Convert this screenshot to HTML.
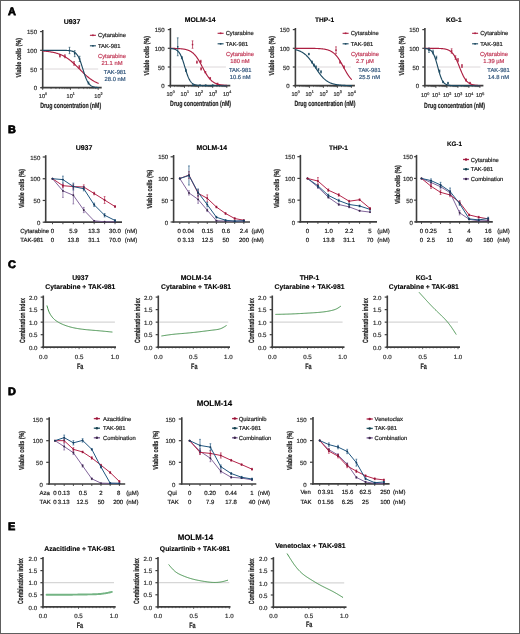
<!DOCTYPE html>
<html><head><meta charset="utf-8"><style>
html,body{margin:0;padding:0;background:#fff;}
#wrap{position:relative;width:520px;height:634px;overflow:hidden;background:#fff;}
svg{display:block;will-change:transform;text-rendering:geometricPrecision;font-family:"Liberation Sans",sans-serif;}
#bd{position:absolute;left:0;top:0;width:520px;height:634px;box-sizing:border-box;border:1px solid #5e5e5e;}
</style></head><body><div id="wrap">
<svg width="520" height="634" viewBox="0 0 520 634">
<g>
<rect x="0" y="0" width="520" height="634" fill="#fff"/>
<text x="8.00" y="14.60" font-size="10.9" text-anchor="start" font-weight="bold" fill="#000" stroke="#000" stroke-width="0.75">A</text>
<text x="8.00" y="133.40" font-size="10.9" text-anchor="start" font-weight="bold" fill="#000" stroke="#000" stroke-width="0.75">B</text>
<text x="7.90" y="268.00" font-size="10.9" text-anchor="start" font-weight="bold" fill="#000" stroke="#000" stroke-width="0.75">C</text>
<text x="8.00" y="394.50" font-size="10.9" text-anchor="start" font-weight="bold" fill="#000" stroke="#000" stroke-width="0.75">D</text>
<text x="8.00" y="530.20" font-size="10.9" text-anchor="start" font-weight="bold" fill="#000" stroke="#000" stroke-width="0.75">E</text>
<line x1="44.70" y1="69.00" x2="98.20" y2="69.00" stroke="#d2cbce" stroke-width="0.75"/>
<line x1="42.70" y1="30.00" x2="42.70" y2="88.30" stroke="#3e3e3e" stroke-width="1.6"/>
<line x1="40.10" y1="31.60" x2="42.70" y2="31.60" stroke="#3e3e3e" stroke-width="1.2"/>
<text x="37.00" y="34.20" font-size="6.0" text-anchor="end" fill="#333" stroke="#333" stroke-width="0.2">150</text>
<line x1="40.10" y1="50.30" x2="42.70" y2="50.30" stroke="#3e3e3e" stroke-width="1.2"/>
<text x="37.00" y="52.90" font-size="6.0" text-anchor="end" fill="#333" stroke="#333" stroke-width="0.2">100</text>
<line x1="40.10" y1="69.00" x2="42.70" y2="69.00" stroke="#3e3e3e" stroke-width="1.2"/>
<text x="37.00" y="71.60" font-size="6.0" text-anchor="end" fill="#333" stroke="#333" stroke-width="0.2">50</text>
<line x1="40.10" y1="87.70" x2="42.70" y2="87.70" stroke="#3e3e3e" stroke-width="1.2"/>
<text x="37.00" y="90.30" font-size="6.0" text-anchor="end" fill="#333" stroke="#333" stroke-width="0.2">0</text>
<line x1="41.50" y1="87.70" x2="101.70" y2="87.70" stroke="#3e3e3e" stroke-width="1.8"/>
<line x1="42.70" y1="87.70" x2="42.70" y2="89.90" stroke="#3e3e3e" stroke-width="0.9"/>
<line x1="51.05" y1="87.70" x2="51.05" y2="89.10" stroke="#3e3e3e" stroke-width="0.6"/>
<line x1="55.94" y1="87.70" x2="55.94" y2="89.10" stroke="#3e3e3e" stroke-width="0.6"/>
<line x1="59.41" y1="87.70" x2="59.41" y2="89.10" stroke="#3e3e3e" stroke-width="0.6"/>
<line x1="62.10" y1="87.70" x2="62.10" y2="89.10" stroke="#3e3e3e" stroke-width="0.6"/>
<line x1="64.29" y1="87.70" x2="64.29" y2="89.10" stroke="#3e3e3e" stroke-width="0.6"/>
<line x1="66.15" y1="87.70" x2="66.15" y2="89.10" stroke="#3e3e3e" stroke-width="0.6"/>
<line x1="67.76" y1="87.70" x2="67.76" y2="89.10" stroke="#3e3e3e" stroke-width="0.6"/>
<line x1="69.18" y1="87.70" x2="69.18" y2="89.10" stroke="#3e3e3e" stroke-width="0.6"/>
<text x="41.90" y="97.80" font-size="5.6" text-anchor="middle" fill="#333" stroke="#333" stroke-width="0.2">10</text>
<text x="45.10" y="95.10" font-size="3.7" text-anchor="start" fill="#333" stroke="#333" stroke-width="0.2">0</text>
<line x1="70.45" y1="87.70" x2="70.45" y2="89.90" stroke="#3e3e3e" stroke-width="0.9"/>
<line x1="78.80" y1="87.70" x2="78.80" y2="89.10" stroke="#3e3e3e" stroke-width="0.6"/>
<line x1="83.69" y1="87.70" x2="83.69" y2="89.10" stroke="#3e3e3e" stroke-width="0.6"/>
<line x1="87.16" y1="87.70" x2="87.16" y2="89.10" stroke="#3e3e3e" stroke-width="0.6"/>
<line x1="89.85" y1="87.70" x2="89.85" y2="89.10" stroke="#3e3e3e" stroke-width="0.6"/>
<line x1="92.04" y1="87.70" x2="92.04" y2="89.10" stroke="#3e3e3e" stroke-width="0.6"/>
<line x1="93.90" y1="87.70" x2="93.90" y2="89.10" stroke="#3e3e3e" stroke-width="0.6"/>
<line x1="95.51" y1="87.70" x2="95.51" y2="89.10" stroke="#3e3e3e" stroke-width="0.6"/>
<line x1="96.93" y1="87.70" x2="96.93" y2="89.10" stroke="#3e3e3e" stroke-width="0.6"/>
<text x="69.65" y="97.80" font-size="5.6" text-anchor="middle" fill="#333" stroke="#333" stroke-width="0.2">10</text>
<text x="72.85" y="95.10" font-size="3.7" text-anchor="start" fill="#333" stroke="#333" stroke-width="0.2">1</text>
<line x1="98.20" y1="87.70" x2="98.20" y2="89.90" stroke="#3e3e3e" stroke-width="0.9"/>
<text x="97.40" y="97.80" font-size="5.6" text-anchor="middle" fill="#333" stroke="#333" stroke-width="0.2">10</text>
<text x="100.60" y="95.10" font-size="3.7" text-anchor="start" fill="#333" stroke="#333" stroke-width="0.2">2</text>
<text x="70.65" y="108.10" font-size="7.6" text-anchor="middle" font-weight="bold" fill="#222222" stroke="#222222" stroke-width="0.2" textLength="61.00" lengthAdjust="spacingAndGlyphs">Drug concentration (nM)</text>
<text x="21.50" y="57.80" font-size="7.2" text-anchor="middle" font-weight="bold" fill="#222222" stroke="#222222" stroke-width="0.2" transform="rotate(-90 21.50 57.80)" textLength="39.50" lengthAdjust="spacingAndGlyphs">Viable cells (%)</text>
<text x="72.00" y="23.60" font-size="7.0" text-anchor="middle" font-weight="bold" fill="#000" stroke="#000" stroke-width="0.12">U937</text>
<path d="M42.70,51.00 L43.26,51.04 L43.81,51.08 L44.37,51.13 L44.92,51.18 L45.48,51.23 L46.03,51.29 L46.59,51.35 L47.14,51.41 L47.70,51.48 L48.25,51.55 L48.81,51.62 L49.36,51.70 L49.92,51.78 L50.47,51.87 L51.03,51.97 L51.58,52.06 L52.14,52.17 L52.69,52.28 L53.25,52.39 L53.80,52.51 L54.36,52.64 L54.91,52.77 L55.47,52.92 L56.02,53.07 L56.58,53.22 L57.13,53.39 L57.69,53.56 L58.24,53.75 L58.80,53.94 L59.35,54.14 L59.91,54.35 L60.46,54.57 L61.02,54.80 L61.57,55.05 L62.12,55.30 L62.68,55.57 L63.23,55.84 L63.79,56.13 L64.34,56.43 L64.90,56.74 L65.45,57.07 L66.01,57.41 L66.56,57.76 L67.12,58.12 L67.68,58.50 L68.23,58.89 L68.78,59.29 L69.34,59.71 L69.90,60.14 L70.45,60.58 L71.00,61.03 L71.56,61.49 L72.12,61.97 L72.67,62.45 L73.23,62.95 L73.78,63.45 L74.34,63.97 L74.89,64.49 L75.44,65.02 L76.00,65.56 L76.56,66.10 L77.11,66.65 L77.67,67.21 L78.22,67.76 L78.78,68.32 L79.33,68.88 L79.89,69.44 L80.44,70.00 L81.00,70.56 L81.55,71.11 L82.11,71.66 L82.66,72.21 L83.22,72.75 L83.77,73.28 L84.33,73.81 L84.88,74.33 L85.44,74.84 L85.99,75.34 L86.55,75.83 L87.10,76.31 L87.66,76.78 L88.21,77.23 L88.77,77.68 L89.32,78.11 L89.88,78.53 L90.43,78.94 L90.98,79.33 L91.54,79.72 L92.09,80.09 L92.65,80.44 L93.21,80.79 L93.76,81.12 L94.31,81.44 L94.87,81.74 L95.42,82.04 L95.98,82.32 L96.53,82.59 L97.09,82.85 L97.65,83.09 L98.20,83.33" fill="none" stroke="#ad1f42" stroke-width="1.15" stroke-linejoin="round" stroke-linecap="round"/>
<path d="M42.70,50.30 L43.26,50.30 L43.81,50.30 L44.37,50.30 L44.92,50.30 L45.48,50.30 L46.03,50.30 L46.59,50.30 L47.14,50.30 L47.70,50.30 L48.25,50.30 L48.81,50.30 L49.36,50.30 L49.92,50.30 L50.47,50.30 L51.03,50.30 L51.58,50.30 L52.14,50.30 L52.69,50.30 L53.25,50.30 L53.80,50.30 L54.36,50.30 L54.91,50.30 L55.47,50.30 L56.02,50.30 L56.58,50.30 L57.13,50.30 L57.69,50.31 L58.24,50.31 L58.80,50.31 L59.35,50.31 L59.91,50.31 L60.46,50.32 L61.02,50.32 L61.57,50.32 L62.12,50.33 L62.68,50.33 L63.23,50.34 L63.79,50.35 L64.34,50.36 L64.90,50.37 L65.45,50.39 L66.01,50.41 L66.56,50.43 L67.12,50.45 L67.68,50.49 L68.23,50.53 L68.78,50.58 L69.34,50.63 L69.90,50.70 L70.45,50.79 L71.00,50.89 L71.56,51.02 L72.12,51.16 L72.67,51.34 L73.23,51.56 L73.78,51.82 L74.34,52.12 L74.89,52.49 L75.44,52.93 L76.00,53.44 L76.56,54.04 L77.11,54.74 L77.67,55.56 L78.22,56.50 L78.78,57.56 L79.33,58.76 L79.89,60.09 L80.44,61.55 L81.00,63.13 L81.55,64.81 L82.11,66.56 L82.66,68.35 L83.22,70.16 L83.77,71.94 L84.33,73.68 L84.88,75.33 L85.44,76.87 L85.99,78.30 L86.55,79.59 L87.10,80.75 L87.66,81.78 L88.21,82.68 L88.77,83.47 L89.32,84.14 L89.88,84.72 L90.43,85.21 L90.98,85.62 L91.54,85.97 L92.09,86.26 L92.65,86.51 L93.21,86.71 L93.76,86.88 L94.31,87.02 L94.87,87.14 L95.42,87.24 L95.98,87.32 L96.53,87.38 L97.09,87.44 L97.65,87.49 L98.20,87.52" fill="none" stroke="#1d4a62" stroke-width="1.15" stroke-linejoin="round" stroke-linecap="round"/>
<line x1="59.91" y1="54.79" x2="59.91" y2="57.03" stroke="#ad1f42" stroke-width="0.7"/>
<line x1="59.01" y1="54.79" x2="60.80" y2="54.79" stroke="#ad1f42" stroke-width="0.6"/>
<line x1="59.01" y1="57.03" x2="60.80" y2="57.03" stroke="#ad1f42" stroke-width="0.6"/>
<rect x="59.16" y="55.16" width="1.5" height="1.5" fill="#ad1f42"/>
<line x1="64.90" y1="54.79" x2="64.90" y2="57.78" stroke="#ad1f42" stroke-width="0.7"/>
<line x1="64.00" y1="54.79" x2="65.80" y2="54.79" stroke="#ad1f42" stroke-width="0.6"/>
<line x1="64.00" y1="57.78" x2="65.80" y2="57.78" stroke="#ad1f42" stroke-width="0.6"/>
<rect x="64.15" y="55.53" width="1.5" height="1.5" fill="#ad1f42"/>
<line x1="74.06" y1="61.52" x2="74.06" y2="65.26" stroke="#ad1f42" stroke-width="0.7"/>
<line x1="73.16" y1="61.52" x2="74.96" y2="61.52" stroke="#ad1f42" stroke-width="0.6"/>
<line x1="73.16" y1="65.26" x2="74.96" y2="65.26" stroke="#ad1f42" stroke-width="0.6"/>
<rect x="73.31" y="62.64" width="1.5" height="1.5" fill="#ad1f42"/>
<line x1="79.33" y1="65.41" x2="79.33" y2="68.40" stroke="#ad1f42" stroke-width="0.7"/>
<line x1="78.43" y1="65.41" x2="80.23" y2="65.41" stroke="#ad1f42" stroke-width="0.6"/>
<line x1="78.43" y1="68.40" x2="80.23" y2="68.40" stroke="#ad1f42" stroke-width="0.6"/>
<rect x="78.58" y="66.16" width="1.5" height="1.5" fill="#ad1f42"/>
<line x1="69.51" y1="47.31" x2="69.51" y2="53.67" stroke="#1d4a62" stroke-width="0.7"/>
<line x1="68.61" y1="47.31" x2="70.41" y2="47.31" stroke="#1d4a62" stroke-width="0.6"/>
<line x1="68.61" y1="53.67" x2="70.41" y2="53.67" stroke="#1d4a62" stroke-width="0.6"/>
<rect x="68.76" y="49.74" width="1.5" height="1.5" fill="#1d4a62"/>
<line x1="74.70" y1="50.67" x2="74.70" y2="56.66" stroke="#1d4a62" stroke-width="0.7"/>
<line x1="73.80" y1="50.67" x2="75.60" y2="50.67" stroke="#1d4a62" stroke-width="0.6"/>
<line x1="73.80" y1="56.66" x2="75.60" y2="56.66" stroke="#1d4a62" stroke-width="0.6"/>
<rect x="73.95" y="52.92" width="1.5" height="1.5" fill="#1d4a62"/>
<line x1="79.61" y1="56.28" x2="79.61" y2="61.52" stroke="#1d4a62" stroke-width="0.7"/>
<line x1="78.71" y1="56.28" x2="80.51" y2="56.28" stroke="#1d4a62" stroke-width="0.6"/>
<line x1="78.71" y1="61.52" x2="80.51" y2="61.52" stroke="#1d4a62" stroke-width="0.6"/>
<rect x="78.86" y="58.15" width="1.5" height="1.5" fill="#1d4a62"/>
<line x1="88.49" y1="81.90" x2="88.49" y2="84.15" stroke="#1d4a62" stroke-width="0.7"/>
<line x1="87.59" y1="81.90" x2="89.39" y2="81.90" stroke="#1d4a62" stroke-width="0.6"/>
<line x1="87.59" y1="84.15" x2="89.39" y2="84.15" stroke="#1d4a62" stroke-width="0.6"/>
<rect x="87.74" y="82.28" width="1.5" height="1.5" fill="#1d4a62"/>
<line x1="89.90" y1="35.30" x2="95.90" y2="35.30" stroke="#ad1f42" stroke-width="1.1"/>
<rect x="92.10" y="34.50" width="1.6" height="1.6" fill="#ad1f42"/>
<text x="98.00" y="37.30" font-size="5.8" text-anchor="start" fill="#222222" stroke="#222222" stroke-width="0.2">Cytarabine</text>
<line x1="89.90" y1="45.80" x2="95.90" y2="45.80" stroke="#1d4a62" stroke-width="1.1"/>
<rect x="92.10" y="45.00" width="1.6" height="1.6" fill="#1d4a62"/>
<text x="98.00" y="47.80" font-size="5.8" text-anchor="start" fill="#222222" stroke="#222222" stroke-width="0.2">TAK-981</text>
<text x="112.00" y="57.70" font-size="5.8" text-anchor="middle" fill="#c23a58" stroke="#c23a58" stroke-width="0.2">Cytarabine</text>
<text x="112.00" y="64.70" font-size="5.8" text-anchor="middle" fill="#c23a58" stroke="#c23a58" stroke-width="0.2">21.1 nM</text>
<text x="115.10" y="74.40" font-size="5.8" text-anchor="middle" fill="#32567c" stroke="#32567c" stroke-width="0.2">TAK-981</text>
<text x="115.10" y="81.40" font-size="5.8" text-anchor="middle" fill="#32567c" stroke="#32567c" stroke-width="0.2">28.0 nM</text>
<line x1="172.40" y1="67.00" x2="225.90" y2="67.00" stroke="#d2cbce" stroke-width="0.75"/>
<line x1="170.40" y1="28.00" x2="170.40" y2="86.30" stroke="#3e3e3e" stroke-width="1.6"/>
<line x1="167.80" y1="29.60" x2="170.40" y2="29.60" stroke="#3e3e3e" stroke-width="1.2"/>
<text x="164.70" y="32.20" font-size="6.0" text-anchor="end" fill="#333" stroke="#333" stroke-width="0.2">150</text>
<line x1="167.80" y1="48.30" x2="170.40" y2="48.30" stroke="#3e3e3e" stroke-width="1.2"/>
<text x="164.70" y="50.90" font-size="6.0" text-anchor="end" fill="#333" stroke="#333" stroke-width="0.2">100</text>
<line x1="167.80" y1="67.00" x2="170.40" y2="67.00" stroke="#3e3e3e" stroke-width="1.2"/>
<text x="164.70" y="69.60" font-size="6.0" text-anchor="end" fill="#333" stroke="#333" stroke-width="0.2">50</text>
<line x1="167.80" y1="85.70" x2="170.40" y2="85.70" stroke="#3e3e3e" stroke-width="1.2"/>
<text x="164.70" y="88.30" font-size="6.0" text-anchor="end" fill="#333" stroke="#333" stroke-width="0.2">0</text>
<line x1="169.20" y1="85.70" x2="230.30" y2="85.70" stroke="#3e3e3e" stroke-width="1.8"/>
<line x1="170.40" y1="85.70" x2="170.40" y2="87.90" stroke="#3e3e3e" stroke-width="0.9"/>
<line x1="174.64" y1="85.70" x2="174.64" y2="87.10" stroke="#3e3e3e" stroke-width="0.6"/>
<line x1="177.13" y1="85.70" x2="177.13" y2="87.10" stroke="#3e3e3e" stroke-width="0.6"/>
<line x1="178.89" y1="85.70" x2="178.89" y2="87.10" stroke="#3e3e3e" stroke-width="0.6"/>
<line x1="180.26" y1="85.70" x2="180.26" y2="87.10" stroke="#3e3e3e" stroke-width="0.6"/>
<line x1="181.37" y1="85.70" x2="181.37" y2="87.10" stroke="#3e3e3e" stroke-width="0.6"/>
<line x1="182.32" y1="85.70" x2="182.32" y2="87.10" stroke="#3e3e3e" stroke-width="0.6"/>
<line x1="183.13" y1="85.70" x2="183.13" y2="87.10" stroke="#3e3e3e" stroke-width="0.6"/>
<line x1="183.85" y1="85.70" x2="183.85" y2="87.10" stroke="#3e3e3e" stroke-width="0.6"/>
<text x="169.60" y="95.80" font-size="5.6" text-anchor="middle" fill="#333" stroke="#333" stroke-width="0.2">10</text>
<text x="172.80" y="93.10" font-size="3.7" text-anchor="start" fill="#333" stroke="#333" stroke-width="0.2">0</text>
<line x1="184.50" y1="85.70" x2="184.50" y2="87.90" stroke="#3e3e3e" stroke-width="0.9"/>
<line x1="188.74" y1="85.70" x2="188.74" y2="87.10" stroke="#3e3e3e" stroke-width="0.6"/>
<line x1="191.23" y1="85.70" x2="191.23" y2="87.10" stroke="#3e3e3e" stroke-width="0.6"/>
<line x1="192.99" y1="85.70" x2="192.99" y2="87.10" stroke="#3e3e3e" stroke-width="0.6"/>
<line x1="194.36" y1="85.70" x2="194.36" y2="87.10" stroke="#3e3e3e" stroke-width="0.6"/>
<line x1="195.47" y1="85.70" x2="195.47" y2="87.10" stroke="#3e3e3e" stroke-width="0.6"/>
<line x1="196.42" y1="85.70" x2="196.42" y2="87.10" stroke="#3e3e3e" stroke-width="0.6"/>
<line x1="197.23" y1="85.70" x2="197.23" y2="87.10" stroke="#3e3e3e" stroke-width="0.6"/>
<line x1="197.95" y1="85.70" x2="197.95" y2="87.10" stroke="#3e3e3e" stroke-width="0.6"/>
<text x="183.70" y="95.80" font-size="5.6" text-anchor="middle" fill="#333" stroke="#333" stroke-width="0.2">10</text>
<text x="186.90" y="93.10" font-size="3.7" text-anchor="start" fill="#333" stroke="#333" stroke-width="0.2">1</text>
<line x1="198.60" y1="85.70" x2="198.60" y2="87.90" stroke="#3e3e3e" stroke-width="0.9"/>
<line x1="202.84" y1="85.70" x2="202.84" y2="87.10" stroke="#3e3e3e" stroke-width="0.6"/>
<line x1="205.33" y1="85.70" x2="205.33" y2="87.10" stroke="#3e3e3e" stroke-width="0.6"/>
<line x1="207.09" y1="85.70" x2="207.09" y2="87.10" stroke="#3e3e3e" stroke-width="0.6"/>
<line x1="208.46" y1="85.70" x2="208.46" y2="87.10" stroke="#3e3e3e" stroke-width="0.6"/>
<line x1="209.57" y1="85.70" x2="209.57" y2="87.10" stroke="#3e3e3e" stroke-width="0.6"/>
<line x1="210.52" y1="85.70" x2="210.52" y2="87.10" stroke="#3e3e3e" stroke-width="0.6"/>
<line x1="211.33" y1="85.70" x2="211.33" y2="87.10" stroke="#3e3e3e" stroke-width="0.6"/>
<line x1="212.05" y1="85.70" x2="212.05" y2="87.10" stroke="#3e3e3e" stroke-width="0.6"/>
<text x="197.80" y="95.80" font-size="5.6" text-anchor="middle" fill="#333" stroke="#333" stroke-width="0.2">10</text>
<text x="201.00" y="93.10" font-size="3.7" text-anchor="start" fill="#333" stroke="#333" stroke-width="0.2">2</text>
<line x1="212.70" y1="85.70" x2="212.70" y2="87.90" stroke="#3e3e3e" stroke-width="0.9"/>
<line x1="216.94" y1="85.70" x2="216.94" y2="87.10" stroke="#3e3e3e" stroke-width="0.6"/>
<line x1="219.43" y1="85.70" x2="219.43" y2="87.10" stroke="#3e3e3e" stroke-width="0.6"/>
<line x1="221.19" y1="85.70" x2="221.19" y2="87.10" stroke="#3e3e3e" stroke-width="0.6"/>
<line x1="222.56" y1="85.70" x2="222.56" y2="87.10" stroke="#3e3e3e" stroke-width="0.6"/>
<line x1="223.67" y1="85.70" x2="223.67" y2="87.10" stroke="#3e3e3e" stroke-width="0.6"/>
<line x1="224.62" y1="85.70" x2="224.62" y2="87.10" stroke="#3e3e3e" stroke-width="0.6"/>
<line x1="225.43" y1="85.70" x2="225.43" y2="87.10" stroke="#3e3e3e" stroke-width="0.6"/>
<line x1="226.15" y1="85.70" x2="226.15" y2="87.10" stroke="#3e3e3e" stroke-width="0.6"/>
<text x="211.90" y="95.80" font-size="5.6" text-anchor="middle" fill="#333" stroke="#333" stroke-width="0.2">10</text>
<text x="215.10" y="93.10" font-size="3.7" text-anchor="start" fill="#333" stroke="#333" stroke-width="0.2">3</text>
<line x1="226.80" y1="85.70" x2="226.80" y2="87.90" stroke="#3e3e3e" stroke-width="0.9"/>
<text x="226.00" y="95.80" font-size="5.6" text-anchor="middle" fill="#333" stroke="#333" stroke-width="0.2">10</text>
<text x="229.20" y="93.10" font-size="3.7" text-anchor="start" fill="#333" stroke="#333" stroke-width="0.2">4</text>
<text x="200.60" y="106.10" font-size="7.6" text-anchor="middle" font-weight="bold" fill="#222222" stroke="#222222" stroke-width="0.2" textLength="61.00" lengthAdjust="spacingAndGlyphs">Drug concentration (nM)</text>
<text x="149.20" y="55.80" font-size="7.2" text-anchor="middle" font-weight="bold" fill="#222222" stroke="#222222" stroke-width="0.2" transform="rotate(-90 149.20 55.80)" textLength="39.50" lengthAdjust="spacingAndGlyphs">Viable cells (%)</text>
<text x="200.20" y="21.60" font-size="6.85" text-anchor="middle" font-weight="bold" fill="#000" stroke="#000" stroke-width="0.12">MOLM-14</text>
<path d="M170.40,48.35 L170.68,48.36 L170.96,48.36 L171.25,48.36 L171.53,48.37 L171.81,48.37 L172.09,48.38 L172.37,48.38 L172.66,48.39 L172.94,48.39 L173.22,48.40 L173.50,48.40 L173.78,48.41 L174.07,48.41 L174.35,48.42 L174.63,48.43 L174.91,48.44 L175.19,48.44 L175.48,48.45 L175.76,48.46 L176.04,48.47 L176.32,48.48 L176.60,48.49 L176.89,48.50 L177.17,48.52 L177.45,48.53 L177.73,48.54 L178.01,48.56 L178.30,48.57 L178.58,48.59 L178.86,48.60 L179.14,48.62 L179.42,48.64 L179.71,48.66 L179.99,48.68 L180.27,48.70 L180.55,48.73 L180.83,48.75 L181.12,48.78 L181.40,48.81 L181.68,48.84 L181.96,48.87 L182.24,48.90 L182.53,48.94 L182.81,48.97 L183.09,49.01 L183.37,49.05 L183.65,49.10 L183.94,49.14 L184.22,49.19 L184.50,49.24 L184.78,49.30 L185.06,49.36 L185.35,49.42 L185.63,49.48 L185.91,49.55 L186.19,49.62 L186.47,49.69 L186.76,49.77 L187.04,49.86 L187.32,49.95 L187.60,50.04 L187.88,50.14 L188.17,50.24 L188.45,50.35 L188.73,50.46 L189.01,50.58 L189.29,50.71 L189.58,50.84 L189.86,50.98 L190.14,51.13 L190.42,51.28 L190.70,51.45 L190.99,51.62 L191.27,51.79 L191.55,51.98 L191.83,52.18 L192.11,52.38 L192.40,52.60 L192.68,52.82 L192.96,53.05 L193.24,53.30 L193.52,53.55 L193.81,53.82 L194.09,54.09 L194.37,54.38 L194.65,54.68 L194.93,54.99 L195.22,55.31 L195.50,55.65 L195.78,55.99 L196.06,56.35 L196.34,56.72 L196.63,57.10 L196.91,57.49 L197.19,57.90 L197.47,58.31 L197.75,58.74 L198.04,59.18 L198.32,59.63 L198.60,60.09 L198.88,60.56 L199.16,61.04 L199.45,61.53 L199.73,62.02 L200.01,62.53 L200.29,63.04 L200.57,63.55 L200.86,64.08 L201.14,64.60 L201.42,65.14 L201.70,65.67 L201.98,66.21 L202.27,66.74 L202.55,67.28 L202.83,67.82 L203.11,68.36 L203.39,68.89 L203.68,69.42 L203.96,69.95 L204.24,70.47 L204.52,70.99 L204.80,71.50 L205.09,72.00 L205.37,72.50 L205.65,72.98 L205.93,73.46 L206.21,73.93 L206.50,74.39 L206.78,74.84 L207.06,75.28 L207.34,75.71 L207.62,76.12 L207.91,76.53 L208.19,76.92 L208.47,77.30 L208.75,77.67 L209.03,78.03 L209.32,78.37 L209.60,78.70 L209.88,79.03 L210.16,79.34 L210.44,79.63 L210.73,79.92 L211.01,80.20 L211.29,80.46 L211.57,80.72 L211.85,80.96 L212.14,81.19 L212.42,81.42 L212.70,81.63 L212.98,81.83 L213.26,82.03 L213.55,82.21 L213.83,82.39 L214.11,82.56 L214.39,82.72 L214.67,82.88 L214.96,83.02 L215.24,83.16 L215.52,83.30 L215.80,83.42 L216.08,83.54 L216.37,83.66 L216.65,83.76 L216.93,83.87 L217.21,83.97 L217.49,84.06 L217.78,84.15 L218.06,84.23 L218.34,84.31 L218.62,84.38 L218.90,84.46 L219.19,84.52 L219.47,84.59 L219.75,84.65 L220.03,84.70 L220.31,84.76 L220.60,84.81 L220.88,84.86 L221.16,84.90 L221.44,84.95 L221.72,84.99 L222.01,85.03 L222.29,85.07 L222.57,85.10 L222.85,85.13 L223.13,85.16 L223.42,85.19 L223.70,85.22 L223.98,85.25 L224.26,85.27 L224.54,85.30 L224.83,85.32 L225.11,85.34 L225.39,85.36 L225.67,85.38 L225.95,85.40 L226.24,85.41 L226.52,85.43 L226.80,85.44" fill="none" stroke="#ad1f42" stroke-width="1.15" stroke-linejoin="round" stroke-linecap="round"/>
<path d="M170.40,48.51 L170.68,48.53 L170.96,48.55 L171.25,48.58 L171.53,48.61 L171.81,48.64 L172.09,48.68 L172.37,48.72 L172.66,48.76 L172.94,48.81 L173.22,48.86 L173.50,48.92 L173.78,48.99 L174.07,49.06 L174.35,49.14 L174.63,49.23 L174.91,49.32 L175.19,49.43 L175.48,49.54 L175.76,49.67 L176.04,49.81 L176.32,49.97 L176.60,50.13 L176.89,50.32 L177.17,50.52 L177.45,50.74 L177.73,50.98 L178.01,51.25 L178.30,51.54 L178.58,51.85 L178.86,52.19 L179.14,52.55 L179.42,52.95 L179.71,53.38 L179.99,53.84 L180.27,54.34 L180.55,54.87 L180.83,55.43 L181.12,56.04 L181.40,56.68 L181.68,57.35 L181.96,58.07 L182.24,58.82 L182.53,59.60 L182.81,60.41 L183.09,61.26 L183.37,62.13 L183.65,63.02 L183.94,63.93 L184.22,64.86 L184.50,65.80 L184.78,66.75 L185.06,67.70 L185.35,68.64 L185.63,69.57 L185.91,70.50 L186.19,71.40 L186.47,72.28 L186.76,73.14 L187.04,73.97 L187.32,74.77 L187.60,75.54 L187.88,76.27 L188.17,76.97 L188.45,77.63 L188.73,78.25 L189.01,78.84 L189.29,79.39 L189.58,79.90 L189.86,80.38 L190.14,80.83 L190.42,81.24 L190.70,81.62 L190.99,81.98 L191.27,82.30 L191.55,82.60 L191.83,82.88 L192.11,83.13 L192.40,83.36 L192.68,83.58 L192.96,83.77 L193.24,83.95 L193.52,84.11 L193.81,84.26 L194.09,84.39 L194.37,84.51 L194.65,84.62 L194.93,84.72 L195.22,84.82 L195.50,84.90 L195.78,84.98 L196.06,85.04 L196.34,85.11 L196.63,85.16 L196.91,85.21 L197.19,85.26 L197.47,85.30 L197.75,85.34 L198.04,85.37 L198.32,85.41 L198.60,85.43 L198.88,85.46 L199.16,85.48 L199.45,85.50 L199.73,85.52 L200.01,85.54 L200.29,85.55 L200.57,85.57 L200.86,85.58 L201.14,85.59 L201.42,85.60 L201.70,85.61 L201.98,85.62 L202.27,85.63 L202.55,85.64 L202.83,85.64 L203.11,85.65 L203.39,85.65 L203.68,85.66 L203.96,85.66 L204.24,85.66 L204.52,85.67 L204.80,85.67 L205.09,85.67 L205.37,85.68 L205.65,85.68 L205.93,85.68 L206.21,85.68 L206.50,85.68 L206.78,85.69 L207.06,85.69 L207.34,85.69 L207.62,85.69 L207.91,85.69 L208.19,85.69 L208.47,85.69 L208.75,85.69 L209.03,85.69 L209.32,85.69 L209.60,85.69 L209.88,85.70 L210.16,85.70 L210.44,85.70 L210.73,85.70 L211.01,85.70 L211.29,85.70 L211.57,85.70 L211.85,85.70 L212.14,85.70 L212.42,85.70 L212.70,85.70 L212.98,85.70 L213.26,85.70 L213.55,85.70 L213.83,85.70 L214.11,85.70 L214.39,85.70 L214.67,85.70 L214.96,85.70 L215.24,85.70 L215.52,85.70 L215.80,85.70 L216.08,85.70 L216.37,85.70 L216.65,85.70 L216.93,85.70 L217.21,85.70 L217.49,85.70 L217.78,85.70 L218.06,85.70 L218.34,85.70 L218.62,85.70 L218.90,85.70 L219.19,85.70 L219.47,85.70 L219.75,85.70 L220.03,85.70 L220.31,85.70 L220.60,85.70 L220.88,85.70 L221.16,85.70 L221.44,85.70 L221.72,85.70 L222.01,85.70 L222.29,85.70 L222.57,85.70 L222.85,85.70 L223.13,85.70 L223.42,85.70 L223.70,85.70 L223.98,85.70 L224.26,85.70 L224.54,85.70 L224.83,85.70 L225.11,85.70 L225.39,85.70 L225.67,85.70 L225.95,85.70 L226.24,85.70 L226.52,85.70 L226.80,85.70" fill="none" stroke="#1d4a62" stroke-width="1.15" stroke-linejoin="round" stroke-linecap="round"/>
<line x1="192.54" y1="40.82" x2="192.54" y2="48.30" stroke="#ad1f42" stroke-width="0.7"/>
<line x1="191.64" y1="40.82" x2="193.44" y2="40.82" stroke="#ad1f42" stroke-width="0.6"/>
<line x1="191.64" y1="48.30" x2="193.44" y2="48.30" stroke="#ad1f42" stroke-width="0.6"/>
<rect x="191.79" y="43.81" width="1.5" height="1.5" fill="#ad1f42"/>
<line x1="196.91" y1="61.02" x2="196.91" y2="63.26" stroke="#ad1f42" stroke-width="0.7"/>
<line x1="196.01" y1="61.02" x2="197.81" y2="61.02" stroke="#ad1f42" stroke-width="0.6"/>
<line x1="196.01" y1="63.26" x2="197.81" y2="63.26" stroke="#ad1f42" stroke-width="0.6"/>
<rect x="196.16" y="61.39" width="1.5" height="1.5" fill="#ad1f42"/>
<line x1="200.72" y1="60.27" x2="200.72" y2="62.51" stroke="#ad1f42" stroke-width="0.7"/>
<line x1="199.81" y1="60.27" x2="201.62" y2="60.27" stroke="#ad1f42" stroke-width="0.6"/>
<line x1="199.81" y1="62.51" x2="201.62" y2="62.51" stroke="#ad1f42" stroke-width="0.6"/>
<rect x="199.97" y="60.64" width="1.5" height="1.5" fill="#ad1f42"/>
<line x1="201.14" y1="67.75" x2="201.14" y2="69.99" stroke="#ad1f42" stroke-width="0.7"/>
<line x1="200.24" y1="67.75" x2="202.04" y2="67.75" stroke="#ad1f42" stroke-width="0.6"/>
<line x1="200.24" y1="69.99" x2="202.04" y2="69.99" stroke="#ad1f42" stroke-width="0.6"/>
<rect x="200.39" y="68.12" width="1.5" height="1.5" fill="#ad1f42"/>
<line x1="205.37" y1="71.49" x2="205.37" y2="72.98" stroke="#ad1f42" stroke-width="0.7"/>
<line x1="204.47" y1="71.49" x2="206.27" y2="71.49" stroke="#ad1f42" stroke-width="0.6"/>
<line x1="204.47" y1="72.98" x2="206.27" y2="72.98" stroke="#ad1f42" stroke-width="0.6"/>
<rect x="204.62" y="71.49" width="1.5" height="1.5" fill="#ad1f42"/>
<line x1="210.16" y1="77.47" x2="210.16" y2="78.97" stroke="#ad1f42" stroke-width="0.7"/>
<line x1="209.26" y1="77.47" x2="211.06" y2="77.47" stroke="#ad1f42" stroke-width="0.6"/>
<line x1="209.26" y1="78.97" x2="211.06" y2="78.97" stroke="#ad1f42" stroke-width="0.6"/>
<rect x="209.41" y="77.47" width="1.5" height="1.5" fill="#ad1f42"/>
<line x1="217.49" y1="83.08" x2="217.49" y2="84.58" stroke="#ad1f42" stroke-width="0.7"/>
<line x1="216.59" y1="83.08" x2="218.39" y2="83.08" stroke="#ad1f42" stroke-width="0.6"/>
<line x1="216.59" y1="84.58" x2="218.39" y2="84.58" stroke="#ad1f42" stroke-width="0.6"/>
<rect x="216.74" y="83.08" width="1.5" height="1.5" fill="#ad1f42"/>
<line x1="177.73" y1="37.83" x2="177.73" y2="55.78" stroke="#1d4a62" stroke-width="0.7"/>
<line x1="176.83" y1="37.83" x2="178.63" y2="37.83" stroke="#1d4a62" stroke-width="0.6"/>
<line x1="176.83" y1="55.78" x2="178.63" y2="55.78" stroke="#1d4a62" stroke-width="0.6"/>
<rect x="176.98" y="46.05" width="1.5" height="1.5" fill="#1d4a62"/>
<line x1="181.82" y1="56.53" x2="181.82" y2="58.77" stroke="#1d4a62" stroke-width="0.7"/>
<line x1="180.92" y1="56.53" x2="182.72" y2="56.53" stroke="#1d4a62" stroke-width="0.6"/>
<line x1="180.92" y1="58.77" x2="182.72" y2="58.77" stroke="#1d4a62" stroke-width="0.6"/>
<rect x="181.07" y="56.90" width="1.5" height="1.5" fill="#1d4a62"/>
<line x1="185.91" y1="69.24" x2="185.91" y2="71.49" stroke="#1d4a62" stroke-width="0.7"/>
<line x1="185.01" y1="69.24" x2="186.81" y2="69.24" stroke="#1d4a62" stroke-width="0.6"/>
<line x1="185.01" y1="71.49" x2="186.81" y2="71.49" stroke="#1d4a62" stroke-width="0.6"/>
<rect x="185.16" y="69.62" width="1.5" height="1.5" fill="#1d4a62"/>
<line x1="192.96" y1="84.95" x2="192.96" y2="85.70" stroke="#1d4a62" stroke-width="0.7"/>
<line x1="192.06" y1="84.95" x2="193.86" y2="84.95" stroke="#1d4a62" stroke-width="0.6"/>
<line x1="192.06" y1="85.70" x2="193.86" y2="85.70" stroke="#1d4a62" stroke-width="0.6"/>
<rect x="192.21" y="84.58" width="1.5" height="1.5" fill="#1d4a62"/>
<line x1="200.01" y1="84.95" x2="200.01" y2="85.70" stroke="#1d4a62" stroke-width="0.7"/>
<line x1="199.11" y1="84.95" x2="200.91" y2="84.95" stroke="#1d4a62" stroke-width="0.6"/>
<line x1="199.11" y1="85.70" x2="200.91" y2="85.70" stroke="#1d4a62" stroke-width="0.6"/>
<rect x="199.26" y="84.58" width="1.5" height="1.5" fill="#1d4a62"/>
<line x1="205.65" y1="84.95" x2="205.65" y2="85.70" stroke="#1d4a62" stroke-width="0.7"/>
<line x1="204.75" y1="84.95" x2="206.55" y2="84.95" stroke="#1d4a62" stroke-width="0.6"/>
<line x1="204.75" y1="85.70" x2="206.55" y2="85.70" stroke="#1d4a62" stroke-width="0.6"/>
<rect x="204.90" y="84.58" width="1.5" height="1.5" fill="#1d4a62"/>
<line x1="212.70" y1="84.95" x2="212.70" y2="85.70" stroke="#1d4a62" stroke-width="0.7"/>
<line x1="211.80" y1="84.95" x2="213.60" y2="84.95" stroke="#1d4a62" stroke-width="0.6"/>
<line x1="211.80" y1="85.70" x2="213.60" y2="85.70" stroke="#1d4a62" stroke-width="0.6"/>
<rect x="211.95" y="84.58" width="1.5" height="1.5" fill="#1d4a62"/>
<line x1="217.60" y1="33.30" x2="223.60" y2="33.30" stroke="#ad1f42" stroke-width="1.1"/>
<rect x="219.80" y="32.50" width="1.6" height="1.6" fill="#ad1f42"/>
<text x="225.70" y="35.30" font-size="5.8" text-anchor="start" fill="#222222" stroke="#222222" stroke-width="0.2">Cytarabine</text>
<line x1="217.60" y1="43.80" x2="223.60" y2="43.80" stroke="#1d4a62" stroke-width="1.1"/>
<rect x="219.80" y="43.00" width="1.6" height="1.6" fill="#1d4a62"/>
<text x="225.70" y="45.80" font-size="5.8" text-anchor="start" fill="#222222" stroke="#222222" stroke-width="0.2">TAK-981</text>
<text x="240.00" y="55.70" font-size="5.8" text-anchor="middle" fill="#c23a58" stroke="#c23a58" stroke-width="0.2">Cytarabine</text>
<text x="240.00" y="62.70" font-size="5.8" text-anchor="middle" fill="#c23a58" stroke="#c23a58" stroke-width="0.2">180 nM</text>
<text x="240.20" y="72.40" font-size="5.8" text-anchor="middle" fill="#32567c" stroke="#32567c" stroke-width="0.2">TAK-981</text>
<text x="240.20" y="79.40" font-size="5.8" text-anchor="middle" fill="#32567c" stroke="#32567c" stroke-width="0.2">10.6 nM</text>
<line x1="297.40" y1="67.00" x2="350.90" y2="67.00" stroke="#d2cbce" stroke-width="0.75"/>
<line x1="295.40" y1="28.00" x2="295.40" y2="86.30" stroke="#3e3e3e" stroke-width="1.6"/>
<line x1="292.80" y1="29.60" x2="295.40" y2="29.60" stroke="#3e3e3e" stroke-width="1.2"/>
<text x="289.70" y="32.20" font-size="6.0" text-anchor="end" fill="#333" stroke="#333" stroke-width="0.2">150</text>
<line x1="292.80" y1="48.30" x2="295.40" y2="48.30" stroke="#3e3e3e" stroke-width="1.2"/>
<text x="289.70" y="50.90" font-size="6.0" text-anchor="end" fill="#333" stroke="#333" stroke-width="0.2">100</text>
<line x1="292.80" y1="67.00" x2="295.40" y2="67.00" stroke="#3e3e3e" stroke-width="1.2"/>
<text x="289.70" y="69.60" font-size="6.0" text-anchor="end" fill="#333" stroke="#333" stroke-width="0.2">50</text>
<line x1="292.80" y1="85.70" x2="295.40" y2="85.70" stroke="#3e3e3e" stroke-width="1.2"/>
<text x="289.70" y="88.30" font-size="6.0" text-anchor="end" fill="#333" stroke="#333" stroke-width="0.2">0</text>
<line x1="294.20" y1="85.70" x2="354.90" y2="85.70" stroke="#3e3e3e" stroke-width="1.8"/>
<line x1="295.40" y1="85.70" x2="295.40" y2="87.90" stroke="#3e3e3e" stroke-width="0.9"/>
<line x1="299.61" y1="85.70" x2="299.61" y2="87.10" stroke="#3e3e3e" stroke-width="0.6"/>
<line x1="302.08" y1="85.70" x2="302.08" y2="87.10" stroke="#3e3e3e" stroke-width="0.6"/>
<line x1="303.83" y1="85.70" x2="303.83" y2="87.10" stroke="#3e3e3e" stroke-width="0.6"/>
<line x1="305.19" y1="85.70" x2="305.19" y2="87.10" stroke="#3e3e3e" stroke-width="0.6"/>
<line x1="306.29" y1="85.70" x2="306.29" y2="87.10" stroke="#3e3e3e" stroke-width="0.6"/>
<line x1="307.23" y1="85.70" x2="307.23" y2="87.10" stroke="#3e3e3e" stroke-width="0.6"/>
<line x1="308.04" y1="85.70" x2="308.04" y2="87.10" stroke="#3e3e3e" stroke-width="0.6"/>
<line x1="308.76" y1="85.70" x2="308.76" y2="87.10" stroke="#3e3e3e" stroke-width="0.6"/>
<text x="294.60" y="95.80" font-size="5.6" text-anchor="middle" fill="#333" stroke="#333" stroke-width="0.2">10</text>
<text x="297.80" y="93.10" font-size="3.7" text-anchor="start" fill="#333" stroke="#333" stroke-width="0.2">0</text>
<line x1="309.40" y1="85.70" x2="309.40" y2="87.90" stroke="#3e3e3e" stroke-width="0.9"/>
<line x1="313.61" y1="85.70" x2="313.61" y2="87.10" stroke="#3e3e3e" stroke-width="0.6"/>
<line x1="316.08" y1="85.70" x2="316.08" y2="87.10" stroke="#3e3e3e" stroke-width="0.6"/>
<line x1="317.83" y1="85.70" x2="317.83" y2="87.10" stroke="#3e3e3e" stroke-width="0.6"/>
<line x1="319.19" y1="85.70" x2="319.19" y2="87.10" stroke="#3e3e3e" stroke-width="0.6"/>
<line x1="320.29" y1="85.70" x2="320.29" y2="87.10" stroke="#3e3e3e" stroke-width="0.6"/>
<line x1="321.23" y1="85.70" x2="321.23" y2="87.10" stroke="#3e3e3e" stroke-width="0.6"/>
<line x1="322.04" y1="85.70" x2="322.04" y2="87.10" stroke="#3e3e3e" stroke-width="0.6"/>
<line x1="322.76" y1="85.70" x2="322.76" y2="87.10" stroke="#3e3e3e" stroke-width="0.6"/>
<text x="308.60" y="95.80" font-size="5.6" text-anchor="middle" fill="#333" stroke="#333" stroke-width="0.2">10</text>
<text x="311.80" y="93.10" font-size="3.7" text-anchor="start" fill="#333" stroke="#333" stroke-width="0.2">1</text>
<line x1="323.40" y1="85.70" x2="323.40" y2="87.90" stroke="#3e3e3e" stroke-width="0.9"/>
<line x1="327.61" y1="85.70" x2="327.61" y2="87.10" stroke="#3e3e3e" stroke-width="0.6"/>
<line x1="330.08" y1="85.70" x2="330.08" y2="87.10" stroke="#3e3e3e" stroke-width="0.6"/>
<line x1="331.83" y1="85.70" x2="331.83" y2="87.10" stroke="#3e3e3e" stroke-width="0.6"/>
<line x1="333.19" y1="85.70" x2="333.19" y2="87.10" stroke="#3e3e3e" stroke-width="0.6"/>
<line x1="334.29" y1="85.70" x2="334.29" y2="87.10" stroke="#3e3e3e" stroke-width="0.6"/>
<line x1="335.23" y1="85.70" x2="335.23" y2="87.10" stroke="#3e3e3e" stroke-width="0.6"/>
<line x1="336.04" y1="85.70" x2="336.04" y2="87.10" stroke="#3e3e3e" stroke-width="0.6"/>
<line x1="336.76" y1="85.70" x2="336.76" y2="87.10" stroke="#3e3e3e" stroke-width="0.6"/>
<text x="322.60" y="95.80" font-size="5.6" text-anchor="middle" fill="#333" stroke="#333" stroke-width="0.2">10</text>
<text x="325.80" y="93.10" font-size="3.7" text-anchor="start" fill="#333" stroke="#333" stroke-width="0.2">2</text>
<line x1="337.40" y1="85.70" x2="337.40" y2="87.90" stroke="#3e3e3e" stroke-width="0.9"/>
<line x1="341.61" y1="85.70" x2="341.61" y2="87.10" stroke="#3e3e3e" stroke-width="0.6"/>
<line x1="344.08" y1="85.70" x2="344.08" y2="87.10" stroke="#3e3e3e" stroke-width="0.6"/>
<line x1="345.83" y1="85.70" x2="345.83" y2="87.10" stroke="#3e3e3e" stroke-width="0.6"/>
<line x1="347.19" y1="85.70" x2="347.19" y2="87.10" stroke="#3e3e3e" stroke-width="0.6"/>
<line x1="348.29" y1="85.70" x2="348.29" y2="87.10" stroke="#3e3e3e" stroke-width="0.6"/>
<line x1="349.23" y1="85.70" x2="349.23" y2="87.10" stroke="#3e3e3e" stroke-width="0.6"/>
<line x1="350.04" y1="85.70" x2="350.04" y2="87.10" stroke="#3e3e3e" stroke-width="0.6"/>
<line x1="350.76" y1="85.70" x2="350.76" y2="87.10" stroke="#3e3e3e" stroke-width="0.6"/>
<text x="336.60" y="95.80" font-size="5.6" text-anchor="middle" fill="#333" stroke="#333" stroke-width="0.2">10</text>
<text x="339.80" y="93.10" font-size="3.7" text-anchor="start" fill="#333" stroke="#333" stroke-width="0.2">3</text>
<line x1="351.40" y1="85.70" x2="351.40" y2="87.90" stroke="#3e3e3e" stroke-width="0.9"/>
<text x="350.60" y="95.80" font-size="5.6" text-anchor="middle" fill="#333" stroke="#333" stroke-width="0.2">10</text>
<text x="353.80" y="93.10" font-size="3.7" text-anchor="start" fill="#333" stroke="#333" stroke-width="0.2">4</text>
<text x="325.00" y="106.10" font-size="7.6" text-anchor="middle" font-weight="bold" fill="#222222" stroke="#222222" stroke-width="0.2" textLength="61.00" lengthAdjust="spacingAndGlyphs">Drug concentration (nM)</text>
<text x="274.20" y="55.80" font-size="7.2" text-anchor="middle" font-weight="bold" fill="#222222" stroke="#222222" stroke-width="0.2" transform="rotate(-90 274.20 55.80)" textLength="39.50" lengthAdjust="spacingAndGlyphs">Viable cells (%)</text>
<text x="324.60" y="21.60" font-size="6.6" text-anchor="middle" font-weight="bold" fill="#000" stroke="#000" stroke-width="0.12">THP-1</text>
<path d="M295.40,48.30 L295.68,48.30 L295.96,48.30 L296.24,48.30 L296.52,48.30 L296.80,48.30 L297.08,48.30 L297.36,48.30 L297.64,48.30 L297.92,48.30 L298.20,48.30 L298.48,48.31 L298.76,48.31 L299.04,48.31 L299.32,48.31 L299.60,48.31 L299.88,48.31 L300.16,48.31 L300.44,48.31 L300.72,48.31 L301.00,48.31 L301.28,48.31 L301.56,48.31 L301.84,48.31 L302.12,48.31 L302.40,48.31 L302.68,48.31 L302.96,48.31 L303.24,48.31 L303.52,48.31 L303.80,48.31 L304.08,48.32 L304.36,48.32 L304.64,48.32 L304.92,48.32 L305.20,48.32 L305.48,48.32 L305.76,48.32 L306.04,48.32 L306.32,48.32 L306.60,48.33 L306.88,48.33 L307.16,48.33 L307.44,48.33 L307.72,48.33 L308.00,48.33 L308.28,48.34 L308.56,48.34 L308.84,48.34 L309.12,48.34 L309.40,48.35 L309.68,48.35 L309.96,48.35 L310.24,48.35 L310.52,48.36 L310.80,48.36 L311.08,48.36 L311.36,48.37 L311.64,48.37 L311.92,48.37 L312.20,48.38 L312.48,48.38 L312.76,48.39 L313.04,48.39 L313.32,48.40 L313.60,48.40 L313.88,48.41 L314.16,48.42 L314.44,48.42 L314.72,48.43 L315.00,48.44 L315.28,48.44 L315.56,48.45 L315.84,48.46 L316.12,48.47 L316.40,48.48 L316.68,48.49 L316.96,48.50 L317.24,48.51 L317.52,48.52 L317.80,48.54 L318.08,48.55 L318.36,48.56 L318.64,48.58 L318.92,48.59 L319.20,48.61 L319.48,48.63 L319.76,48.65 L320.04,48.67 L320.32,48.69 L320.60,48.71 L320.88,48.73 L321.16,48.75 L321.44,48.78 L321.72,48.81 L322.00,48.84 L322.28,48.87 L322.56,48.90 L322.84,48.93 L323.12,48.97 L323.40,49.00 L323.68,49.04 L323.96,49.08 L324.24,49.13 L324.52,49.17 L324.80,49.22 L325.08,49.27 L325.36,49.33 L325.64,49.38 L325.92,49.44 L326.20,49.51 L326.48,49.57 L326.76,49.64 L327.04,49.71 L327.32,49.79 L327.60,49.87 L327.88,49.96 L328.16,50.05 L328.44,50.14 L328.72,50.24 L329.00,50.35 L329.28,50.46 L329.56,50.57 L329.84,50.69 L330.12,50.82 L330.40,50.95 L330.68,51.09 L330.96,51.24 L331.24,51.39 L331.52,51.55 L331.80,51.72 L332.08,51.89 L332.36,52.08 L332.64,52.27 L332.92,52.47 L333.20,52.68 L333.48,52.90 L333.76,53.12 L334.04,53.36 L334.32,53.61 L334.60,53.86 L334.88,54.13 L335.16,54.41 L335.44,54.69 L335.72,54.99 L336.00,55.30 L336.28,55.62 L336.56,55.95 L336.84,56.29 L337.12,56.65 L337.40,57.01 L337.68,57.39 L337.96,57.77 L338.24,58.17 L338.52,58.57 L338.80,58.99 L339.08,59.42 L339.36,59.85 L339.64,60.30 L339.92,60.76 L340.20,61.22 L340.48,61.69 L340.76,62.17 L341.04,62.65 L341.32,63.15 L341.60,63.64 L341.88,64.15 L342.16,64.65 L342.44,65.16 L342.72,65.68 L343.00,66.19 L343.28,66.71 L343.56,67.22 L343.84,67.74 L344.12,68.25 L344.40,68.77 L344.68,69.28 L344.96,69.79 L345.24,70.29 L345.52,70.79 L345.80,71.28 L346.08,71.77 L346.36,72.25 L346.64,72.72 L346.92,73.18 L347.20,73.64 L347.48,74.09 L347.76,74.52 L348.04,74.95 L348.32,75.37 L348.60,75.78 L348.88,76.18 L349.16,76.56 L349.44,76.94 L349.72,77.30 L350.00,77.66 L350.28,78.00 L350.56,78.33 L350.84,78.66 L351.12,78.97 L351.40,79.27" fill="none" stroke="#ad1f42" stroke-width="1.15" stroke-linejoin="round" stroke-linecap="round"/>
<path d="M295.40,49.71 L295.68,49.78 L295.96,49.84 L296.24,49.91 L296.52,49.98 L296.80,50.06 L297.08,50.14 L297.36,50.22 L297.64,50.31 L297.92,50.40 L298.20,50.49 L298.48,50.59 L298.76,50.69 L299.04,50.79 L299.32,50.90 L299.60,51.01 L299.88,51.13 L300.16,51.26 L300.44,51.38 L300.72,51.52 L301.00,51.65 L301.28,51.80 L301.56,51.95 L301.84,52.10 L302.12,52.26 L302.40,52.43 L302.68,52.60 L302.96,52.78 L303.24,52.96 L303.52,53.15 L303.80,53.35 L304.08,53.56 L304.36,53.77 L304.64,53.98 L304.92,54.21 L305.20,54.44 L305.48,54.68 L305.76,54.93 L306.04,55.19 L306.32,55.45 L306.60,55.72 L306.88,56.00 L307.16,56.28 L307.44,56.57 L307.72,56.87 L308.00,57.18 L308.28,57.50 L308.56,57.82 L308.84,58.15 L309.12,58.49 L309.40,58.84 L309.68,59.19 L309.96,59.55 L310.24,59.91 L310.52,60.28 L310.80,60.66 L311.08,61.05 L311.36,61.44 L311.64,61.83 L311.92,62.23 L312.20,62.64 L312.48,63.04 L312.76,63.46 L313.04,63.87 L313.32,64.29 L313.60,64.72 L313.88,65.14 L314.16,65.57 L314.44,66.00 L314.72,66.43 L315.00,66.86 L315.28,67.29 L315.56,67.72 L315.84,68.15 L316.12,68.58 L316.40,69.00 L316.68,69.43 L316.96,69.85 L317.24,70.27 L317.52,70.69 L317.80,71.10 L318.08,71.51 L318.36,71.91 L318.64,72.31 L318.92,72.70 L319.20,73.09 L319.48,73.47 L319.76,73.85 L320.04,74.22 L320.32,74.58 L320.60,74.94 L320.88,75.28 L321.16,75.63 L321.44,75.96 L321.72,76.29 L322.00,76.61 L322.28,76.92 L322.56,77.23 L322.84,77.53 L323.12,77.82 L323.40,78.10 L323.68,78.38 L323.96,78.64 L324.24,78.90 L324.52,79.16 L324.80,79.40 L325.08,79.64 L325.36,79.87 L325.64,80.09 L325.92,80.31 L326.20,80.52 L326.48,80.72 L326.76,80.91 L327.04,81.10 L327.32,81.29 L327.60,81.46 L327.88,81.63 L328.16,81.80 L328.44,81.95 L328.72,82.11 L329.00,82.25 L329.28,82.39 L329.56,82.53 L329.84,82.66 L330.12,82.79 L330.40,82.91 L330.68,83.03 L330.96,83.14 L331.24,83.25 L331.52,83.35 L331.80,83.45 L332.08,83.54 L332.36,83.64 L332.64,83.72 L332.92,83.81 L333.20,83.89 L333.48,83.97 L333.76,84.04 L334.04,84.11 L334.32,84.18 L334.60,84.25 L334.88,84.31 L335.16,84.37 L335.44,84.43 L335.72,84.48 L336.00,84.54 L336.28,84.59 L336.56,84.64 L336.84,84.68 L337.12,84.73 L337.40,84.77 L337.68,84.81 L337.96,84.85 L338.24,84.89 L338.52,84.92 L338.80,84.96 L339.08,84.99 L339.36,85.02 L339.64,85.05 L339.92,85.08 L340.20,85.11 L340.48,85.13 L340.76,85.16 L341.04,85.18 L341.32,85.21 L341.60,85.23 L341.88,85.25 L342.16,85.27 L342.44,85.29 L342.72,85.31 L343.00,85.32 L343.28,85.34 L343.56,85.36 L343.84,85.37 L344.12,85.39 L344.40,85.40 L344.68,85.41 L344.96,85.43 L345.24,85.44 L345.52,85.45 L345.80,85.46 L346.08,85.47 L346.36,85.48 L346.64,85.49 L346.92,85.50 L347.20,85.51 L347.48,85.52 L347.76,85.53 L348.04,85.53 L348.32,85.54 L348.60,85.55 L348.88,85.56 L349.16,85.56 L349.44,85.57 L349.72,85.57 L350.00,85.58 L350.28,85.59 L350.56,85.59 L350.84,85.60 L351.12,85.60 L351.40,85.60" fill="none" stroke="#1d4a62" stroke-width="1.15" stroke-linejoin="round" stroke-linecap="round"/>
<line x1="336.00" y1="46.80" x2="336.00" y2="53.54" stroke="#ad1f42" stroke-width="0.7"/>
<line x1="335.10" y1="46.80" x2="336.90" y2="46.80" stroke="#ad1f42" stroke-width="0.6"/>
<line x1="335.10" y1="53.54" x2="336.90" y2="53.54" stroke="#ad1f42" stroke-width="0.6"/>
<rect x="335.25" y="49.42" width="1.5" height="1.5" fill="#ad1f42"/>
<line x1="340.06" y1="61.02" x2="340.06" y2="63.26" stroke="#ad1f42" stroke-width="0.7"/>
<line x1="339.16" y1="61.02" x2="340.96" y2="61.02" stroke="#ad1f42" stroke-width="0.6"/>
<line x1="339.16" y1="63.26" x2="340.96" y2="63.26" stroke="#ad1f42" stroke-width="0.6"/>
<rect x="339.31" y="61.39" width="1.5" height="1.5" fill="#ad1f42"/>
<line x1="343.98" y1="65.88" x2="343.98" y2="68.12" stroke="#ad1f42" stroke-width="0.7"/>
<line x1="343.08" y1="65.88" x2="344.88" y2="65.88" stroke="#ad1f42" stroke-width="0.6"/>
<line x1="343.08" y1="68.12" x2="344.88" y2="68.12" stroke="#ad1f42" stroke-width="0.6"/>
<rect x="343.23" y="66.25" width="1.5" height="1.5" fill="#ad1f42"/>
<line x1="308.84" y1="53.35" x2="308.84" y2="54.84" stroke="#1d4a62" stroke-width="0.7"/>
<line x1="307.94" y1="53.35" x2="309.74" y2="53.35" stroke="#1d4a62" stroke-width="0.6"/>
<line x1="307.94" y1="54.84" x2="309.74" y2="54.84" stroke="#1d4a62" stroke-width="0.6"/>
<rect x="308.09" y="53.35" width="1.5" height="1.5" fill="#1d4a62"/>
<line x1="312.06" y1="61.02" x2="312.06" y2="63.26" stroke="#1d4a62" stroke-width="0.7"/>
<line x1="311.16" y1="61.02" x2="312.96" y2="61.02" stroke="#1d4a62" stroke-width="0.6"/>
<line x1="311.16" y1="63.26" x2="312.96" y2="63.26" stroke="#1d4a62" stroke-width="0.6"/>
<rect x="311.31" y="61.39" width="1.5" height="1.5" fill="#1d4a62"/>
<line x1="314.02" y1="64.01" x2="314.02" y2="66.25" stroke="#1d4a62" stroke-width="0.7"/>
<line x1="313.12" y1="64.01" x2="314.92" y2="64.01" stroke="#1d4a62" stroke-width="0.6"/>
<line x1="313.12" y1="66.25" x2="314.92" y2="66.25" stroke="#1d4a62" stroke-width="0.6"/>
<rect x="313.27" y="64.38" width="1.5" height="1.5" fill="#1d4a62"/>
<line x1="315.98" y1="65.88" x2="315.98" y2="68.12" stroke="#1d4a62" stroke-width="0.7"/>
<line x1="315.08" y1="65.88" x2="316.88" y2="65.88" stroke="#1d4a62" stroke-width="0.6"/>
<line x1="315.08" y1="68.12" x2="316.88" y2="68.12" stroke="#1d4a62" stroke-width="0.6"/>
<rect x="315.23" y="66.25" width="1.5" height="1.5" fill="#1d4a62"/>
<line x1="318.50" y1="68.50" x2="318.50" y2="70.74" stroke="#1d4a62" stroke-width="0.7"/>
<line x1="317.60" y1="68.50" x2="319.40" y2="68.50" stroke="#1d4a62" stroke-width="0.6"/>
<line x1="317.60" y1="70.74" x2="319.40" y2="70.74" stroke="#1d4a62" stroke-width="0.6"/>
<rect x="317.75" y="68.87" width="1.5" height="1.5" fill="#1d4a62"/>
<line x1="321.02" y1="70.74" x2="321.02" y2="72.98" stroke="#1d4a62" stroke-width="0.7"/>
<line x1="320.12" y1="70.74" x2="321.92" y2="70.74" stroke="#1d4a62" stroke-width="0.6"/>
<line x1="320.12" y1="72.98" x2="321.92" y2="72.98" stroke="#1d4a62" stroke-width="0.6"/>
<rect x="320.27" y="71.11" width="1.5" height="1.5" fill="#1d4a62"/>
<line x1="342.60" y1="33.30" x2="348.60" y2="33.30" stroke="#ad1f42" stroke-width="1.1"/>
<rect x="344.80" y="32.50" width="1.6" height="1.6" fill="#ad1f42"/>
<text x="350.70" y="35.30" font-size="5.8" text-anchor="start" fill="#222222" stroke="#222222" stroke-width="0.2">Cytarabine</text>
<line x1="342.60" y1="43.80" x2="348.60" y2="43.80" stroke="#1d4a62" stroke-width="1.1"/>
<rect x="344.80" y="43.00" width="1.6" height="1.6" fill="#1d4a62"/>
<text x="350.70" y="45.80" font-size="5.8" text-anchor="start" fill="#222222" stroke="#222222" stroke-width="0.2">TAK-981</text>
<text x="364.90" y="55.70" font-size="5.8" text-anchor="middle" fill="#c23a58" stroke="#c23a58" stroke-width="0.2">Cytarabine</text>
<text x="364.90" y="62.70" font-size="5.8" text-anchor="middle" fill="#c23a58" stroke="#c23a58" stroke-width="0.2">2.7 µM</text>
<text x="369.50" y="72.40" font-size="5.8" text-anchor="middle" fill="#32567c" stroke="#32567c" stroke-width="0.2">TAK-981</text>
<text x="369.50" y="79.40" font-size="5.8" text-anchor="middle" fill="#32567c" stroke="#32567c" stroke-width="0.2">25.5 nM</text>
<line x1="426.90" y1="67.00" x2="480.40" y2="67.00" stroke="#d2cbce" stroke-width="0.75"/>
<line x1="424.90" y1="28.00" x2="424.90" y2="86.30" stroke="#3e3e3e" stroke-width="1.6"/>
<line x1="422.30" y1="29.60" x2="424.90" y2="29.60" stroke="#3e3e3e" stroke-width="1.2"/>
<text x="419.20" y="32.20" font-size="6.0" text-anchor="end" fill="#333" stroke="#333" stroke-width="0.2">150</text>
<line x1="422.30" y1="48.30" x2="424.90" y2="48.30" stroke="#3e3e3e" stroke-width="1.2"/>
<text x="419.20" y="50.90" font-size="6.0" text-anchor="end" fill="#333" stroke="#333" stroke-width="0.2">100</text>
<line x1="422.30" y1="67.00" x2="424.90" y2="67.00" stroke="#3e3e3e" stroke-width="1.2"/>
<text x="419.20" y="69.60" font-size="6.0" text-anchor="end" fill="#333" stroke="#333" stroke-width="0.2">50</text>
<line x1="422.30" y1="85.70" x2="424.90" y2="85.70" stroke="#3e3e3e" stroke-width="1.2"/>
<text x="419.20" y="88.30" font-size="6.0" text-anchor="end" fill="#333" stroke="#333" stroke-width="0.2">0</text>
<line x1="423.70" y1="85.70" x2="483.40" y2="85.70" stroke="#3e3e3e" stroke-width="1.8"/>
<line x1="424.90" y1="85.70" x2="424.90" y2="87.90" stroke="#3e3e3e" stroke-width="0.9"/>
<line x1="428.21" y1="85.70" x2="428.21" y2="87.10" stroke="#3e3e3e" stroke-width="0.6"/>
<line x1="430.15" y1="85.70" x2="430.15" y2="87.10" stroke="#3e3e3e" stroke-width="0.6"/>
<line x1="431.52" y1="85.70" x2="431.52" y2="87.10" stroke="#3e3e3e" stroke-width="0.6"/>
<line x1="432.59" y1="85.70" x2="432.59" y2="87.10" stroke="#3e3e3e" stroke-width="0.6"/>
<line x1="433.46" y1="85.70" x2="433.46" y2="87.10" stroke="#3e3e3e" stroke-width="0.6"/>
<line x1="434.20" y1="85.70" x2="434.20" y2="87.10" stroke="#3e3e3e" stroke-width="0.6"/>
<line x1="434.83" y1="85.70" x2="434.83" y2="87.10" stroke="#3e3e3e" stroke-width="0.6"/>
<line x1="435.40" y1="85.70" x2="435.40" y2="87.10" stroke="#3e3e3e" stroke-width="0.6"/>
<text x="424.10" y="97.24" font-size="5.6" text-anchor="middle" fill="#333" stroke="#333" stroke-width="0.2">10</text>
<text x="427.30" y="94.54" font-size="3.7" text-anchor="start" fill="#333" stroke="#333" stroke-width="0.2">0</text>
<line x1="435.90" y1="85.70" x2="435.90" y2="87.90" stroke="#3e3e3e" stroke-width="0.9"/>
<line x1="439.21" y1="85.70" x2="439.21" y2="87.10" stroke="#3e3e3e" stroke-width="0.6"/>
<line x1="441.15" y1="85.70" x2="441.15" y2="87.10" stroke="#3e3e3e" stroke-width="0.6"/>
<line x1="442.52" y1="85.70" x2="442.52" y2="87.10" stroke="#3e3e3e" stroke-width="0.6"/>
<line x1="443.59" y1="85.70" x2="443.59" y2="87.10" stroke="#3e3e3e" stroke-width="0.6"/>
<line x1="444.46" y1="85.70" x2="444.46" y2="87.10" stroke="#3e3e3e" stroke-width="0.6"/>
<line x1="445.20" y1="85.70" x2="445.20" y2="87.10" stroke="#3e3e3e" stroke-width="0.6"/>
<line x1="445.83" y1="85.70" x2="445.83" y2="87.10" stroke="#3e3e3e" stroke-width="0.6"/>
<line x1="446.40" y1="85.70" x2="446.40" y2="87.10" stroke="#3e3e3e" stroke-width="0.6"/>
<text x="435.10" y="97.24" font-size="5.6" text-anchor="middle" fill="#333" stroke="#333" stroke-width="0.2">10</text>
<text x="438.30" y="94.54" font-size="3.7" text-anchor="start" fill="#333" stroke="#333" stroke-width="0.2">1</text>
<line x1="446.90" y1="85.70" x2="446.90" y2="87.90" stroke="#3e3e3e" stroke-width="0.9"/>
<line x1="450.21" y1="85.70" x2="450.21" y2="87.10" stroke="#3e3e3e" stroke-width="0.6"/>
<line x1="452.15" y1="85.70" x2="452.15" y2="87.10" stroke="#3e3e3e" stroke-width="0.6"/>
<line x1="453.52" y1="85.70" x2="453.52" y2="87.10" stroke="#3e3e3e" stroke-width="0.6"/>
<line x1="454.59" y1="85.70" x2="454.59" y2="87.10" stroke="#3e3e3e" stroke-width="0.6"/>
<line x1="455.46" y1="85.70" x2="455.46" y2="87.10" stroke="#3e3e3e" stroke-width="0.6"/>
<line x1="456.20" y1="85.70" x2="456.20" y2="87.10" stroke="#3e3e3e" stroke-width="0.6"/>
<line x1="456.83" y1="85.70" x2="456.83" y2="87.10" stroke="#3e3e3e" stroke-width="0.6"/>
<line x1="457.40" y1="85.70" x2="457.40" y2="87.10" stroke="#3e3e3e" stroke-width="0.6"/>
<text x="446.10" y="97.24" font-size="5.6" text-anchor="middle" fill="#333" stroke="#333" stroke-width="0.2">10</text>
<text x="449.30" y="94.54" font-size="3.7" text-anchor="start" fill="#333" stroke="#333" stroke-width="0.2">2</text>
<line x1="457.90" y1="85.70" x2="457.90" y2="87.90" stroke="#3e3e3e" stroke-width="0.9"/>
<line x1="461.21" y1="85.70" x2="461.21" y2="87.10" stroke="#3e3e3e" stroke-width="0.6"/>
<line x1="463.15" y1="85.70" x2="463.15" y2="87.10" stroke="#3e3e3e" stroke-width="0.6"/>
<line x1="464.52" y1="85.70" x2="464.52" y2="87.10" stroke="#3e3e3e" stroke-width="0.6"/>
<line x1="465.59" y1="85.70" x2="465.59" y2="87.10" stroke="#3e3e3e" stroke-width="0.6"/>
<line x1="466.46" y1="85.70" x2="466.46" y2="87.10" stroke="#3e3e3e" stroke-width="0.6"/>
<line x1="467.20" y1="85.70" x2="467.20" y2="87.10" stroke="#3e3e3e" stroke-width="0.6"/>
<line x1="467.83" y1="85.70" x2="467.83" y2="87.10" stroke="#3e3e3e" stroke-width="0.6"/>
<line x1="468.40" y1="85.70" x2="468.40" y2="87.10" stroke="#3e3e3e" stroke-width="0.6"/>
<text x="457.10" y="97.24" font-size="5.6" text-anchor="middle" fill="#333" stroke="#333" stroke-width="0.2">10</text>
<text x="460.30" y="94.54" font-size="3.7" text-anchor="start" fill="#333" stroke="#333" stroke-width="0.2">3</text>
<line x1="468.90" y1="85.70" x2="468.90" y2="87.90" stroke="#3e3e3e" stroke-width="0.9"/>
<line x1="472.21" y1="85.70" x2="472.21" y2="87.10" stroke="#3e3e3e" stroke-width="0.6"/>
<line x1="474.15" y1="85.70" x2="474.15" y2="87.10" stroke="#3e3e3e" stroke-width="0.6"/>
<line x1="475.52" y1="85.70" x2="475.52" y2="87.10" stroke="#3e3e3e" stroke-width="0.6"/>
<line x1="476.59" y1="85.70" x2="476.59" y2="87.10" stroke="#3e3e3e" stroke-width="0.6"/>
<line x1="477.46" y1="85.70" x2="477.46" y2="87.10" stroke="#3e3e3e" stroke-width="0.6"/>
<line x1="478.20" y1="85.70" x2="478.20" y2="87.10" stroke="#3e3e3e" stroke-width="0.6"/>
<line x1="478.83" y1="85.70" x2="478.83" y2="87.10" stroke="#3e3e3e" stroke-width="0.6"/>
<line x1="479.40" y1="85.70" x2="479.40" y2="87.10" stroke="#3e3e3e" stroke-width="0.6"/>
<text x="468.10" y="97.24" font-size="5.6" text-anchor="middle" fill="#333" stroke="#333" stroke-width="0.2">10</text>
<text x="471.30" y="94.54" font-size="3.7" text-anchor="start" fill="#333" stroke="#333" stroke-width="0.2">4</text>
<line x1="479.90" y1="85.70" x2="479.90" y2="87.90" stroke="#3e3e3e" stroke-width="0.9"/>
<text x="479.10" y="97.24" font-size="5.6" text-anchor="middle" fill="#333" stroke="#333" stroke-width="0.2">10</text>
<text x="482.30" y="94.54" font-size="3.7" text-anchor="start" fill="#333" stroke="#333" stroke-width="0.2">5</text>
<text x="454.60" y="107.90" font-size="7.6" text-anchor="middle" font-weight="bold" fill="#222222" stroke="#222222" stroke-width="0.2" textLength="61.00" lengthAdjust="spacingAndGlyphs">Drug concentration (nM)</text>
<text x="403.70" y="55.80" font-size="7.2" text-anchor="middle" font-weight="bold" fill="#222222" stroke="#222222" stroke-width="0.2" transform="rotate(-90 403.70 55.80)" textLength="39.50" lengthAdjust="spacingAndGlyphs">Viable cells (%)</text>
<text x="453.80" y="21.60" font-size="6.6" text-anchor="middle" font-weight="bold" fill="#000" stroke="#000" stroke-width="0.12">KG-1</text>
<path d="M424.90,48.30 L425.12,48.30 L425.34,48.30 L425.56,48.30 L425.78,48.30 L426.00,48.30 L426.22,48.30 L426.44,48.30 L426.66,48.30 L426.88,48.31 L427.10,48.31 L427.32,48.31 L427.54,48.31 L427.76,48.31 L427.98,48.31 L428.20,48.31 L428.42,48.31 L428.64,48.31 L428.86,48.31 L429.08,48.31 L429.30,48.31 L429.52,48.31 L429.74,48.31 L429.96,48.31 L430.18,48.31 L430.40,48.31 L430.62,48.31 L430.84,48.32 L431.06,48.32 L431.28,48.32 L431.50,48.32 L431.72,48.32 L431.94,48.32 L432.16,48.32 L432.38,48.32 L432.60,48.32 L432.82,48.33 L433.04,48.33 L433.26,48.33 L433.48,48.33 L433.70,48.33 L433.92,48.34 L434.14,48.34 L434.36,48.34 L434.58,48.34 L434.80,48.35 L435.02,48.35 L435.24,48.35 L435.46,48.35 L435.68,48.36 L435.90,48.36 L436.12,48.36 L436.34,48.37 L436.56,48.37 L436.78,48.38 L437.00,48.38 L437.22,48.39 L437.44,48.39 L437.66,48.40 L437.88,48.40 L438.10,48.41 L438.32,48.42 L438.54,48.43 L438.76,48.43 L438.98,48.44 L439.20,48.45 L439.42,48.46 L439.64,48.47 L439.86,48.48 L440.08,48.49 L440.30,48.50 L440.52,48.51 L440.74,48.53 L440.96,48.54 L441.18,48.56 L441.40,48.57 L441.62,48.59 L441.84,48.61 L442.06,48.62 L442.28,48.64 L442.50,48.67 L442.72,48.69 L442.94,48.71 L443.16,48.74 L443.38,48.76 L443.60,48.79 L443.82,48.82 L444.04,48.85 L444.26,48.89 L444.48,48.92 L444.70,48.96 L444.92,49.00 L445.14,49.04 L445.36,49.09 L445.58,49.13 L445.80,49.18 L446.02,49.24 L446.24,49.29 L446.46,49.35 L446.68,49.42 L446.90,49.48 L447.12,49.55 L447.34,49.63 L447.56,49.71 L447.78,49.79 L448.00,49.88 L448.22,49.97 L448.44,50.07 L448.66,50.17 L448.88,50.28 L449.10,50.40 L449.32,50.52 L449.54,50.65 L449.76,50.78 L449.98,50.93 L450.20,51.08 L450.42,51.23 L450.64,51.40 L450.86,51.57 L451.08,51.76 L451.30,51.95 L451.52,52.15 L451.74,52.36 L451.96,52.59 L452.18,52.82 L452.40,53.06 L452.62,53.32 L452.84,53.58 L453.06,53.86 L453.28,54.15 L453.50,54.45 L453.72,54.76 L453.94,55.09 L454.16,55.43 L454.38,55.78 L454.60,56.15 L454.82,56.52 L455.04,56.91 L455.26,57.32 L455.48,57.73 L455.70,58.16 L455.92,58.60 L456.14,59.06 L456.36,59.52 L456.58,60.00 L456.80,60.48 L457.02,60.98 L457.24,61.49 L457.46,62.00 L457.68,62.53 L457.90,63.06 L458.12,63.60 L458.34,64.14 L458.56,64.69 L458.78,65.24 L459.00,65.80 L459.22,66.36 L459.44,66.92 L459.66,67.48 L459.88,68.03 L460.10,68.59 L460.32,69.15 L460.54,69.70 L460.76,70.24 L460.98,70.78 L461.20,71.31 L461.42,71.84 L461.64,72.36 L461.86,72.87 L462.08,73.37 L462.30,73.86 L462.52,74.34 L462.74,74.80 L462.96,75.26 L463.18,75.71 L463.40,76.14 L463.62,76.56 L463.84,76.96 L464.06,77.36 L464.28,77.74 L464.50,78.11 L464.72,78.47 L464.94,78.81 L465.16,79.14 L465.38,79.46 L465.60,79.76 L465.82,80.05 L466.04,80.34 L466.26,80.60 L466.48,80.86 L466.70,81.11 L466.92,81.34 L467.14,81.57 L467.36,81.78 L467.58,81.99 L467.80,82.18 L468.02,82.37 L468.24,82.55 L468.46,82.72 L468.68,82.88 L468.90,83.03 L469.12,83.17 L469.34,83.31 L469.56,83.44 L469.78,83.57 L470.00,83.68 L470.22,83.79 L470.44,83.90 L470.66,84.00 L470.88,84.09 L471.10,84.18 L471.32,84.27 L471.54,84.35 L471.76,84.42 L471.98,84.50 L472.20,84.56 L472.42,84.63 L472.64,84.69 L472.86,84.75 L473.08,84.80 L473.30,84.85 L473.52,84.90 L473.74,84.95 L473.96,84.99 L474.18,85.03 L474.40,85.07 L474.62,85.10 L474.84,85.14 L475.06,85.17 L475.28,85.20 L475.50,85.23 L475.72,85.26 L475.94,85.28 L476.16,85.31 L476.38,85.33 L476.60,85.35 L476.82,85.37 L477.04,85.39 L477.26,85.41 L477.48,85.42 L477.70,85.44 L477.92,85.45 L478.14,85.47 L478.36,85.48 L478.58,85.49 L478.80,85.51 L479.02,85.52 L479.24,85.53 L479.46,85.54 L479.68,85.55 L479.90,85.56" fill="none" stroke="#ad1f42" stroke-width="1.15" stroke-linejoin="round" stroke-linecap="round"/>
<path d="M424.90,48.52 L425.12,48.54 L425.34,48.56 L425.56,48.59 L425.78,48.61 L426.00,48.64 L426.22,48.67 L426.44,48.71 L426.66,48.74 L426.88,48.78 L427.10,48.83 L427.32,48.88 L427.54,48.93 L427.76,48.98 L427.98,49.05 L428.20,49.11 L428.42,49.19 L428.64,49.26 L428.86,49.35 L429.08,49.44 L429.30,49.54 L429.52,49.65 L429.74,49.77 L429.96,49.90 L430.18,50.04 L430.40,50.19 L430.62,50.36 L430.84,50.53 L431.06,50.72 L431.28,50.93 L431.50,51.15 L431.72,51.39 L431.94,51.65 L432.16,51.92 L432.38,52.22 L432.60,52.54 L432.82,52.88 L433.04,53.24 L433.26,53.63 L433.48,54.04 L433.70,54.48 L433.92,54.94 L434.14,55.44 L434.36,55.95 L434.58,56.50 L434.80,57.08 L435.02,57.68 L435.24,58.30 L435.46,58.96 L435.68,59.64 L435.90,60.34 L436.12,61.07 L436.34,61.81 L436.56,62.58 L436.78,63.36 L437.00,64.15 L437.22,64.95 L437.44,65.76 L437.66,66.58 L437.88,67.40 L438.10,68.21 L438.32,69.03 L438.54,69.83 L438.76,70.62 L438.98,71.40 L439.20,72.17 L439.42,72.92 L439.64,73.64 L439.86,74.34 L440.08,75.02 L440.30,75.68 L440.52,76.31 L440.74,76.91 L440.96,77.48 L441.18,78.03 L441.40,78.55 L441.62,79.04 L441.84,79.51 L442.06,79.95 L442.28,80.36 L442.50,80.75 L442.72,81.11 L442.94,81.45 L443.16,81.77 L443.38,82.07 L443.60,82.35 L443.82,82.60 L444.04,82.84 L444.26,83.07 L444.48,83.27 L444.70,83.46 L444.92,83.64 L445.14,83.80 L445.36,83.96 L445.58,84.10 L445.80,84.22 L446.02,84.34 L446.24,84.45 L446.46,84.55 L446.68,84.65 L446.90,84.73 L447.12,84.81 L447.34,84.89 L447.56,84.95 L447.78,85.01 L448.00,85.07 L448.22,85.12 L448.44,85.17 L448.66,85.21 L448.88,85.25 L449.10,85.29 L449.32,85.33 L449.54,85.36 L449.76,85.38 L449.98,85.41 L450.20,85.43 L450.42,85.46 L450.64,85.48 L450.86,85.50 L451.08,85.51 L451.30,85.53 L451.52,85.54 L451.74,85.56 L451.96,85.57 L452.18,85.58 L452.40,85.59 L452.62,85.60 L452.84,85.61 L453.06,85.61 L453.28,85.62 L453.50,85.63 L453.72,85.63 L453.94,85.64 L454.16,85.64 L454.38,85.65 L454.60,85.65 L454.82,85.66 L455.04,85.66 L455.26,85.66 L455.48,85.67 L455.70,85.67 L455.92,85.67 L456.14,85.67 L456.36,85.68 L456.58,85.68 L456.80,85.68 L457.02,85.68 L457.24,85.68 L457.46,85.69 L457.68,85.69 L457.90,85.69 L458.12,85.69 L458.34,85.69 L458.56,85.69 L458.78,85.69 L459.00,85.69 L459.22,85.69 L459.44,85.69 L459.66,85.69 L459.88,85.69 L460.10,85.69 L460.32,85.70 L460.54,85.70 L460.76,85.70 L460.98,85.70 L461.20,85.70 L461.42,85.70 L461.64,85.70 L461.86,85.70 L462.08,85.70 L462.30,85.70 L462.52,85.70 L462.74,85.70 L462.96,85.70 L463.18,85.70 L463.40,85.70 L463.62,85.70 L463.84,85.70 L464.06,85.70 L464.28,85.70 L464.50,85.70 L464.72,85.70 L464.94,85.70 L465.16,85.70 L465.38,85.70 L465.60,85.70 L465.82,85.70 L466.04,85.70 L466.26,85.70 L466.48,85.70 L466.70,85.70 L466.92,85.70 L467.14,85.70 L467.36,85.70 L467.58,85.70 L467.80,85.70 L468.02,85.70 L468.24,85.70 L468.46,85.70 L468.68,85.70 L468.90,85.70 L469.12,85.70 L469.34,85.70 L469.56,85.70 L469.78,85.70 L470.00,85.70 L470.22,85.70 L470.44,85.70 L470.66,85.70 L470.88,85.70 L471.10,85.70 L471.32,85.70 L471.54,85.70 L471.76,85.70 L471.98,85.70 L472.20,85.70 L472.42,85.70 L472.64,85.70 L472.86,85.70 L473.08,85.70 L473.30,85.70 L473.52,85.70 L473.74,85.70 L473.96,85.70 L474.18,85.70 L474.40,85.70 L474.62,85.70 L474.84,85.70 L475.06,85.70 L475.28,85.70 L475.50,85.70 L475.72,85.70 L475.94,85.70 L476.16,85.70 L476.38,85.70 L476.60,85.70 L476.82,85.70 L477.04,85.70 L477.26,85.70 L477.48,85.70 L477.70,85.70 L477.92,85.70 L478.14,85.70 L478.36,85.70 L478.58,85.70 L478.80,85.70 L479.02,85.70 L479.24,85.70 L479.46,85.70 L479.68,85.70 L479.90,85.70" fill="none" stroke="#1d4a62" stroke-width="1.15" stroke-linejoin="round" stroke-linecap="round"/>
<line x1="451.63" y1="48.75" x2="451.63" y2="53.24" stroke="#ad1f42" stroke-width="0.7"/>
<line x1="450.73" y1="48.75" x2="452.53" y2="48.75" stroke="#ad1f42" stroke-width="0.6"/>
<line x1="450.73" y1="53.24" x2="452.53" y2="53.24" stroke="#ad1f42" stroke-width="0.6"/>
<rect x="450.88" y="50.24" width="1.5" height="1.5" fill="#ad1f42"/>
<line x1="455.48" y1="55.78" x2="455.48" y2="59.52" stroke="#ad1f42" stroke-width="0.7"/>
<line x1="454.58" y1="55.78" x2="456.38" y2="55.78" stroke="#ad1f42" stroke-width="0.6"/>
<line x1="454.58" y1="59.52" x2="456.38" y2="59.52" stroke="#ad1f42" stroke-width="0.6"/>
<rect x="454.73" y="56.90" width="1.5" height="1.5" fill="#ad1f42"/>
<line x1="458.01" y1="58.51" x2="458.01" y2="61.50" stroke="#ad1f42" stroke-width="0.7"/>
<line x1="457.11" y1="58.51" x2="458.91" y2="58.51" stroke="#ad1f42" stroke-width="0.6"/>
<line x1="457.11" y1="61.50" x2="458.91" y2="61.50" stroke="#ad1f42" stroke-width="0.6"/>
<rect x="457.26" y="59.26" width="1.5" height="1.5" fill="#ad1f42"/>
<line x1="461.97" y1="64.49" x2="461.97" y2="67.49" stroke="#ad1f42" stroke-width="0.7"/>
<line x1="461.07" y1="64.49" x2="462.87" y2="64.49" stroke="#ad1f42" stroke-width="0.6"/>
<line x1="461.07" y1="67.49" x2="462.87" y2="67.49" stroke="#ad1f42" stroke-width="0.6"/>
<rect x="461.22" y="65.24" width="1.5" height="1.5" fill="#ad1f42"/>
<line x1="466.04" y1="78.97" x2="466.04" y2="81.21" stroke="#ad1f42" stroke-width="0.7"/>
<line x1="465.14" y1="78.97" x2="466.94" y2="78.97" stroke="#ad1f42" stroke-width="0.6"/>
<line x1="465.14" y1="81.21" x2="466.94" y2="81.21" stroke="#ad1f42" stroke-width="0.6"/>
<rect x="465.29" y="79.34" width="1.5" height="1.5" fill="#ad1f42"/>
<line x1="470.00" y1="82.33" x2="470.00" y2="83.83" stroke="#ad1f42" stroke-width="0.7"/>
<line x1="469.10" y1="82.33" x2="470.90" y2="82.33" stroke="#ad1f42" stroke-width="0.6"/>
<line x1="469.10" y1="83.83" x2="470.90" y2="83.83" stroke="#ad1f42" stroke-width="0.6"/>
<rect x="469.25" y="82.33" width="1.5" height="1.5" fill="#ad1f42"/>
<line x1="428.97" y1="47.93" x2="428.97" y2="52.41" stroke="#1d4a62" stroke-width="0.7"/>
<line x1="428.07" y1="47.93" x2="429.87" y2="47.93" stroke="#1d4a62" stroke-width="0.6"/>
<line x1="428.07" y1="52.41" x2="429.87" y2="52.41" stroke="#1d4a62" stroke-width="0.6"/>
<rect x="428.22" y="49.42" width="1.5" height="1.5" fill="#1d4a62"/>
<line x1="433.04" y1="50.17" x2="433.04" y2="53.91" stroke="#1d4a62" stroke-width="0.7"/>
<line x1="432.14" y1="50.17" x2="433.94" y2="50.17" stroke="#1d4a62" stroke-width="0.6"/>
<line x1="432.14" y1="53.91" x2="433.94" y2="53.91" stroke="#1d4a62" stroke-width="0.6"/>
<rect x="432.29" y="51.29" width="1.5" height="1.5" fill="#1d4a62"/>
<line x1="436.45" y1="56.15" x2="436.45" y2="59.15" stroke="#1d4a62" stroke-width="0.7"/>
<line x1="435.55" y1="56.15" x2="437.35" y2="56.15" stroke="#1d4a62" stroke-width="0.6"/>
<line x1="435.55" y1="59.15" x2="437.35" y2="59.15" stroke="#1d4a62" stroke-width="0.6"/>
<rect x="435.70" y="56.90" width="1.5" height="1.5" fill="#1d4a62"/>
<line x1="439.53" y1="69.99" x2="439.53" y2="72.24" stroke="#1d4a62" stroke-width="0.7"/>
<line x1="438.63" y1="69.99" x2="440.43" y2="69.99" stroke="#1d4a62" stroke-width="0.6"/>
<line x1="438.63" y1="72.24" x2="440.43" y2="72.24" stroke="#1d4a62" stroke-width="0.6"/>
<rect x="438.78" y="70.36" width="1.5" height="1.5" fill="#1d4a62"/>
<line x1="443.05" y1="81.21" x2="443.05" y2="82.71" stroke="#1d4a62" stroke-width="0.7"/>
<line x1="442.15" y1="81.21" x2="443.95" y2="81.21" stroke="#1d4a62" stroke-width="0.6"/>
<line x1="442.15" y1="82.71" x2="443.95" y2="82.71" stroke="#1d4a62" stroke-width="0.6"/>
<rect x="442.30" y="81.21" width="1.5" height="1.5" fill="#1d4a62"/>
<line x1="448.00" y1="82.33" x2="448.00" y2="83.83" stroke="#1d4a62" stroke-width="0.7"/>
<line x1="447.10" y1="82.33" x2="448.90" y2="82.33" stroke="#1d4a62" stroke-width="0.6"/>
<line x1="447.10" y1="83.83" x2="448.90" y2="83.83" stroke="#1d4a62" stroke-width="0.6"/>
<rect x="447.25" y="82.33" width="1.5" height="1.5" fill="#1d4a62"/>
<line x1="472.10" y1="33.30" x2="478.10" y2="33.30" stroke="#ad1f42" stroke-width="1.1"/>
<rect x="474.30" y="32.50" width="1.6" height="1.6" fill="#ad1f42"/>
<text x="480.20" y="35.30" font-size="5.8" text-anchor="start" fill="#222222" stroke="#222222" stroke-width="0.2">Cytarabine</text>
<line x1="472.10" y1="43.80" x2="478.10" y2="43.80" stroke="#1d4a62" stroke-width="1.1"/>
<rect x="474.30" y="43.00" width="1.6" height="1.6" fill="#1d4a62"/>
<text x="480.20" y="45.80" font-size="5.8" text-anchor="start" fill="#222222" stroke="#222222" stroke-width="0.2">TAK-981</text>
<text x="493.90" y="55.70" font-size="5.8" text-anchor="middle" fill="#c23a58" stroke="#c23a58" stroke-width="0.2">Cytarabine</text>
<text x="493.90" y="62.70" font-size="5.8" text-anchor="middle" fill="#c23a58" stroke="#c23a58" stroke-width="0.2">1.39 µM</text>
<text x="498.60" y="72.40" font-size="5.8" text-anchor="middle" fill="#32567c" stroke="#32567c" stroke-width="0.2">TAK-981</text>
<text x="498.60" y="79.40" font-size="5.8" text-anchor="middle" fill="#32567c" stroke="#32567c" stroke-width="0.2">14.8 nM</text>
<text x="84.00" y="149.80" font-size="7.0" text-anchor="middle" font-weight="bold" fill="#000" stroke="#000" stroke-width="0.12">U937</text>
<line x1="45.70" y1="155.19" x2="45.70" y2="222.80" stroke="#3e3e3e" stroke-width="1.6"/>
<line x1="42.70" y1="157.00" x2="45.70" y2="157.00" stroke="#3e3e3e" stroke-width="1.2"/>
<text x="40.30" y="159.59" font-size="6.0" text-anchor="end" fill="#333" stroke="#333" stroke-width="0.2">150</text>
<line x1="42.70" y1="178.73" x2="45.70" y2="178.73" stroke="#3e3e3e" stroke-width="1.2"/>
<text x="40.30" y="181.33" font-size="6.0" text-anchor="end" fill="#333" stroke="#333" stroke-width="0.2">100</text>
<line x1="42.70" y1="200.46" x2="45.70" y2="200.46" stroke="#3e3e3e" stroke-width="1.2"/>
<text x="40.30" y="203.06" font-size="6.0" text-anchor="end" fill="#333" stroke="#333" stroke-width="0.2">50</text>
<line x1="42.70" y1="222.20" x2="45.70" y2="222.20" stroke="#3e3e3e" stroke-width="1.2"/>
<text x="40.30" y="224.80" font-size="6.0" text-anchor="end" fill="#333" stroke="#333" stroke-width="0.2">0</text>
<line x1="44.50" y1="222.20" x2="122.00" y2="222.20" stroke="#3e3e3e" stroke-width="1.7"/>
<line x1="52.50" y1="222.20" x2="52.50" y2="224.20" stroke="#3e3e3e" stroke-width="0.9"/>
<line x1="62.92" y1="222.20" x2="62.92" y2="224.20" stroke="#3e3e3e" stroke-width="0.9"/>
<line x1="73.34" y1="222.20" x2="73.34" y2="224.20" stroke="#3e3e3e" stroke-width="0.9"/>
<line x1="83.76" y1="222.20" x2="83.76" y2="224.20" stroke="#3e3e3e" stroke-width="0.9"/>
<line x1="94.18" y1="222.20" x2="94.18" y2="224.20" stroke="#3e3e3e" stroke-width="0.9"/>
<line x1="104.60" y1="222.20" x2="104.60" y2="224.20" stroke="#3e3e3e" stroke-width="0.9"/>
<line x1="115.02" y1="222.20" x2="115.02" y2="224.20" stroke="#3e3e3e" stroke-width="0.9"/>
<text x="23.80" y="188.40" font-size="7.2" text-anchor="middle" font-weight="bold" fill="#222222" stroke="#222222" stroke-width="0.2" transform="rotate(-90 23.80 188.40)" textLength="39.00" lengthAdjust="spacingAndGlyphs">Viable cells (%)</text>
<path d="M52.50,178.73 L62.92,190.90 L73.34,195.25 L83.76,210.03 L94.18,220.90 L104.60,221.77 L115.02,221.77" fill="none" stroke="#745490" stroke-width="0.9" stroke-linejoin="round" stroke-linecap="round"/>
<circle cx="52.50" cy="178.73" r="0.95" fill="#3a2848"/>
<line x1="62.92" y1="184.38" x2="62.92" y2="197.42" stroke="#745490" stroke-width="0.7"/>
<line x1="62.02" y1="184.38" x2="63.82" y2="184.38" stroke="#745490" stroke-width="0.6"/>
<line x1="62.02" y1="197.42" x2="63.82" y2="197.42" stroke="#745490" stroke-width="0.6"/>
<circle cx="62.92" cy="190.90" r="0.95" fill="#3a2848"/>
<line x1="73.34" y1="186.55" x2="73.34" y2="203.94" stroke="#745490" stroke-width="0.7"/>
<line x1="72.44" y1="186.55" x2="74.24" y2="186.55" stroke="#745490" stroke-width="0.6"/>
<line x1="72.44" y1="203.94" x2="74.24" y2="203.94" stroke="#745490" stroke-width="0.6"/>
<circle cx="73.34" cy="195.25" r="0.95" fill="#3a2848"/>
<line x1="83.76" y1="207.42" x2="83.76" y2="212.64" stroke="#745490" stroke-width="0.7"/>
<line x1="82.86" y1="207.42" x2="84.66" y2="207.42" stroke="#745490" stroke-width="0.6"/>
<line x1="82.86" y1="212.64" x2="84.66" y2="212.64" stroke="#745490" stroke-width="0.6"/>
<circle cx="83.76" cy="210.03" r="0.95" fill="#3a2848"/>
<line x1="94.18" y1="220.46" x2="94.18" y2="221.33" stroke="#745490" stroke-width="0.7"/>
<line x1="93.28" y1="220.46" x2="95.08" y2="220.46" stroke="#745490" stroke-width="0.6"/>
<line x1="93.28" y1="221.33" x2="95.08" y2="221.33" stroke="#745490" stroke-width="0.6"/>
<circle cx="94.18" cy="220.90" r="0.95" fill="#3a2848"/>
<circle cx="104.60" cy="221.77" r="0.95" fill="#3a2848"/>
<circle cx="115.02" cy="221.77" r="0.95" fill="#3a2848"/>
<path d="M52.50,178.73 L62.92,185.69 L73.34,186.55 L83.76,186.99 L94.18,193.51 L104.60,200.03 L115.02,206.55" fill="none" stroke="#b5244a" stroke-width="1.0" stroke-linejoin="round" stroke-linecap="round"/>
<circle cx="52.50" cy="178.73" r="0.95" fill="#921436"/>
<line x1="62.92" y1="183.95" x2="62.92" y2="187.42" stroke="#b5244a" stroke-width="0.7"/>
<line x1="62.02" y1="183.95" x2="63.82" y2="183.95" stroke="#b5244a" stroke-width="0.6"/>
<line x1="62.02" y1="187.42" x2="63.82" y2="187.42" stroke="#b5244a" stroke-width="0.6"/>
<circle cx="62.92" cy="185.69" r="0.95" fill="#921436"/>
<line x1="73.34" y1="184.38" x2="73.34" y2="188.73" stroke="#b5244a" stroke-width="0.7"/>
<line x1="72.44" y1="184.38" x2="74.24" y2="184.38" stroke="#b5244a" stroke-width="0.6"/>
<line x1="72.44" y1="188.73" x2="74.24" y2="188.73" stroke="#b5244a" stroke-width="0.6"/>
<circle cx="73.34" cy="186.55" r="0.95" fill="#921436"/>
<line x1="83.76" y1="184.82" x2="83.76" y2="189.16" stroke="#b5244a" stroke-width="0.7"/>
<line x1="82.86" y1="184.82" x2="84.66" y2="184.82" stroke="#b5244a" stroke-width="0.6"/>
<line x1="82.86" y1="189.16" x2="84.66" y2="189.16" stroke="#b5244a" stroke-width="0.6"/>
<circle cx="83.76" cy="186.99" r="0.95" fill="#921436"/>
<line x1="94.18" y1="192.21" x2="94.18" y2="194.81" stroke="#b5244a" stroke-width="0.7"/>
<line x1="93.28" y1="192.21" x2="95.08" y2="192.21" stroke="#b5244a" stroke-width="0.6"/>
<line x1="93.28" y1="194.81" x2="95.08" y2="194.81" stroke="#b5244a" stroke-width="0.6"/>
<circle cx="94.18" cy="193.51" r="0.95" fill="#921436"/>
<line x1="104.60" y1="196.55" x2="104.60" y2="203.51" stroke="#b5244a" stroke-width="0.7"/>
<line x1="103.70" y1="196.55" x2="105.50" y2="196.55" stroke="#b5244a" stroke-width="0.6"/>
<line x1="103.70" y1="203.51" x2="105.50" y2="203.51" stroke="#b5244a" stroke-width="0.6"/>
<circle cx="104.60" cy="200.03" r="0.95" fill="#921436"/>
<line x1="115.02" y1="205.68" x2="115.02" y2="207.42" stroke="#b5244a" stroke-width="0.7"/>
<line x1="114.12" y1="205.68" x2="115.92" y2="205.68" stroke="#b5244a" stroke-width="0.6"/>
<line x1="114.12" y1="207.42" x2="115.92" y2="207.42" stroke="#b5244a" stroke-width="0.6"/>
<circle cx="115.02" cy="206.55" r="0.95" fill="#921436"/>
<path d="M52.50,178.73 L62.92,179.60 L73.34,186.55 L83.76,188.73 L94.18,204.81 L104.60,215.24 L115.02,220.46" fill="none" stroke="#205680" stroke-width="1.0" stroke-linejoin="round" stroke-linecap="round"/>
<circle cx="52.50" cy="178.73" r="0.95" fill="#163c5e"/>
<line x1="62.92" y1="176.12" x2="62.92" y2="183.08" stroke="#205680" stroke-width="0.7"/>
<line x1="62.02" y1="176.12" x2="63.82" y2="176.12" stroke="#205680" stroke-width="0.6"/>
<line x1="62.02" y1="183.08" x2="63.82" y2="183.08" stroke="#205680" stroke-width="0.6"/>
<circle cx="62.92" cy="179.60" r="0.95" fill="#163c5e"/>
<line x1="73.34" y1="183.08" x2="73.34" y2="190.03" stroke="#205680" stroke-width="0.7"/>
<line x1="72.44" y1="183.08" x2="74.24" y2="183.08" stroke="#205680" stroke-width="0.6"/>
<line x1="72.44" y1="190.03" x2="74.24" y2="190.03" stroke="#205680" stroke-width="0.6"/>
<circle cx="73.34" cy="186.55" r="0.95" fill="#163c5e"/>
<line x1="83.76" y1="186.55" x2="83.76" y2="190.90" stroke="#205680" stroke-width="0.7"/>
<line x1="82.86" y1="186.55" x2="84.66" y2="186.55" stroke="#205680" stroke-width="0.6"/>
<line x1="82.86" y1="190.90" x2="84.66" y2="190.90" stroke="#205680" stroke-width="0.6"/>
<circle cx="83.76" cy="188.73" r="0.95" fill="#163c5e"/>
<line x1="94.18" y1="203.07" x2="94.18" y2="206.55" stroke="#205680" stroke-width="0.7"/>
<line x1="93.28" y1="203.07" x2="95.08" y2="203.07" stroke="#205680" stroke-width="0.6"/>
<line x1="93.28" y1="206.55" x2="95.08" y2="206.55" stroke="#205680" stroke-width="0.6"/>
<circle cx="94.18" cy="204.81" r="0.95" fill="#163c5e"/>
<line x1="104.60" y1="213.51" x2="104.60" y2="216.98" stroke="#205680" stroke-width="0.7"/>
<line x1="103.70" y1="213.51" x2="105.50" y2="213.51" stroke="#205680" stroke-width="0.6"/>
<line x1="103.70" y1="216.98" x2="105.50" y2="216.98" stroke="#205680" stroke-width="0.6"/>
<circle cx="104.60" cy="215.24" r="0.95" fill="#163c5e"/>
<line x1="115.02" y1="219.59" x2="115.02" y2="221.33" stroke="#205680" stroke-width="0.7"/>
<line x1="114.12" y1="219.59" x2="115.92" y2="219.59" stroke="#205680" stroke-width="0.6"/>
<line x1="114.12" y1="221.33" x2="115.92" y2="221.33" stroke="#205680" stroke-width="0.6"/>
<circle cx="115.02" cy="220.46" r="0.95" fill="#163c5e"/>
<text x="20.20" y="233.00" font-size="6.0" text-anchor="start" fill="#222222" stroke="#222222" stroke-width="0.2">Cytarabine</text>
<text x="20.20" y="242.20" font-size="6.0" text-anchor="start" fill="#222222" stroke="#222222" stroke-width="0.2">TAK-981</text>
<text x="52.50" y="233.00" font-size="6.0" text-anchor="middle" fill="#222222" stroke="#222222" stroke-width="0.2">0</text>
<text x="73.30" y="233.00" font-size="6.0" text-anchor="middle" fill="#222222" stroke="#222222" stroke-width="0.2">5.9</text>
<text x="94.10" y="233.00" font-size="6.0" text-anchor="middle" fill="#222222" stroke="#222222" stroke-width="0.2">13.3</text>
<text x="114.90" y="233.00" font-size="6.0" text-anchor="middle" fill="#222222" stroke="#222222" stroke-width="0.2">30.0</text>
<text x="52.50" y="242.20" font-size="6.0" text-anchor="middle" fill="#222222" stroke="#222222" stroke-width="0.2">0</text>
<text x="73.30" y="242.20" font-size="6.0" text-anchor="middle" fill="#222222" stroke="#222222" stroke-width="0.2">13.8</text>
<text x="94.10" y="242.20" font-size="6.0" text-anchor="middle" fill="#222222" stroke="#222222" stroke-width="0.2">31.1</text>
<text x="114.90" y="242.20" font-size="6.0" text-anchor="middle" fill="#222222" stroke="#222222" stroke-width="0.2">70.0</text>
<text x="124.80" y="233.00" font-size="6.0" text-anchor="start" fill="#222222" stroke="#222222" stroke-width="0.2">(nM)</text>
<text x="124.80" y="242.20" font-size="6.0" text-anchor="start" fill="#222222" stroke="#222222" stroke-width="0.2">(nM)</text>
<text x="211.80" y="149.80" font-size="6.8" text-anchor="middle" font-weight="bold" fill="#000" stroke="#000" stroke-width="0.12">MOLM-14</text>
<line x1="173.60" y1="155.00" x2="173.60" y2="222.60" stroke="#3e3e3e" stroke-width="1.6"/>
<line x1="170.60" y1="156.80" x2="173.60" y2="156.80" stroke="#3e3e3e" stroke-width="1.2"/>
<text x="168.20" y="159.40" font-size="6.0" text-anchor="end" fill="#333" stroke="#333" stroke-width="0.2">150</text>
<line x1="170.60" y1="178.53" x2="173.60" y2="178.53" stroke="#3e3e3e" stroke-width="1.2"/>
<text x="168.20" y="181.13" font-size="6.0" text-anchor="end" fill="#333" stroke="#333" stroke-width="0.2">100</text>
<line x1="170.60" y1="200.26" x2="173.60" y2="200.26" stroke="#3e3e3e" stroke-width="1.2"/>
<text x="168.20" y="202.86" font-size="6.0" text-anchor="end" fill="#333" stroke="#333" stroke-width="0.2">50</text>
<line x1="170.60" y1="222.00" x2="173.60" y2="222.00" stroke="#3e3e3e" stroke-width="1.2"/>
<text x="168.20" y="224.60" font-size="6.0" text-anchor="end" fill="#333" stroke="#333" stroke-width="0.2">0</text>
<line x1="172.40" y1="222.00" x2="250.00" y2="222.00" stroke="#3e3e3e" stroke-width="1.7"/>
<line x1="179.80" y1="222.00" x2="179.80" y2="224.00" stroke="#3e3e3e" stroke-width="0.9"/>
<line x1="188.95" y1="222.00" x2="188.95" y2="224.00" stroke="#3e3e3e" stroke-width="0.9"/>
<line x1="198.10" y1="222.00" x2="198.10" y2="224.00" stroke="#3e3e3e" stroke-width="0.9"/>
<line x1="207.25" y1="222.00" x2="207.25" y2="224.00" stroke="#3e3e3e" stroke-width="0.9"/>
<line x1="216.40" y1="222.00" x2="216.40" y2="224.00" stroke="#3e3e3e" stroke-width="0.9"/>
<line x1="225.55" y1="222.00" x2="225.55" y2="224.00" stroke="#3e3e3e" stroke-width="0.9"/>
<line x1="234.70" y1="222.00" x2="234.70" y2="224.00" stroke="#3e3e3e" stroke-width="0.9"/>
<line x1="243.85" y1="222.00" x2="243.85" y2="224.00" stroke="#3e3e3e" stroke-width="0.9"/>
<text x="152.50" y="189.10" font-size="7.2" text-anchor="middle" font-weight="bold" fill="#222222" stroke="#222222" stroke-width="0.2" transform="rotate(-90 152.50 189.10)" textLength="39.00" lengthAdjust="spacingAndGlyphs">Viable cells (%)</text>
<path d="M179.80,178.53 L188.95,192.88 L198.10,199.40 L207.25,210.26 L216.40,220.70 L225.55,221.13 L234.70,221.13 L243.85,221.13" fill="none" stroke="#745490" stroke-width="0.9" stroke-linejoin="round" stroke-linecap="round"/>
<circle cx="179.80" cy="178.53" r="0.95" fill="#3a2848"/>
<line x1="188.95" y1="190.70" x2="188.95" y2="195.05" stroke="#745490" stroke-width="0.7"/>
<line x1="188.05" y1="190.70" x2="189.85" y2="190.70" stroke="#745490" stroke-width="0.6"/>
<line x1="188.05" y1="195.05" x2="189.85" y2="195.05" stroke="#745490" stroke-width="0.6"/>
<circle cx="188.95" cy="192.88" r="0.95" fill="#3a2848"/>
<line x1="198.10" y1="195.48" x2="198.10" y2="203.31" stroke="#745490" stroke-width="0.7"/>
<line x1="197.20" y1="195.48" x2="199.00" y2="195.48" stroke="#745490" stroke-width="0.6"/>
<line x1="197.20" y1="203.31" x2="199.00" y2="203.31" stroke="#745490" stroke-width="0.6"/>
<circle cx="198.10" cy="199.40" r="0.95" fill="#3a2848"/>
<line x1="207.25" y1="208.96" x2="207.25" y2="211.57" stroke="#745490" stroke-width="0.7"/>
<line x1="206.35" y1="208.96" x2="208.15" y2="208.96" stroke="#745490" stroke-width="0.6"/>
<line x1="206.35" y1="211.57" x2="208.15" y2="211.57" stroke="#745490" stroke-width="0.6"/>
<circle cx="207.25" cy="210.26" r="0.95" fill="#3a2848"/>
<line x1="216.40" y1="220.26" x2="216.40" y2="221.13" stroke="#745490" stroke-width="0.7"/>
<line x1="215.50" y1="220.26" x2="217.30" y2="220.26" stroke="#745490" stroke-width="0.6"/>
<line x1="215.50" y1="221.13" x2="217.30" y2="221.13" stroke="#745490" stroke-width="0.6"/>
<circle cx="216.40" cy="220.70" r="0.95" fill="#3a2848"/>
<circle cx="225.55" cy="221.13" r="0.95" fill="#3a2848"/>
<circle cx="234.70" cy="221.13" r="0.95" fill="#3a2848"/>
<circle cx="243.85" cy="221.13" r="0.95" fill="#3a2848"/>
<path d="M179.80,178.53 L188.95,175.05 L198.10,193.31 L207.25,198.31 L216.40,207.00 L225.55,213.48 L234.70,218.52 L243.85,220.26" fill="none" stroke="#b5244a" stroke-width="1.0" stroke-linejoin="round" stroke-linecap="round"/>
<circle cx="179.80" cy="178.53" r="0.95" fill="#921436"/>
<line x1="188.95" y1="171.57" x2="188.95" y2="178.53" stroke="#b5244a" stroke-width="0.7"/>
<line x1="188.05" y1="171.57" x2="189.85" y2="171.57" stroke="#b5244a" stroke-width="0.6"/>
<line x1="188.05" y1="178.53" x2="189.85" y2="178.53" stroke="#b5244a" stroke-width="0.6"/>
<circle cx="188.95" cy="175.05" r="0.95" fill="#921436"/>
<line x1="198.10" y1="189.83" x2="198.10" y2="196.79" stroke="#b5244a" stroke-width="0.7"/>
<line x1="197.20" y1="189.83" x2="199.00" y2="189.83" stroke="#b5244a" stroke-width="0.6"/>
<line x1="197.20" y1="196.79" x2="199.00" y2="196.79" stroke="#b5244a" stroke-width="0.6"/>
<circle cx="198.10" cy="193.31" r="0.95" fill="#921436"/>
<line x1="207.25" y1="194.83" x2="207.25" y2="201.79" stroke="#b5244a" stroke-width="0.7"/>
<line x1="206.35" y1="194.83" x2="208.15" y2="194.83" stroke="#b5244a" stroke-width="0.6"/>
<line x1="206.35" y1="201.79" x2="208.15" y2="201.79" stroke="#b5244a" stroke-width="0.6"/>
<circle cx="207.25" cy="198.31" r="0.95" fill="#921436"/>
<line x1="216.40" y1="206.13" x2="216.40" y2="207.87" stroke="#b5244a" stroke-width="0.7"/>
<line x1="215.50" y1="206.13" x2="217.30" y2="206.13" stroke="#b5244a" stroke-width="0.6"/>
<line x1="215.50" y1="207.87" x2="217.30" y2="207.87" stroke="#b5244a" stroke-width="0.6"/>
<circle cx="216.40" cy="207.00" r="0.95" fill="#921436"/>
<line x1="225.55" y1="212.61" x2="225.55" y2="214.35" stroke="#b5244a" stroke-width="0.7"/>
<line x1="224.65" y1="212.61" x2="226.45" y2="212.61" stroke="#b5244a" stroke-width="0.6"/>
<line x1="224.65" y1="214.35" x2="226.45" y2="214.35" stroke="#b5244a" stroke-width="0.6"/>
<circle cx="225.55" cy="213.48" r="0.95" fill="#921436"/>
<line x1="234.70" y1="217.65" x2="234.70" y2="219.39" stroke="#b5244a" stroke-width="0.7"/>
<line x1="233.80" y1="217.65" x2="235.60" y2="217.65" stroke="#b5244a" stroke-width="0.6"/>
<line x1="233.80" y1="219.39" x2="235.60" y2="219.39" stroke="#b5244a" stroke-width="0.6"/>
<circle cx="234.70" cy="218.52" r="0.95" fill="#921436"/>
<line x1="243.85" y1="219.83" x2="243.85" y2="220.70" stroke="#b5244a" stroke-width="0.7"/>
<line x1="242.95" y1="219.83" x2="244.75" y2="219.83" stroke="#b5244a" stroke-width="0.6"/>
<line x1="242.95" y1="220.70" x2="244.75" y2="220.70" stroke="#b5244a" stroke-width="0.6"/>
<circle cx="243.85" cy="220.26" r="0.95" fill="#921436"/>
<path d="M179.80,178.53 L188.95,175.49 L198.10,192.44 L207.25,204.61 L216.40,217.22 L225.55,220.26 L234.70,221.13 L243.85,220.70" fill="none" stroke="#205680" stroke-width="1.0" stroke-linejoin="round" stroke-linecap="round"/>
<circle cx="179.80" cy="178.53" r="0.95" fill="#163c5e"/>
<line x1="188.95" y1="165.92" x2="188.95" y2="185.05" stroke="#205680" stroke-width="0.7"/>
<line x1="188.05" y1="165.92" x2="189.85" y2="165.92" stroke="#205680" stroke-width="0.6"/>
<line x1="188.05" y1="185.05" x2="189.85" y2="185.05" stroke="#205680" stroke-width="0.6"/>
<circle cx="188.95" cy="175.49" r="0.95" fill="#163c5e"/>
<line x1="198.10" y1="188.96" x2="198.10" y2="195.92" stroke="#205680" stroke-width="0.7"/>
<line x1="197.20" y1="188.96" x2="199.00" y2="188.96" stroke="#205680" stroke-width="0.6"/>
<line x1="197.20" y1="195.92" x2="199.00" y2="195.92" stroke="#205680" stroke-width="0.6"/>
<circle cx="198.10" cy="192.44" r="0.95" fill="#163c5e"/>
<line x1="207.25" y1="202.44" x2="207.25" y2="206.79" stroke="#205680" stroke-width="0.7"/>
<line x1="206.35" y1="202.44" x2="208.15" y2="202.44" stroke="#205680" stroke-width="0.6"/>
<line x1="206.35" y1="206.79" x2="208.15" y2="206.79" stroke="#205680" stroke-width="0.6"/>
<circle cx="207.25" cy="204.61" r="0.95" fill="#163c5e"/>
<line x1="216.40" y1="216.35" x2="216.40" y2="218.09" stroke="#205680" stroke-width="0.7"/>
<line x1="215.50" y1="216.35" x2="217.30" y2="216.35" stroke="#205680" stroke-width="0.6"/>
<line x1="215.50" y1="218.09" x2="217.30" y2="218.09" stroke="#205680" stroke-width="0.6"/>
<circle cx="216.40" cy="217.22" r="0.95" fill="#163c5e"/>
<line x1="225.55" y1="219.83" x2="225.55" y2="220.70" stroke="#205680" stroke-width="0.7"/>
<line x1="224.65" y1="219.83" x2="226.45" y2="219.83" stroke="#205680" stroke-width="0.6"/>
<line x1="224.65" y1="220.70" x2="226.45" y2="220.70" stroke="#205680" stroke-width="0.6"/>
<circle cx="225.55" cy="220.26" r="0.95" fill="#163c5e"/>
<line x1="234.70" y1="220.70" x2="234.70" y2="221.57" stroke="#205680" stroke-width="0.7"/>
<line x1="233.80" y1="220.70" x2="235.60" y2="220.70" stroke="#205680" stroke-width="0.6"/>
<line x1="233.80" y1="221.57" x2="235.60" y2="221.57" stroke="#205680" stroke-width="0.6"/>
<circle cx="234.70" cy="221.13" r="0.95" fill="#163c5e"/>
<line x1="243.85" y1="220.26" x2="243.85" y2="221.13" stroke="#205680" stroke-width="0.7"/>
<line x1="242.95" y1="220.26" x2="244.75" y2="220.26" stroke="#205680" stroke-width="0.6"/>
<line x1="242.95" y1="221.13" x2="244.75" y2="221.13" stroke="#205680" stroke-width="0.6"/>
<circle cx="243.85" cy="220.70" r="0.95" fill="#163c5e"/>
<text x="179.20" y="232.50" font-size="6.0" text-anchor="middle" fill="#222222" stroke="#222222" stroke-width="0.2">0</text>
<text x="188.30" y="232.50" font-size="6.0" text-anchor="middle" fill="#222222" stroke="#222222" stroke-width="0.2">0.04</text>
<text x="207.60" y="232.50" font-size="6.0" text-anchor="middle" fill="#222222" stroke="#222222" stroke-width="0.2">0.15</text>
<text x="225.80" y="232.50" font-size="6.0" text-anchor="middle" fill="#222222" stroke="#222222" stroke-width="0.2">0.6</text>
<text x="244.00" y="232.50" font-size="6.0" text-anchor="middle" fill="#222222" stroke="#222222" stroke-width="0.2">2.4</text>
<text x="179.20" y="241.50" font-size="6.0" text-anchor="middle" fill="#222222" stroke="#222222" stroke-width="0.2">0</text>
<text x="188.30" y="241.50" font-size="6.0" text-anchor="middle" fill="#222222" stroke="#222222" stroke-width="0.2">3.13</text>
<text x="207.60" y="241.50" font-size="6.0" text-anchor="middle" fill="#222222" stroke="#222222" stroke-width="0.2">12.5</text>
<text x="225.80" y="241.50" font-size="6.0" text-anchor="middle" fill="#222222" stroke="#222222" stroke-width="0.2">50</text>
<text x="244.00" y="241.50" font-size="6.0" text-anchor="middle" fill="#222222" stroke="#222222" stroke-width="0.2">200</text>
<text x="251.50" y="232.50" font-size="6.0" text-anchor="start" fill="#222222" stroke="#222222" stroke-width="0.2">(µM)</text>
<text x="251.50" y="241.50" font-size="6.0" text-anchor="start" fill="#222222" stroke="#222222" stroke-width="0.2">(nM)</text>
<text x="338.50" y="149.80" font-size="6.5" text-anchor="middle" font-weight="bold" fill="#000" stroke="#000" stroke-width="0.12">THP-1</text>
<line x1="300.40" y1="154.89" x2="300.40" y2="222.50" stroke="#3e3e3e" stroke-width="1.6"/>
<line x1="297.40" y1="156.69" x2="300.40" y2="156.69" stroke="#3e3e3e" stroke-width="1.2"/>
<text x="295.00" y="159.29" font-size="6.0" text-anchor="end" fill="#333" stroke="#333" stroke-width="0.2">150</text>
<line x1="297.40" y1="178.43" x2="300.40" y2="178.43" stroke="#3e3e3e" stroke-width="1.2"/>
<text x="295.00" y="181.03" font-size="6.0" text-anchor="end" fill="#333" stroke="#333" stroke-width="0.2">100</text>
<line x1="297.40" y1="200.17" x2="300.40" y2="200.17" stroke="#3e3e3e" stroke-width="1.2"/>
<text x="295.00" y="202.77" font-size="6.0" text-anchor="end" fill="#333" stroke="#333" stroke-width="0.2">50</text>
<line x1="297.40" y1="221.90" x2="300.40" y2="221.90" stroke="#3e3e3e" stroke-width="1.2"/>
<text x="295.00" y="224.50" font-size="6.0" text-anchor="end" fill="#333" stroke="#333" stroke-width="0.2">0</text>
<line x1="299.20" y1="221.90" x2="377.00" y2="221.90" stroke="#3e3e3e" stroke-width="1.7"/>
<line x1="307.50" y1="221.90" x2="307.50" y2="223.90" stroke="#3e3e3e" stroke-width="0.9"/>
<line x1="317.92" y1="221.90" x2="317.92" y2="223.90" stroke="#3e3e3e" stroke-width="0.9"/>
<line x1="328.34" y1="221.90" x2="328.34" y2="223.90" stroke="#3e3e3e" stroke-width="0.9"/>
<line x1="338.76" y1="221.90" x2="338.76" y2="223.90" stroke="#3e3e3e" stroke-width="0.9"/>
<line x1="349.18" y1="221.90" x2="349.18" y2="223.90" stroke="#3e3e3e" stroke-width="0.9"/>
<line x1="359.60" y1="221.90" x2="359.60" y2="223.90" stroke="#3e3e3e" stroke-width="0.9"/>
<line x1="370.02" y1="221.90" x2="370.02" y2="223.90" stroke="#3e3e3e" stroke-width="0.9"/>
<text x="279.00" y="188.40" font-size="7.2" text-anchor="middle" font-weight="bold" fill="#222222" stroke="#222222" stroke-width="0.2" transform="rotate(-90 279.00 188.40)" textLength="39.00" lengthAdjust="spacingAndGlyphs">Viable cells (%)</text>
<path d="M307.50,178.43 L317.92,187.12 L328.34,197.30 L338.76,204.51 L349.18,206.90 L359.60,210.82 L370.02,212.12" fill="none" stroke="#745490" stroke-width="0.9" stroke-linejoin="round" stroke-linecap="round"/>
<circle cx="307.50" cy="178.43" r="0.95" fill="#3a2848"/>
<line x1="317.92" y1="185.82" x2="317.92" y2="188.43" stroke="#745490" stroke-width="0.7"/>
<line x1="317.02" y1="185.82" x2="318.82" y2="185.82" stroke="#745490" stroke-width="0.6"/>
<line x1="317.02" y1="188.43" x2="318.82" y2="188.43" stroke="#745490" stroke-width="0.6"/>
<circle cx="317.92" cy="187.12" r="0.95" fill="#3a2848"/>
<line x1="328.34" y1="196.43" x2="328.34" y2="198.17" stroke="#745490" stroke-width="0.7"/>
<line x1="327.44" y1="196.43" x2="329.24" y2="196.43" stroke="#745490" stroke-width="0.6"/>
<line x1="327.44" y1="198.17" x2="329.24" y2="198.17" stroke="#745490" stroke-width="0.6"/>
<circle cx="328.34" cy="197.30" r="0.95" fill="#3a2848"/>
<line x1="338.76" y1="203.64" x2="338.76" y2="205.38" stroke="#745490" stroke-width="0.7"/>
<line x1="337.86" y1="203.64" x2="339.66" y2="203.64" stroke="#745490" stroke-width="0.6"/>
<line x1="337.86" y1="205.38" x2="339.66" y2="205.38" stroke="#745490" stroke-width="0.6"/>
<circle cx="338.76" cy="204.51" r="0.95" fill="#3a2848"/>
<line x1="349.18" y1="206.03" x2="349.18" y2="207.77" stroke="#745490" stroke-width="0.7"/>
<line x1="348.28" y1="206.03" x2="350.08" y2="206.03" stroke="#745490" stroke-width="0.6"/>
<line x1="348.28" y1="207.77" x2="350.08" y2="207.77" stroke="#745490" stroke-width="0.6"/>
<circle cx="349.18" cy="206.90" r="0.95" fill="#3a2848"/>
<line x1="359.60" y1="210.38" x2="359.60" y2="211.25" stroke="#745490" stroke-width="0.7"/>
<line x1="358.70" y1="210.38" x2="360.50" y2="210.38" stroke="#745490" stroke-width="0.6"/>
<line x1="358.70" y1="211.25" x2="360.50" y2="211.25" stroke="#745490" stroke-width="0.6"/>
<circle cx="359.60" cy="210.82" r="0.95" fill="#3a2848"/>
<line x1="370.02" y1="211.68" x2="370.02" y2="212.55" stroke="#745490" stroke-width="0.7"/>
<line x1="369.12" y1="211.68" x2="370.92" y2="211.68" stroke="#745490" stroke-width="0.6"/>
<line x1="369.12" y1="212.55" x2="370.92" y2="212.55" stroke="#745490" stroke-width="0.6"/>
<circle cx="370.02" cy="212.12" r="0.95" fill="#3a2848"/>
<path d="M307.50,178.43 L317.92,185.82 L328.34,195.38 L338.76,200.60 L349.18,204.51 L359.60,205.99 L370.02,209.38" fill="none" stroke="#205680" stroke-width="1.0" stroke-linejoin="round" stroke-linecap="round"/>
<circle cx="307.50" cy="178.43" r="0.95" fill="#163c5e"/>
<line x1="317.92" y1="184.08" x2="317.92" y2="187.56" stroke="#205680" stroke-width="0.7"/>
<line x1="317.02" y1="184.08" x2="318.82" y2="184.08" stroke="#205680" stroke-width="0.6"/>
<line x1="317.02" y1="187.56" x2="318.82" y2="187.56" stroke="#205680" stroke-width="0.6"/>
<circle cx="317.92" cy="185.82" r="0.95" fill="#163c5e"/>
<line x1="328.34" y1="194.08" x2="328.34" y2="196.69" stroke="#205680" stroke-width="0.7"/>
<line x1="327.44" y1="194.08" x2="329.24" y2="194.08" stroke="#205680" stroke-width="0.6"/>
<line x1="327.44" y1="196.69" x2="329.24" y2="196.69" stroke="#205680" stroke-width="0.6"/>
<circle cx="328.34" cy="195.38" r="0.95" fill="#163c5e"/>
<line x1="338.76" y1="199.30" x2="338.76" y2="201.90" stroke="#205680" stroke-width="0.7"/>
<line x1="337.86" y1="199.30" x2="339.66" y2="199.30" stroke="#205680" stroke-width="0.6"/>
<line x1="337.86" y1="201.90" x2="339.66" y2="201.90" stroke="#205680" stroke-width="0.6"/>
<circle cx="338.76" cy="200.60" r="0.95" fill="#163c5e"/>
<line x1="349.18" y1="203.21" x2="349.18" y2="205.82" stroke="#205680" stroke-width="0.7"/>
<line x1="348.28" y1="203.21" x2="350.08" y2="203.21" stroke="#205680" stroke-width="0.6"/>
<line x1="348.28" y1="205.82" x2="350.08" y2="205.82" stroke="#205680" stroke-width="0.6"/>
<circle cx="349.18" cy="204.51" r="0.95" fill="#163c5e"/>
<line x1="359.60" y1="205.12" x2="359.60" y2="206.86" stroke="#205680" stroke-width="0.7"/>
<line x1="358.70" y1="205.12" x2="360.50" y2="205.12" stroke="#205680" stroke-width="0.6"/>
<line x1="358.70" y1="206.86" x2="360.50" y2="206.86" stroke="#205680" stroke-width="0.6"/>
<circle cx="359.60" cy="205.99" r="0.95" fill="#163c5e"/>
<line x1="370.02" y1="208.51" x2="370.02" y2="210.25" stroke="#205680" stroke-width="0.7"/>
<line x1="369.12" y1="208.51" x2="370.92" y2="208.51" stroke="#205680" stroke-width="0.6"/>
<line x1="369.12" y1="210.25" x2="370.92" y2="210.25" stroke="#205680" stroke-width="0.6"/>
<circle cx="370.02" cy="209.38" r="0.95" fill="#163c5e"/>
<path d="M307.50,178.43 L317.92,181.04 L328.34,190.17 L338.76,194.95 L349.18,201.21 L359.60,199.73 L370.02,208.42" fill="none" stroke="#b5244a" stroke-width="1.0" stroke-linejoin="round" stroke-linecap="round"/>
<circle cx="307.50" cy="178.43" r="0.95" fill="#921436"/>
<line x1="317.92" y1="177.56" x2="317.92" y2="184.52" stroke="#b5244a" stroke-width="0.7"/>
<line x1="317.02" y1="177.56" x2="318.82" y2="177.56" stroke="#b5244a" stroke-width="0.6"/>
<line x1="317.02" y1="184.52" x2="318.82" y2="184.52" stroke="#b5244a" stroke-width="0.6"/>
<circle cx="317.92" cy="181.04" r="0.95" fill="#921436"/>
<line x1="328.34" y1="188.86" x2="328.34" y2="191.47" stroke="#b5244a" stroke-width="0.7"/>
<line x1="327.44" y1="188.86" x2="329.24" y2="188.86" stroke="#b5244a" stroke-width="0.6"/>
<line x1="327.44" y1="191.47" x2="329.24" y2="191.47" stroke="#b5244a" stroke-width="0.6"/>
<circle cx="328.34" cy="190.17" r="0.95" fill="#921436"/>
<line x1="338.76" y1="193.64" x2="338.76" y2="196.25" stroke="#b5244a" stroke-width="0.7"/>
<line x1="337.86" y1="193.64" x2="339.66" y2="193.64" stroke="#b5244a" stroke-width="0.6"/>
<line x1="337.86" y1="196.25" x2="339.66" y2="196.25" stroke="#b5244a" stroke-width="0.6"/>
<circle cx="338.76" cy="194.95" r="0.95" fill="#921436"/>
<line x1="349.18" y1="200.34" x2="349.18" y2="202.08" stroke="#b5244a" stroke-width="0.7"/>
<line x1="348.28" y1="200.34" x2="350.08" y2="200.34" stroke="#b5244a" stroke-width="0.6"/>
<line x1="348.28" y1="202.08" x2="350.08" y2="202.08" stroke="#b5244a" stroke-width="0.6"/>
<circle cx="349.18" cy="201.21" r="0.95" fill="#921436"/>
<line x1="359.60" y1="198.86" x2="359.60" y2="200.60" stroke="#b5244a" stroke-width="0.7"/>
<line x1="358.70" y1="198.86" x2="360.50" y2="198.86" stroke="#b5244a" stroke-width="0.6"/>
<line x1="358.70" y1="200.60" x2="360.50" y2="200.60" stroke="#b5244a" stroke-width="0.6"/>
<circle cx="359.60" cy="199.73" r="0.95" fill="#921436"/>
<line x1="370.02" y1="207.55" x2="370.02" y2="209.29" stroke="#b5244a" stroke-width="0.7"/>
<line x1="369.12" y1="207.55" x2="370.92" y2="207.55" stroke="#b5244a" stroke-width="0.6"/>
<line x1="369.12" y1="209.29" x2="370.92" y2="209.29" stroke="#b5244a" stroke-width="0.6"/>
<circle cx="370.02" cy="208.42" r="0.95" fill="#921436"/>
<text x="307.50" y="233.00" font-size="6.0" text-anchor="middle" fill="#222222" stroke="#222222" stroke-width="0.2">0</text>
<text x="328.70" y="233.00" font-size="6.0" text-anchor="middle" fill="#222222" stroke="#222222" stroke-width="0.2">1.0</text>
<text x="349.20" y="233.00" font-size="6.0" text-anchor="middle" fill="#222222" stroke="#222222" stroke-width="0.2">2.2</text>
<text x="370.00" y="233.00" font-size="6.0" text-anchor="middle" fill="#222222" stroke="#222222" stroke-width="0.2">5</text>
<text x="307.50" y="241.80" font-size="6.0" text-anchor="middle" fill="#222222" stroke="#222222" stroke-width="0.2">0</text>
<text x="328.70" y="241.80" font-size="6.0" text-anchor="middle" fill="#222222" stroke="#222222" stroke-width="0.2">13.8</text>
<text x="349.20" y="241.80" font-size="6.0" text-anchor="middle" fill="#222222" stroke="#222222" stroke-width="0.2">31.1</text>
<text x="370.00" y="241.80" font-size="6.0" text-anchor="middle" fill="#222222" stroke="#222222" stroke-width="0.2">70</text>
<text x="377.30" y="233.00" font-size="6.0" text-anchor="start" fill="#222222" stroke="#222222" stroke-width="0.2">(µM)</text>
<text x="377.30" y="241.80" font-size="6.0" text-anchor="start" fill="#222222" stroke="#222222" stroke-width="0.2">(nM)</text>
<text x="454.40" y="145.60" font-size="6.3" text-anchor="middle" font-weight="bold" fill="#000" stroke="#000" stroke-width="0.12">KG-1</text>
<line x1="416.50" y1="154.89" x2="416.50" y2="222.50" stroke="#3e3e3e" stroke-width="1.6"/>
<line x1="414.10" y1="156.69" x2="416.50" y2="156.69" stroke="#3e3e3e" stroke-width="1.2"/>
<text x="412.90" y="159.29" font-size="6.0" text-anchor="end" fill="#333" stroke="#333" stroke-width="0.2">150</text>
<line x1="414.10" y1="178.43" x2="416.50" y2="178.43" stroke="#3e3e3e" stroke-width="1.2"/>
<text x="412.90" y="181.03" font-size="6.0" text-anchor="end" fill="#333" stroke="#333" stroke-width="0.2">100</text>
<line x1="414.10" y1="200.17" x2="416.50" y2="200.17" stroke="#3e3e3e" stroke-width="1.2"/>
<text x="412.90" y="202.77" font-size="6.0" text-anchor="end" fill="#333" stroke="#333" stroke-width="0.2">50</text>
<line x1="414.10" y1="221.90" x2="416.50" y2="221.90" stroke="#3e3e3e" stroke-width="1.2"/>
<text x="412.90" y="224.50" font-size="6.0" text-anchor="end" fill="#333" stroke="#333" stroke-width="0.2">0</text>
<line x1="415.30" y1="221.90" x2="492.80" y2="221.90" stroke="#3e3e3e" stroke-width="1.7"/>
<line x1="421.50" y1="221.90" x2="421.50" y2="223.90" stroke="#3e3e3e" stroke-width="0.9"/>
<line x1="431.03" y1="221.90" x2="431.03" y2="223.90" stroke="#3e3e3e" stroke-width="0.9"/>
<line x1="440.56" y1="221.90" x2="440.56" y2="223.90" stroke="#3e3e3e" stroke-width="0.9"/>
<line x1="450.09" y1="221.90" x2="450.09" y2="223.90" stroke="#3e3e3e" stroke-width="0.9"/>
<line x1="459.62" y1="221.90" x2="459.62" y2="223.90" stroke="#3e3e3e" stroke-width="0.9"/>
<line x1="469.15" y1="221.90" x2="469.15" y2="223.90" stroke="#3e3e3e" stroke-width="0.9"/>
<line x1="478.68" y1="221.90" x2="478.68" y2="223.90" stroke="#3e3e3e" stroke-width="0.9"/>
<line x1="488.21" y1="221.90" x2="488.21" y2="223.90" stroke="#3e3e3e" stroke-width="0.9"/>
<text x="400.00" y="184.60" font-size="7.2" text-anchor="middle" font-weight="bold" fill="#222222" stroke="#222222" stroke-width="0.2" transform="rotate(-90 400.00 184.60)" textLength="39.00" lengthAdjust="spacingAndGlyphs">Viable cells (%)</text>
<path d="M421.50,178.43 L431.03,182.52 L440.56,186.69 L450.09,192.78 L459.62,212.77 L469.15,219.29 L478.68,220.90 L488.21,220.60" fill="none" stroke="#745490" stroke-width="0.9" stroke-linejoin="round" stroke-linecap="round"/>
<circle cx="421.50" cy="178.43" r="0.95" fill="#3a2848"/>
<line x1="431.03" y1="180.78" x2="431.03" y2="184.25" stroke="#745490" stroke-width="0.7"/>
<line x1="430.13" y1="180.78" x2="431.93" y2="180.78" stroke="#745490" stroke-width="0.6"/>
<line x1="430.13" y1="184.25" x2="431.93" y2="184.25" stroke="#745490" stroke-width="0.6"/>
<circle cx="431.03" cy="182.52" r="0.95" fill="#3a2848"/>
<line x1="440.56" y1="184.52" x2="440.56" y2="188.86" stroke="#745490" stroke-width="0.7"/>
<line x1="439.66" y1="184.52" x2="441.46" y2="184.52" stroke="#745490" stroke-width="0.6"/>
<line x1="439.66" y1="188.86" x2="441.46" y2="188.86" stroke="#745490" stroke-width="0.6"/>
<circle cx="440.56" cy="186.69" r="0.95" fill="#3a2848"/>
<line x1="450.09" y1="190.60" x2="450.09" y2="194.95" stroke="#745490" stroke-width="0.7"/>
<line x1="449.19" y1="190.60" x2="450.99" y2="190.60" stroke="#745490" stroke-width="0.6"/>
<line x1="449.19" y1="194.95" x2="450.99" y2="194.95" stroke="#745490" stroke-width="0.6"/>
<circle cx="450.09" cy="192.78" r="0.95" fill="#3a2848"/>
<line x1="459.62" y1="210.60" x2="459.62" y2="214.94" stroke="#745490" stroke-width="0.7"/>
<line x1="458.72" y1="210.60" x2="460.52" y2="210.60" stroke="#745490" stroke-width="0.6"/>
<line x1="458.72" y1="214.94" x2="460.52" y2="214.94" stroke="#745490" stroke-width="0.6"/>
<circle cx="459.62" cy="212.77" r="0.95" fill="#3a2848"/>
<line x1="469.15" y1="218.86" x2="469.15" y2="219.73" stroke="#745490" stroke-width="0.7"/>
<line x1="468.25" y1="218.86" x2="470.05" y2="218.86" stroke="#745490" stroke-width="0.6"/>
<line x1="468.25" y1="219.73" x2="470.05" y2="219.73" stroke="#745490" stroke-width="0.6"/>
<circle cx="469.15" cy="219.29" r="0.95" fill="#3a2848"/>
<line x1="478.68" y1="220.47" x2="478.68" y2="221.33" stroke="#745490" stroke-width="0.7"/>
<line x1="477.78" y1="220.47" x2="479.58" y2="220.47" stroke="#745490" stroke-width="0.6"/>
<line x1="477.78" y1="221.33" x2="479.58" y2="221.33" stroke="#745490" stroke-width="0.6"/>
<circle cx="478.68" cy="220.90" r="0.95" fill="#3a2848"/>
<line x1="488.21" y1="220.16" x2="488.21" y2="221.03" stroke="#745490" stroke-width="0.7"/>
<line x1="487.31" y1="220.16" x2="489.11" y2="220.16" stroke="#745490" stroke-width="0.6"/>
<line x1="487.31" y1="221.03" x2="489.11" y2="221.03" stroke="#745490" stroke-width="0.6"/>
<circle cx="488.21" cy="220.60" r="0.95" fill="#3a2848"/>
<path d="M421.50,178.43 L431.03,186.25 L440.56,192.34 L450.09,194.95 L459.62,202.34 L469.15,214.94 L478.68,217.21 L488.21,218.90" fill="none" stroke="#b5244a" stroke-width="1.0" stroke-linejoin="round" stroke-linecap="round"/>
<circle cx="421.50" cy="178.43" r="0.95" fill="#921436"/>
<line x1="431.03" y1="184.08" x2="431.03" y2="188.43" stroke="#b5244a" stroke-width="0.7"/>
<line x1="430.13" y1="184.08" x2="431.93" y2="184.08" stroke="#b5244a" stroke-width="0.6"/>
<line x1="430.13" y1="188.43" x2="431.93" y2="188.43" stroke="#b5244a" stroke-width="0.6"/>
<circle cx="431.03" cy="186.25" r="0.95" fill="#921436"/>
<line x1="440.56" y1="190.17" x2="440.56" y2="194.51" stroke="#b5244a" stroke-width="0.7"/>
<line x1="439.66" y1="190.17" x2="441.46" y2="190.17" stroke="#b5244a" stroke-width="0.6"/>
<line x1="439.66" y1="194.51" x2="441.46" y2="194.51" stroke="#b5244a" stroke-width="0.6"/>
<circle cx="440.56" cy="192.34" r="0.95" fill="#921436"/>
<line x1="450.09" y1="193.21" x2="450.09" y2="196.69" stroke="#b5244a" stroke-width="0.7"/>
<line x1="449.19" y1="193.21" x2="450.99" y2="193.21" stroke="#b5244a" stroke-width="0.6"/>
<line x1="449.19" y1="196.69" x2="450.99" y2="196.69" stroke="#b5244a" stroke-width="0.6"/>
<circle cx="450.09" cy="194.95" r="0.95" fill="#921436"/>
<line x1="459.62" y1="200.60" x2="459.62" y2="204.08" stroke="#b5244a" stroke-width="0.7"/>
<line x1="458.72" y1="200.60" x2="460.52" y2="200.60" stroke="#b5244a" stroke-width="0.6"/>
<line x1="458.72" y1="204.08" x2="460.52" y2="204.08" stroke="#b5244a" stroke-width="0.6"/>
<circle cx="459.62" cy="202.34" r="0.95" fill="#921436"/>
<line x1="469.15" y1="214.08" x2="469.15" y2="215.81" stroke="#b5244a" stroke-width="0.7"/>
<line x1="468.25" y1="214.08" x2="470.05" y2="214.08" stroke="#b5244a" stroke-width="0.6"/>
<line x1="468.25" y1="215.81" x2="470.05" y2="215.81" stroke="#b5244a" stroke-width="0.6"/>
<circle cx="469.15" cy="214.94" r="0.95" fill="#921436"/>
<line x1="478.68" y1="216.34" x2="478.68" y2="218.07" stroke="#b5244a" stroke-width="0.7"/>
<line x1="477.78" y1="216.34" x2="479.58" y2="216.34" stroke="#b5244a" stroke-width="0.6"/>
<line x1="477.78" y1="218.07" x2="479.58" y2="218.07" stroke="#b5244a" stroke-width="0.6"/>
<circle cx="478.68" cy="217.21" r="0.95" fill="#921436"/>
<line x1="488.21" y1="218.03" x2="488.21" y2="219.77" stroke="#b5244a" stroke-width="0.7"/>
<line x1="487.31" y1="218.03" x2="489.11" y2="218.03" stroke="#b5244a" stroke-width="0.6"/>
<line x1="487.31" y1="219.77" x2="489.11" y2="219.77" stroke="#b5244a" stroke-width="0.6"/>
<circle cx="488.21" cy="218.90" r="0.95" fill="#921436"/>
<path d="M421.50,178.43 L431.03,180.60 L440.56,184.95 L450.09,191.47 L459.62,203.64 L469.15,218.86 L478.68,219.90 L488.21,218.51" fill="none" stroke="#205680" stroke-width="1.0" stroke-linejoin="round" stroke-linecap="round"/>
<circle cx="421.50" cy="178.43" r="0.95" fill="#163c5e"/>
<line x1="431.03" y1="178.86" x2="431.03" y2="182.34" stroke="#205680" stroke-width="0.7"/>
<line x1="430.13" y1="178.86" x2="431.93" y2="178.86" stroke="#205680" stroke-width="0.6"/>
<line x1="430.13" y1="182.34" x2="431.93" y2="182.34" stroke="#205680" stroke-width="0.6"/>
<circle cx="431.03" cy="180.60" r="0.95" fill="#163c5e"/>
<line x1="440.56" y1="182.34" x2="440.56" y2="187.56" stroke="#205680" stroke-width="0.7"/>
<line x1="439.66" y1="182.34" x2="441.46" y2="182.34" stroke="#205680" stroke-width="0.6"/>
<line x1="439.66" y1="187.56" x2="441.46" y2="187.56" stroke="#205680" stroke-width="0.6"/>
<circle cx="440.56" cy="184.95" r="0.95" fill="#163c5e"/>
<line x1="450.09" y1="187.99" x2="450.09" y2="194.95" stroke="#205680" stroke-width="0.7"/>
<line x1="449.19" y1="187.99" x2="450.99" y2="187.99" stroke="#205680" stroke-width="0.6"/>
<line x1="449.19" y1="194.95" x2="450.99" y2="194.95" stroke="#205680" stroke-width="0.6"/>
<circle cx="450.09" cy="191.47" r="0.95" fill="#163c5e"/>
<line x1="459.62" y1="201.90" x2="459.62" y2="205.38" stroke="#205680" stroke-width="0.7"/>
<line x1="458.72" y1="201.90" x2="460.52" y2="201.90" stroke="#205680" stroke-width="0.6"/>
<line x1="458.72" y1="205.38" x2="460.52" y2="205.38" stroke="#205680" stroke-width="0.6"/>
<circle cx="459.62" cy="203.64" r="0.95" fill="#163c5e"/>
<line x1="469.15" y1="217.99" x2="469.15" y2="219.73" stroke="#205680" stroke-width="0.7"/>
<line x1="468.25" y1="217.99" x2="470.05" y2="217.99" stroke="#205680" stroke-width="0.6"/>
<line x1="468.25" y1="219.73" x2="470.05" y2="219.73" stroke="#205680" stroke-width="0.6"/>
<circle cx="469.15" cy="218.86" r="0.95" fill="#163c5e"/>
<line x1="478.68" y1="219.03" x2="478.68" y2="220.77" stroke="#205680" stroke-width="0.7"/>
<line x1="477.78" y1="219.03" x2="479.58" y2="219.03" stroke="#205680" stroke-width="0.6"/>
<line x1="477.78" y1="220.77" x2="479.58" y2="220.77" stroke="#205680" stroke-width="0.6"/>
<circle cx="478.68" cy="219.90" r="0.95" fill="#163c5e"/>
<line x1="488.21" y1="217.21" x2="488.21" y2="219.81" stroke="#205680" stroke-width="0.7"/>
<line x1="487.31" y1="217.21" x2="489.11" y2="217.21" stroke="#205680" stroke-width="0.6"/>
<line x1="487.31" y1="219.81" x2="489.11" y2="219.81" stroke="#205680" stroke-width="0.6"/>
<circle cx="488.21" cy="218.51" r="0.95" fill="#163c5e"/>
<text x="421.50" y="233.20" font-size="6.0" text-anchor="middle" fill="#222222" stroke="#222222" stroke-width="0.2">0</text>
<text x="430.90" y="233.20" font-size="6.0" text-anchor="middle" fill="#222222" stroke="#222222" stroke-width="0.2">0.25</text>
<text x="449.80" y="233.20" font-size="6.0" text-anchor="middle" fill="#222222" stroke="#222222" stroke-width="0.2">1</text>
<text x="469.00" y="233.20" font-size="6.0" text-anchor="middle" fill="#222222" stroke="#222222" stroke-width="0.2">4</text>
<text x="488.20" y="233.20" font-size="6.0" text-anchor="middle" fill="#222222" stroke="#222222" stroke-width="0.2">16</text>
<text x="421.50" y="241.90" font-size="6.0" text-anchor="middle" fill="#222222" stroke="#222222" stroke-width="0.2">0</text>
<text x="430.90" y="241.90" font-size="6.0" text-anchor="middle" fill="#222222" stroke="#222222" stroke-width="0.2">2.5</text>
<text x="449.80" y="241.90" font-size="6.0" text-anchor="middle" fill="#222222" stroke="#222222" stroke-width="0.2">10</text>
<text x="469.00" y="241.90" font-size="6.0" text-anchor="middle" fill="#222222" stroke="#222222" stroke-width="0.2">40</text>
<text x="488.20" y="241.90" font-size="6.0" text-anchor="middle" fill="#222222" stroke="#222222" stroke-width="0.2">160</text>
<text x="497.30" y="233.20" font-size="6.0" text-anchor="start" fill="#222222" stroke="#222222" stroke-width="0.2">(µM)</text>
<text x="497.30" y="241.90" font-size="6.0" text-anchor="start" fill="#222222" stroke="#222222" stroke-width="0.2">(nM)</text>
<line x1="463.00" y1="159.50" x2="469.00" y2="159.50" stroke="#b5244a" stroke-width="1.3"/>
<circle cx="466.00" cy="159.50" r="1.25" fill="#921436"/>
<text x="470.80" y="161.50" font-size="5.8" text-anchor="start" fill="#222222" stroke="#222222" stroke-width="0.2">Cytarabine</text>
<line x1="463.00" y1="169.20" x2="469.00" y2="169.20" stroke="#245a6a" stroke-width="1.3"/>
<circle cx="466.00" cy="169.20" r="1.25" fill="#163e4c"/>
<text x="470.80" y="171.20" font-size="5.8" text-anchor="start" fill="#222222" stroke="#222222" stroke-width="0.2">TAK-981</text>
<line x1="463.00" y1="178.90" x2="469.00" y2="178.90" stroke="#745490" stroke-width="1.3"/>
<circle cx="466.00" cy="178.90" r="1.25" fill="#3a2848"/>
<text x="470.80" y="180.90" font-size="5.8" text-anchor="start" fill="#222222" stroke="#222222" stroke-width="0.2">Combination</text>
<text x="80.30" y="279.60" font-size="6.8" text-anchor="middle" font-weight="bold" fill="#000" stroke="#000" stroke-width="0.12">U937</text>
<text x="80.30" y="288.60" font-size="6.8" text-anchor="middle" font-weight="bold" fill="#000" stroke="#000" stroke-width="0.12">Cytarabine + TAK-981</text>
<text x="196.00" y="279.60" font-size="6.8" text-anchor="middle" font-weight="bold" fill="#000" stroke="#000" stroke-width="0.12">MOLM-14</text>
<text x="196.00" y="288.60" font-size="6.8" text-anchor="middle" font-weight="bold" fill="#000" stroke="#000" stroke-width="0.12">Cytarabine + TAK-981</text>
<text x="309.50" y="279.60" font-size="6.8" text-anchor="middle" font-weight="bold" fill="#000" stroke="#000" stroke-width="0.12">THP-1</text>
<text x="309.50" y="288.60" font-size="6.8" text-anchor="middle" font-weight="bold" fill="#000" stroke="#000" stroke-width="0.12">Cytarabine + TAK-981</text>
<text x="423.80" y="279.60" font-size="6.8" text-anchor="middle" font-weight="bold" fill="#000" stroke="#000" stroke-width="0.12">KG-1</text>
<text x="423.80" y="288.60" font-size="6.8" text-anchor="middle" font-weight="bold" fill="#000" stroke="#000" stroke-width="0.12">Cytarabine + TAK-981</text>
<line x1="44.30" y1="322.15" x2="114.90" y2="322.15" stroke="#d6d6d6" stroke-width="1.3"/>
<line x1="43.30" y1="295.50" x2="43.30" y2="347.80" stroke="#3e3e3e" stroke-width="1.6"/>
<line x1="40.70" y1="297.10" x2="43.30" y2="297.10" stroke="#3e3e3e" stroke-width="1.2"/>
<text x="37.40" y="299.70" font-size="6.1" text-anchor="end" fill="#333" stroke="#333" stroke-width="0.2">2.0</text>
<line x1="40.70" y1="309.62" x2="43.30" y2="309.62" stroke="#3e3e3e" stroke-width="1.2"/>
<text x="37.40" y="312.23" font-size="6.1" text-anchor="end" fill="#333" stroke="#333" stroke-width="0.2">1.5</text>
<line x1="40.70" y1="322.15" x2="43.30" y2="322.15" stroke="#3e3e3e" stroke-width="1.2"/>
<text x="37.40" y="324.75" font-size="6.1" text-anchor="end" fill="#333" stroke="#333" stroke-width="0.2">1.0</text>
<line x1="40.70" y1="334.68" x2="43.30" y2="334.68" stroke="#3e3e3e" stroke-width="1.2"/>
<text x="37.40" y="337.28" font-size="6.1" text-anchor="end" fill="#333" stroke="#333" stroke-width="0.2">0.5</text>
<line x1="40.70" y1="347.20" x2="43.30" y2="347.20" stroke="#3e3e3e" stroke-width="1.2"/>
<text x="37.40" y="349.80" font-size="6.1" text-anchor="end" fill="#333" stroke="#333" stroke-width="0.2">0.0</text>
<line x1="42.10" y1="347.20" x2="116.00" y2="347.20" stroke="#3e3e3e" stroke-width="1.7"/>
<line x1="43.30" y1="347.20" x2="43.30" y2="349.20" stroke="#3e3e3e" stroke-width="0.8"/>
<line x1="46.88" y1="347.20" x2="46.88" y2="348.50" stroke="#3e3e3e" stroke-width="0.6"/>
<line x1="50.46" y1="347.20" x2="50.46" y2="348.50" stroke="#3e3e3e" stroke-width="0.6"/>
<line x1="54.04" y1="347.20" x2="54.04" y2="348.50" stroke="#3e3e3e" stroke-width="0.6"/>
<line x1="57.62" y1="347.20" x2="57.62" y2="348.50" stroke="#3e3e3e" stroke-width="0.6"/>
<line x1="61.20" y1="347.20" x2="61.20" y2="348.50" stroke="#3e3e3e" stroke-width="0.6"/>
<line x1="64.78" y1="347.20" x2="64.78" y2="348.50" stroke="#3e3e3e" stroke-width="0.6"/>
<line x1="68.36" y1="347.20" x2="68.36" y2="348.50" stroke="#3e3e3e" stroke-width="0.6"/>
<line x1="71.94" y1="347.20" x2="71.94" y2="348.50" stroke="#3e3e3e" stroke-width="0.6"/>
<line x1="75.52" y1="347.20" x2="75.52" y2="348.50" stroke="#3e3e3e" stroke-width="0.6"/>
<line x1="79.10" y1="347.20" x2="79.10" y2="349.20" stroke="#3e3e3e" stroke-width="0.8"/>
<line x1="82.68" y1="347.20" x2="82.68" y2="348.50" stroke="#3e3e3e" stroke-width="0.6"/>
<line x1="86.26" y1="347.20" x2="86.26" y2="348.50" stroke="#3e3e3e" stroke-width="0.6"/>
<line x1="89.84" y1="347.20" x2="89.84" y2="348.50" stroke="#3e3e3e" stroke-width="0.6"/>
<line x1="93.42" y1="347.20" x2="93.42" y2="348.50" stroke="#3e3e3e" stroke-width="0.6"/>
<line x1="97.00" y1="347.20" x2="97.00" y2="348.50" stroke="#3e3e3e" stroke-width="0.6"/>
<line x1="100.58" y1="347.20" x2="100.58" y2="348.50" stroke="#3e3e3e" stroke-width="0.6"/>
<line x1="104.16" y1="347.20" x2="104.16" y2="348.50" stroke="#3e3e3e" stroke-width="0.6"/>
<line x1="107.74" y1="347.20" x2="107.74" y2="348.50" stroke="#3e3e3e" stroke-width="0.6"/>
<line x1="111.32" y1="347.20" x2="111.32" y2="348.50" stroke="#3e3e3e" stroke-width="0.6"/>
<line x1="114.90" y1="347.20" x2="114.90" y2="349.20" stroke="#3e3e3e" stroke-width="0.8"/>
<text x="43.30" y="358.80" font-size="6.1" text-anchor="middle" fill="#333" stroke="#333" stroke-width="0.2">0.0</text>
<text x="79.10" y="358.80" font-size="6.1" text-anchor="middle" fill="#333" stroke="#333" stroke-width="0.2">0.5</text>
<text x="114.90" y="358.80" font-size="6.1" text-anchor="middle" fill="#333" stroke="#333" stroke-width="0.2">1.0</text>
<text x="80.10" y="368.80" font-size="7.9" text-anchor="middle" font-weight="bold" fill="#222222" stroke="#222222" stroke-width="0.2" textLength="6.40" lengthAdjust="spacingAndGlyphs">Fa</text>
<text x="24.60" y="320.55" font-size="7.6" text-anchor="middle" font-weight="bold" fill="#222222" stroke="#222222" stroke-width="0.2" transform="rotate(-90 24.60 320.55)" textLength="45.00" lengthAdjust="spacingAndGlyphs">Combination index</text>
<path d="M47.02,305.87 L47.85,308.69 L48.67,311.09 L49.49,312.91 L50.31,314.37 L51.14,315.65 L51.96,316.79 L52.78,317.80 L53.61,318.68 L54.43,319.46 L55.25,320.15 L56.08,320.77 L56.90,321.33 L57.72,321.84 L58.54,322.33 L59.37,322.78 L60.19,323.21 L61.01,323.62 L61.84,324.00 L62.66,324.37 L63.48,324.71 L64.31,325.04 L65.13,325.35 L65.95,325.65 L66.77,325.93 L67.60,326.20 L68.42,326.46 L69.24,326.70 L70.07,326.93 L70.89,327.15 L71.71,327.35 L72.53,327.55 L73.36,327.74 L74.18,327.91 L75.00,328.08 L75.83,328.24 L76.65,328.39 L77.47,328.53 L78.30,328.67 L79.12,328.79 L79.94,328.91 L80.76,329.03 L81.59,329.14 L82.41,329.24 L83.23,329.34 L84.06,329.43 L84.88,329.52 L85.70,329.61 L86.52,329.69 L87.35,329.77 L88.17,329.85 L88.99,329.93 L89.82,330.00 L90.64,330.07 L91.46,330.15 L92.29,330.22 L93.11,330.29 L93.93,330.35 L94.75,330.42 L95.58,330.49 L96.40,330.56 L97.22,330.63 L98.05,330.70 L98.87,330.77 L99.69,330.84 L100.51,330.91 L101.34,330.99 L102.16,331.06 L102.98,331.14 L103.81,331.22 L104.63,331.30 L105.45,331.38 L106.28,331.46 L107.10,331.54 L107.92,331.62 L108.74,331.71 L109.57,331.79 L110.39,331.88 L111.21,331.96 L112.04,332.04" fill="none" stroke="#47934f" stroke-width="1.0" stroke-linejoin="round" stroke-linecap="round"/>
<line x1="159.30" y1="322.15" x2="228.30" y2="322.15" stroke="#d6d6d6" stroke-width="1.3"/>
<line x1="158.30" y1="295.50" x2="158.30" y2="347.80" stroke="#3e3e3e" stroke-width="1.6"/>
<line x1="155.70" y1="297.10" x2="158.30" y2="297.10" stroke="#3e3e3e" stroke-width="1.2"/>
<text x="152.40" y="299.70" font-size="6.1" text-anchor="end" fill="#333" stroke="#333" stroke-width="0.2">2.0</text>
<line x1="155.70" y1="309.62" x2="158.30" y2="309.62" stroke="#3e3e3e" stroke-width="1.2"/>
<text x="152.40" y="312.23" font-size="6.1" text-anchor="end" fill="#333" stroke="#333" stroke-width="0.2">1.5</text>
<line x1="155.70" y1="322.15" x2="158.30" y2="322.15" stroke="#3e3e3e" stroke-width="1.2"/>
<text x="152.40" y="324.75" font-size="6.1" text-anchor="end" fill="#333" stroke="#333" stroke-width="0.2">1.0</text>
<line x1="155.70" y1="334.68" x2="158.30" y2="334.68" stroke="#3e3e3e" stroke-width="1.2"/>
<text x="152.40" y="337.28" font-size="6.1" text-anchor="end" fill="#333" stroke="#333" stroke-width="0.2">0.5</text>
<line x1="155.70" y1="347.20" x2="158.30" y2="347.20" stroke="#3e3e3e" stroke-width="1.2"/>
<text x="152.40" y="349.80" font-size="6.1" text-anchor="end" fill="#333" stroke="#333" stroke-width="0.2">0.0</text>
<line x1="157.10" y1="347.20" x2="230.00" y2="347.20" stroke="#3e3e3e" stroke-width="1.7"/>
<line x1="158.30" y1="347.20" x2="158.30" y2="349.20" stroke="#3e3e3e" stroke-width="0.8"/>
<line x1="161.80" y1="347.20" x2="161.80" y2="348.50" stroke="#3e3e3e" stroke-width="0.6"/>
<line x1="165.30" y1="347.20" x2="165.30" y2="348.50" stroke="#3e3e3e" stroke-width="0.6"/>
<line x1="168.80" y1="347.20" x2="168.80" y2="348.50" stroke="#3e3e3e" stroke-width="0.6"/>
<line x1="172.30" y1="347.20" x2="172.30" y2="348.50" stroke="#3e3e3e" stroke-width="0.6"/>
<line x1="175.80" y1="347.20" x2="175.80" y2="348.50" stroke="#3e3e3e" stroke-width="0.6"/>
<line x1="179.30" y1="347.20" x2="179.30" y2="348.50" stroke="#3e3e3e" stroke-width="0.6"/>
<line x1="182.80" y1="347.20" x2="182.80" y2="348.50" stroke="#3e3e3e" stroke-width="0.6"/>
<line x1="186.30" y1="347.20" x2="186.30" y2="348.50" stroke="#3e3e3e" stroke-width="0.6"/>
<line x1="189.80" y1="347.20" x2="189.80" y2="348.50" stroke="#3e3e3e" stroke-width="0.6"/>
<line x1="193.30" y1="347.20" x2="193.30" y2="349.20" stroke="#3e3e3e" stroke-width="0.8"/>
<line x1="196.80" y1="347.20" x2="196.80" y2="348.50" stroke="#3e3e3e" stroke-width="0.6"/>
<line x1="200.30" y1="347.20" x2="200.30" y2="348.50" stroke="#3e3e3e" stroke-width="0.6"/>
<line x1="203.80" y1="347.20" x2="203.80" y2="348.50" stroke="#3e3e3e" stroke-width="0.6"/>
<line x1="207.30" y1="347.20" x2="207.30" y2="348.50" stroke="#3e3e3e" stroke-width="0.6"/>
<line x1="210.80" y1="347.20" x2="210.80" y2="348.50" stroke="#3e3e3e" stroke-width="0.6"/>
<line x1="214.30" y1="347.20" x2="214.30" y2="348.50" stroke="#3e3e3e" stroke-width="0.6"/>
<line x1="217.80" y1="347.20" x2="217.80" y2="348.50" stroke="#3e3e3e" stroke-width="0.6"/>
<line x1="221.30" y1="347.20" x2="221.30" y2="348.50" stroke="#3e3e3e" stroke-width="0.6"/>
<line x1="224.80" y1="347.20" x2="224.80" y2="348.50" stroke="#3e3e3e" stroke-width="0.6"/>
<line x1="228.30" y1="347.20" x2="228.30" y2="349.20" stroke="#3e3e3e" stroke-width="0.8"/>
<text x="158.30" y="358.80" font-size="6.1" text-anchor="middle" fill="#333" stroke="#333" stroke-width="0.2">0.0</text>
<text x="193.30" y="358.80" font-size="6.1" text-anchor="middle" fill="#333" stroke="#333" stroke-width="0.2">0.5</text>
<text x="228.30" y="358.80" font-size="6.1" text-anchor="middle" fill="#333" stroke="#333" stroke-width="0.2">1.0</text>
<text x="194.30" y="368.80" font-size="7.9" text-anchor="middle" font-weight="bold" fill="#222222" stroke="#222222" stroke-width="0.2" textLength="6.40" lengthAdjust="spacingAndGlyphs">Fa</text>
<text x="139.60" y="320.55" font-size="7.6" text-anchor="middle" font-weight="bold" fill="#222222" stroke="#222222" stroke-width="0.2" transform="rotate(-90 139.60 320.55)" textLength="45.00" lengthAdjust="spacingAndGlyphs">Combination index</text>
<path d="M161.80,335.93 L162.62,335.80 L163.43,335.67 L164.25,335.55 L165.06,335.42 L165.88,335.30 L166.69,335.18 L167.51,335.06 L168.32,334.94 L169.14,334.83 L169.95,334.72 L170.77,334.61 L171.58,334.51 L172.40,334.41 L173.21,334.32 L174.03,334.23 L174.84,334.15 L175.66,334.07 L176.47,333.99 L177.29,333.92 L178.10,333.85 L178.92,333.78 L179.73,333.71 L180.55,333.64 L181.36,333.58 L182.18,333.51 L182.99,333.45 L183.81,333.38 L184.63,333.31 L185.44,333.25 L186.26,333.18 L187.07,333.10 L187.89,333.03 L188.70,332.95 L189.52,332.87 L190.33,332.79 L191.15,332.71 L191.96,332.63 L192.78,332.54 L193.59,332.45 L194.41,332.36 L195.22,332.27 L196.04,332.18 L196.85,332.08 L197.67,331.99 L198.48,331.89 L199.30,331.79 L200.11,331.69 L200.93,331.59 L201.74,331.49 L202.56,331.39 L203.37,331.28 L204.19,331.18 L205.01,331.08 L205.82,330.97 L206.64,330.87 L207.45,330.76 L208.27,330.66 L209.08,330.56 L209.90,330.45 L210.71,330.35 L211.53,330.25 L212.34,330.15 L213.16,330.05 L213.97,329.95 L214.79,329.86 L215.60,329.76 L216.42,329.65 L217.23,329.53 L218.05,329.38 L218.86,329.20 L219.68,328.98 L220.49,328.72 L221.31,328.41 L222.12,328.04 L222.94,327.62 L223.75,327.16 L224.57,326.68 L225.38,326.17 L226.20,325.66" fill="none" stroke="#47934f" stroke-width="1.0" stroke-linejoin="round" stroke-linecap="round"/>
<line x1="273.30" y1="322.15" x2="342.60" y2="322.15" stroke="#d6d6d6" stroke-width="1.3"/>
<line x1="272.30" y1="295.50" x2="272.30" y2="347.80" stroke="#3e3e3e" stroke-width="1.6"/>
<line x1="269.70" y1="297.10" x2="272.30" y2="297.10" stroke="#3e3e3e" stroke-width="1.2"/>
<text x="266.40" y="299.70" font-size="6.1" text-anchor="end" fill="#333" stroke="#333" stroke-width="0.2">2.0</text>
<line x1="269.70" y1="309.62" x2="272.30" y2="309.62" stroke="#3e3e3e" stroke-width="1.2"/>
<text x="266.40" y="312.23" font-size="6.1" text-anchor="end" fill="#333" stroke="#333" stroke-width="0.2">1.5</text>
<line x1="269.70" y1="322.15" x2="272.30" y2="322.15" stroke="#3e3e3e" stroke-width="1.2"/>
<text x="266.40" y="324.75" font-size="6.1" text-anchor="end" fill="#333" stroke="#333" stroke-width="0.2">1.0</text>
<line x1="269.70" y1="334.68" x2="272.30" y2="334.68" stroke="#3e3e3e" stroke-width="1.2"/>
<text x="266.40" y="337.28" font-size="6.1" text-anchor="end" fill="#333" stroke="#333" stroke-width="0.2">0.5</text>
<line x1="269.70" y1="347.20" x2="272.30" y2="347.20" stroke="#3e3e3e" stroke-width="1.2"/>
<text x="266.40" y="349.80" font-size="6.1" text-anchor="end" fill="#333" stroke="#333" stroke-width="0.2">0.0</text>
<line x1="271.10" y1="347.20" x2="344.50" y2="347.20" stroke="#3e3e3e" stroke-width="1.7"/>
<line x1="272.30" y1="347.20" x2="272.30" y2="349.20" stroke="#3e3e3e" stroke-width="0.8"/>
<line x1="275.81" y1="347.20" x2="275.81" y2="348.50" stroke="#3e3e3e" stroke-width="0.6"/>
<line x1="279.33" y1="347.20" x2="279.33" y2="348.50" stroke="#3e3e3e" stroke-width="0.6"/>
<line x1="282.85" y1="347.20" x2="282.85" y2="348.50" stroke="#3e3e3e" stroke-width="0.6"/>
<line x1="286.36" y1="347.20" x2="286.36" y2="348.50" stroke="#3e3e3e" stroke-width="0.6"/>
<line x1="289.88" y1="347.20" x2="289.88" y2="348.50" stroke="#3e3e3e" stroke-width="0.6"/>
<line x1="293.39" y1="347.20" x2="293.39" y2="348.50" stroke="#3e3e3e" stroke-width="0.6"/>
<line x1="296.91" y1="347.20" x2="296.91" y2="348.50" stroke="#3e3e3e" stroke-width="0.6"/>
<line x1="300.42" y1="347.20" x2="300.42" y2="348.50" stroke="#3e3e3e" stroke-width="0.6"/>
<line x1="303.94" y1="347.20" x2="303.94" y2="348.50" stroke="#3e3e3e" stroke-width="0.6"/>
<line x1="307.45" y1="347.20" x2="307.45" y2="349.20" stroke="#3e3e3e" stroke-width="0.8"/>
<line x1="310.97" y1="347.20" x2="310.97" y2="348.50" stroke="#3e3e3e" stroke-width="0.6"/>
<line x1="314.48" y1="347.20" x2="314.48" y2="348.50" stroke="#3e3e3e" stroke-width="0.6"/>
<line x1="318.00" y1="347.20" x2="318.00" y2="348.50" stroke="#3e3e3e" stroke-width="0.6"/>
<line x1="321.51" y1="347.20" x2="321.51" y2="348.50" stroke="#3e3e3e" stroke-width="0.6"/>
<line x1="325.02" y1="347.20" x2="325.02" y2="348.50" stroke="#3e3e3e" stroke-width="0.6"/>
<line x1="328.54" y1="347.20" x2="328.54" y2="348.50" stroke="#3e3e3e" stroke-width="0.6"/>
<line x1="332.06" y1="347.20" x2="332.06" y2="348.50" stroke="#3e3e3e" stroke-width="0.6"/>
<line x1="335.57" y1="347.20" x2="335.57" y2="348.50" stroke="#3e3e3e" stroke-width="0.6"/>
<line x1="339.09" y1="347.20" x2="339.09" y2="348.50" stroke="#3e3e3e" stroke-width="0.6"/>
<line x1="342.60" y1="347.20" x2="342.60" y2="349.20" stroke="#3e3e3e" stroke-width="0.8"/>
<text x="272.30" y="358.80" font-size="6.1" text-anchor="middle" fill="#333" stroke="#333" stroke-width="0.2">0.0</text>
<text x="307.45" y="358.80" font-size="6.1" text-anchor="middle" fill="#333" stroke="#333" stroke-width="0.2">0.5</text>
<text x="342.60" y="358.80" font-size="6.1" text-anchor="middle" fill="#333" stroke="#333" stroke-width="0.2">1.0</text>
<text x="308.45" y="368.80" font-size="7.9" text-anchor="middle" font-weight="bold" fill="#222222" stroke="#222222" stroke-width="0.2" textLength="6.40" lengthAdjust="spacingAndGlyphs">Fa</text>
<text x="254.00" y="320.55" font-size="7.6" text-anchor="middle" font-weight="bold" fill="#222222" stroke="#222222" stroke-width="0.2" transform="rotate(-90 254.00 320.55)" textLength="45.00" lengthAdjust="spacingAndGlyphs">Combination index</text>
<path d="M275.81,314.38 L276.63,314.37 L277.45,314.35 L278.27,314.33 L279.09,314.31 L279.91,314.30 L280.73,314.28 L281.55,314.26 L282.36,314.24 L283.18,314.22 L284.00,314.20 L284.82,314.18 L285.64,314.15 L286.46,314.13 L287.28,314.11 L288.10,314.08 L288.91,314.05 L289.73,314.03 L290.55,314.00 L291.37,313.97 L292.19,313.93 L293.01,313.90 L293.83,313.86 L294.64,313.83 L295.46,313.79 L296.28,313.75 L297.10,313.71 L297.92,313.67 L298.74,313.62 L299.56,313.58 L300.38,313.53 L301.19,313.49 L302.01,313.44 L302.83,313.40 L303.65,313.35 L304.47,313.30 L305.29,313.25 L306.11,313.21 L306.92,313.16 L307.74,313.12 L308.56,313.07 L309.38,313.02 L310.20,312.98 L311.02,312.93 L311.84,312.88 L312.66,312.83 L313.47,312.78 L314.29,312.73 L315.11,312.68 L315.93,312.62 L316.75,312.56 L317.57,312.49 L318.39,312.43 L319.21,312.35 L320.02,312.28 L320.84,312.20 L321.66,312.11 L322.48,312.02 L323.30,311.93 L324.12,311.82 L324.94,311.72 L325.75,311.60 L326.57,311.47 L327.39,311.34 L328.21,311.19 L329.03,311.04 L329.85,310.88 L330.67,310.70 L331.49,310.51 L332.30,310.31 L333.12,310.10 L333.94,309.86 L334.76,309.59 L335.58,309.28 L336.40,308.91 L337.22,308.49 L338.03,308.01 L338.85,307.49 L339.67,306.94 L340.49,306.37" fill="none" stroke="#47934f" stroke-width="1.0" stroke-linejoin="round" stroke-linecap="round"/>
<line x1="388.30" y1="322.15" x2="458.00" y2="322.15" stroke="#d6d6d6" stroke-width="1.3"/>
<line x1="387.30" y1="295.50" x2="387.30" y2="347.80" stroke="#3e3e3e" stroke-width="1.6"/>
<line x1="384.70" y1="297.10" x2="387.30" y2="297.10" stroke="#3e3e3e" stroke-width="1.2"/>
<text x="381.40" y="299.70" font-size="6.1" text-anchor="end" fill="#333" stroke="#333" stroke-width="0.2">2.0</text>
<line x1="384.70" y1="309.62" x2="387.30" y2="309.62" stroke="#3e3e3e" stroke-width="1.2"/>
<text x="381.40" y="312.23" font-size="6.1" text-anchor="end" fill="#333" stroke="#333" stroke-width="0.2">1.5</text>
<line x1="384.70" y1="322.15" x2="387.30" y2="322.15" stroke="#3e3e3e" stroke-width="1.2"/>
<text x="381.40" y="324.75" font-size="6.1" text-anchor="end" fill="#333" stroke="#333" stroke-width="0.2">1.0</text>
<line x1="384.70" y1="334.68" x2="387.30" y2="334.68" stroke="#3e3e3e" stroke-width="1.2"/>
<text x="381.40" y="337.28" font-size="6.1" text-anchor="end" fill="#333" stroke="#333" stroke-width="0.2">0.5</text>
<line x1="384.70" y1="347.20" x2="387.30" y2="347.20" stroke="#3e3e3e" stroke-width="1.2"/>
<text x="381.40" y="349.80" font-size="6.1" text-anchor="end" fill="#333" stroke="#333" stroke-width="0.2">0.0</text>
<line x1="386.10" y1="347.20" x2="460.00" y2="347.20" stroke="#3e3e3e" stroke-width="1.7"/>
<line x1="387.30" y1="347.20" x2="387.30" y2="349.20" stroke="#3e3e3e" stroke-width="0.8"/>
<line x1="390.84" y1="347.20" x2="390.84" y2="348.50" stroke="#3e3e3e" stroke-width="0.6"/>
<line x1="394.37" y1="347.20" x2="394.37" y2="348.50" stroke="#3e3e3e" stroke-width="0.6"/>
<line x1="397.91" y1="347.20" x2="397.91" y2="348.50" stroke="#3e3e3e" stroke-width="0.6"/>
<line x1="401.44" y1="347.20" x2="401.44" y2="348.50" stroke="#3e3e3e" stroke-width="0.6"/>
<line x1="404.98" y1="347.20" x2="404.98" y2="348.50" stroke="#3e3e3e" stroke-width="0.6"/>
<line x1="408.51" y1="347.20" x2="408.51" y2="348.50" stroke="#3e3e3e" stroke-width="0.6"/>
<line x1="412.05" y1="347.20" x2="412.05" y2="348.50" stroke="#3e3e3e" stroke-width="0.6"/>
<line x1="415.58" y1="347.20" x2="415.58" y2="348.50" stroke="#3e3e3e" stroke-width="0.6"/>
<line x1="419.12" y1="347.20" x2="419.12" y2="348.50" stroke="#3e3e3e" stroke-width="0.6"/>
<line x1="422.65" y1="347.20" x2="422.65" y2="349.20" stroke="#3e3e3e" stroke-width="0.8"/>
<line x1="426.19" y1="347.20" x2="426.19" y2="348.50" stroke="#3e3e3e" stroke-width="0.6"/>
<line x1="429.72" y1="347.20" x2="429.72" y2="348.50" stroke="#3e3e3e" stroke-width="0.6"/>
<line x1="433.25" y1="347.20" x2="433.25" y2="348.50" stroke="#3e3e3e" stroke-width="0.6"/>
<line x1="436.79" y1="347.20" x2="436.79" y2="348.50" stroke="#3e3e3e" stroke-width="0.6"/>
<line x1="440.33" y1="347.20" x2="440.33" y2="348.50" stroke="#3e3e3e" stroke-width="0.6"/>
<line x1="443.86" y1="347.20" x2="443.86" y2="348.50" stroke="#3e3e3e" stroke-width="0.6"/>
<line x1="447.40" y1="347.20" x2="447.40" y2="348.50" stroke="#3e3e3e" stroke-width="0.6"/>
<line x1="450.93" y1="347.20" x2="450.93" y2="348.50" stroke="#3e3e3e" stroke-width="0.6"/>
<line x1="454.47" y1="347.20" x2="454.47" y2="348.50" stroke="#3e3e3e" stroke-width="0.6"/>
<line x1="458.00" y1="347.20" x2="458.00" y2="349.20" stroke="#3e3e3e" stroke-width="0.8"/>
<text x="387.30" y="358.80" font-size="6.1" text-anchor="middle" fill="#333" stroke="#333" stroke-width="0.2">0.0</text>
<text x="422.65" y="358.80" font-size="6.1" text-anchor="middle" fill="#333" stroke="#333" stroke-width="0.2">0.5</text>
<text x="458.00" y="358.80" font-size="6.1" text-anchor="middle" fill="#333" stroke="#333" stroke-width="0.2">1.0</text>
<text x="423.65" y="368.80" font-size="7.9" text-anchor="middle" font-weight="bold" fill="#222222" stroke="#222222" stroke-width="0.2" textLength="6.40" lengthAdjust="spacingAndGlyphs">Fa</text>
<text x="368.50" y="320.55" font-size="7.6" text-anchor="middle" font-weight="bold" fill="#222222" stroke="#222222" stroke-width="0.2" transform="rotate(-90 368.50 320.55)" textLength="45.00" lengthAdjust="spacingAndGlyphs">Combination index</text>
<path d="M419.33,292.59 L419.79,293.11 L420.26,293.62 L420.72,294.14 L421.18,294.66 L421.65,295.17 L422.11,295.69 L422.58,296.20 L423.04,296.71 L423.51,297.23 L423.97,297.74 L424.44,298.25 L424.90,298.76 L425.37,299.27 L425.83,299.78 L426.29,300.28 L426.76,300.79 L427.22,301.29 L427.69,301.79 L428.15,302.29 L428.62,302.79 L429.08,303.29 L429.55,303.78 L430.01,304.28 L430.47,304.77 L430.94,305.25 L431.40,305.74 L431.87,306.22 L432.33,306.70 L432.80,307.18 L433.26,307.65 L433.73,308.12 L434.19,308.59 L434.65,309.06 L435.12,309.52 L435.58,309.98 L436.05,310.43 L436.51,310.88 L436.98,311.33 L437.44,311.77 L437.91,312.22 L438.37,312.66 L438.83,313.10 L439.30,313.54 L439.76,313.97 L440.23,314.42 L440.69,314.86 L441.16,315.30 L441.62,315.75 L442.09,316.21 L442.55,316.66 L443.02,317.13 L443.48,317.60 L443.94,318.07 L444.41,318.56 L444.87,319.05 L445.34,319.55 L445.80,320.06 L446.27,320.59 L446.73,321.12 L447.20,321.66 L447.66,322.22 L448.12,322.79 L448.59,323.37 L449.05,323.97 L449.52,324.57 L449.98,325.19 L450.45,325.82 L450.91,326.46 L451.38,327.12 L451.84,327.78 L452.30,328.46 L452.77,329.15 L453.23,329.85 L453.70,330.55 L454.16,331.27 L454.63,331.99 L455.09,332.72 L455.56,333.44 L456.02,334.17" fill="none" stroke="#47934f" stroke-width="1.0" stroke-linejoin="round" stroke-linecap="round"/>
<text x="214.40" y="406.20" font-size="7.9" text-anchor="middle" font-weight="bold" fill="#000" stroke="#000" stroke-width="0.12">MOLM-14</text>
<line x1="49.20" y1="417.20" x2="49.20" y2="484.60" stroke="#3e3e3e" stroke-width="1.6"/>
<line x1="46.20" y1="419.00" x2="49.20" y2="419.00" stroke="#3e3e3e" stroke-width="1.2"/>
<text x="42.80" y="421.61" font-size="6.0" text-anchor="end" fill="#333" stroke="#333" stroke-width="0.2">150</text>
<line x1="46.20" y1="440.67" x2="49.20" y2="440.67" stroke="#3e3e3e" stroke-width="1.2"/>
<text x="42.80" y="443.27" font-size="6.0" text-anchor="end" fill="#333" stroke="#333" stroke-width="0.2">100</text>
<line x1="46.20" y1="462.33" x2="49.20" y2="462.33" stroke="#3e3e3e" stroke-width="1.2"/>
<text x="42.80" y="464.94" font-size="6.0" text-anchor="end" fill="#333" stroke="#333" stroke-width="0.2">50</text>
<line x1="46.20" y1="484.00" x2="49.20" y2="484.00" stroke="#3e3e3e" stroke-width="1.2"/>
<text x="42.80" y="486.60" font-size="6.0" text-anchor="end" fill="#333" stroke="#333" stroke-width="0.2">0</text>
<line x1="48.00" y1="484.00" x2="125.20" y2="484.00" stroke="#3e3e3e" stroke-width="1.7"/>
<line x1="55.00" y1="484.00" x2="55.00" y2="486.00" stroke="#3e3e3e" stroke-width="0.9"/>
<line x1="64.20" y1="484.00" x2="64.20" y2="486.00" stroke="#3e3e3e" stroke-width="0.9"/>
<line x1="73.40" y1="484.00" x2="73.40" y2="486.00" stroke="#3e3e3e" stroke-width="0.9"/>
<line x1="82.60" y1="484.00" x2="82.60" y2="486.00" stroke="#3e3e3e" stroke-width="0.9"/>
<line x1="91.80" y1="484.00" x2="91.80" y2="486.00" stroke="#3e3e3e" stroke-width="0.9"/>
<line x1="101.00" y1="484.00" x2="101.00" y2="486.00" stroke="#3e3e3e" stroke-width="0.9"/>
<line x1="110.20" y1="484.00" x2="110.20" y2="486.00" stroke="#3e3e3e" stroke-width="0.9"/>
<line x1="119.40" y1="484.00" x2="119.40" y2="486.00" stroke="#3e3e3e" stroke-width="0.9"/>
<text x="24.50" y="450.40" font-size="7.2" text-anchor="middle" font-weight="bold" fill="#222222" stroke="#222222" stroke-width="0.2" transform="rotate(-90 24.50 450.40)" textLength="39.00" lengthAdjust="spacingAndGlyphs">Viable cells (%)</text>
<path d="M55.00,440.67 L64.20,446.52 L73.40,452.80 L82.60,465.80 L91.80,478.80 L101.00,483.13 L110.20,483.35 L119.40,483.35" fill="none" stroke="#745490" stroke-width="0.9" stroke-linejoin="round" stroke-linecap="round"/>
<circle cx="55.00" cy="440.67" r="0.95" fill="#3a2848"/>
<line x1="64.20" y1="443.05" x2="64.20" y2="449.99" stroke="#745490" stroke-width="0.7"/>
<line x1="63.30" y1="443.05" x2="65.10" y2="443.05" stroke="#745490" stroke-width="0.6"/>
<line x1="63.30" y1="449.99" x2="65.10" y2="449.99" stroke="#745490" stroke-width="0.6"/>
<circle cx="64.20" cy="446.52" r="0.95" fill="#3a2848"/>
<line x1="73.40" y1="451.07" x2="73.40" y2="454.54" stroke="#745490" stroke-width="0.7"/>
<line x1="72.50" y1="451.07" x2="74.30" y2="451.07" stroke="#745490" stroke-width="0.6"/>
<line x1="72.50" y1="454.54" x2="74.30" y2="454.54" stroke="#745490" stroke-width="0.6"/>
<circle cx="73.40" cy="452.80" r="0.95" fill="#3a2848"/>
<line x1="82.60" y1="464.50" x2="82.60" y2="467.10" stroke="#745490" stroke-width="0.7"/>
<line x1="81.70" y1="464.50" x2="83.50" y2="464.50" stroke="#745490" stroke-width="0.6"/>
<line x1="81.70" y1="467.10" x2="83.50" y2="467.10" stroke="#745490" stroke-width="0.6"/>
<circle cx="82.60" cy="465.80" r="0.95" fill="#3a2848"/>
<line x1="91.80" y1="477.93" x2="91.80" y2="479.67" stroke="#745490" stroke-width="0.7"/>
<line x1="90.90" y1="477.93" x2="92.70" y2="477.93" stroke="#745490" stroke-width="0.6"/>
<line x1="90.90" y1="479.67" x2="92.70" y2="479.67" stroke="#745490" stroke-width="0.6"/>
<circle cx="91.80" cy="478.80" r="0.95" fill="#3a2848"/>
<circle cx="101.00" cy="483.13" r="0.95" fill="#3a2848"/>
<circle cx="110.20" cy="483.35" r="0.95" fill="#3a2848"/>
<circle cx="119.40" cy="483.35" r="0.95" fill="#3a2848"/>
<path d="M55.00,440.67 L64.20,440.67 L73.40,449.34 L82.60,451.94 L91.80,458.00 L101.00,465.19 L110.20,472.52 L119.40,481.49" fill="none" stroke="#b5244a" stroke-width="1.0" stroke-linejoin="round" stroke-linecap="round"/>
<circle cx="55.00" cy="440.67" r="0.95" fill="#921436"/>
<line x1="64.20" y1="438.94" x2="64.20" y2="442.40" stroke="#b5244a" stroke-width="0.7"/>
<line x1="63.30" y1="438.94" x2="65.10" y2="438.94" stroke="#b5244a" stroke-width="0.6"/>
<line x1="63.30" y1="442.40" x2="65.10" y2="442.40" stroke="#b5244a" stroke-width="0.6"/>
<circle cx="64.20" cy="440.67" r="0.95" fill="#921436"/>
<line x1="73.40" y1="447.60" x2="73.40" y2="451.07" stroke="#b5244a" stroke-width="0.7"/>
<line x1="72.50" y1="447.60" x2="74.30" y2="447.60" stroke="#b5244a" stroke-width="0.6"/>
<line x1="72.50" y1="451.07" x2="74.30" y2="451.07" stroke="#b5244a" stroke-width="0.6"/>
<circle cx="73.40" cy="449.34" r="0.95" fill="#921436"/>
<line x1="82.60" y1="451.07" x2="82.60" y2="452.80" stroke="#b5244a" stroke-width="0.7"/>
<line x1="81.70" y1="451.07" x2="83.50" y2="451.07" stroke="#b5244a" stroke-width="0.6"/>
<line x1="81.70" y1="452.80" x2="83.50" y2="452.80" stroke="#b5244a" stroke-width="0.6"/>
<circle cx="82.60" cy="451.94" r="0.95" fill="#921436"/>
<line x1="91.80" y1="456.70" x2="91.80" y2="459.30" stroke="#b5244a" stroke-width="0.7"/>
<line x1="90.90" y1="456.70" x2="92.70" y2="456.70" stroke="#b5244a" stroke-width="0.6"/>
<line x1="90.90" y1="459.30" x2="92.70" y2="459.30" stroke="#b5244a" stroke-width="0.6"/>
<circle cx="91.80" cy="458.00" r="0.95" fill="#921436"/>
<line x1="101.00" y1="464.33" x2="101.00" y2="466.06" stroke="#b5244a" stroke-width="0.7"/>
<line x1="100.10" y1="464.33" x2="101.90" y2="464.33" stroke="#b5244a" stroke-width="0.6"/>
<line x1="100.10" y1="466.06" x2="101.90" y2="466.06" stroke="#b5244a" stroke-width="0.6"/>
<circle cx="101.00" cy="465.19" r="0.95" fill="#921436"/>
<line x1="110.20" y1="471.65" x2="110.20" y2="473.38" stroke="#b5244a" stroke-width="0.7"/>
<line x1="109.30" y1="471.65" x2="111.10" y2="471.65" stroke="#b5244a" stroke-width="0.6"/>
<line x1="109.30" y1="473.38" x2="111.10" y2="473.38" stroke="#b5244a" stroke-width="0.6"/>
<circle cx="110.20" cy="472.52" r="0.95" fill="#921436"/>
<line x1="119.40" y1="480.62" x2="119.40" y2="482.35" stroke="#b5244a" stroke-width="0.7"/>
<line x1="118.50" y1="480.62" x2="120.30" y2="480.62" stroke="#b5244a" stroke-width="0.6"/>
<line x1="118.50" y1="482.35" x2="120.30" y2="482.35" stroke="#b5244a" stroke-width="0.6"/>
<circle cx="119.40" cy="481.49" r="0.95" fill="#921436"/>
<path d="M55.00,440.67 L64.20,437.64 L73.40,442.84 L82.60,440.41 L91.80,449.34 L101.00,467.10 L110.20,483.13 L119.40,483.35" fill="none" stroke="#205680" stroke-width="1.0" stroke-linejoin="round" stroke-linecap="round"/>
<circle cx="55.00" cy="440.67" r="0.95" fill="#163c5e"/>
<line x1="64.20" y1="435.04" x2="64.20" y2="440.24" stroke="#205680" stroke-width="0.7"/>
<line x1="63.30" y1="435.04" x2="65.10" y2="435.04" stroke="#205680" stroke-width="0.6"/>
<line x1="63.30" y1="440.24" x2="65.10" y2="440.24" stroke="#205680" stroke-width="0.6"/>
<circle cx="64.20" cy="437.64" r="0.95" fill="#163c5e"/>
<line x1="73.40" y1="440.67" x2="73.40" y2="445.00" stroke="#205680" stroke-width="0.7"/>
<line x1="72.50" y1="440.67" x2="74.30" y2="440.67" stroke="#205680" stroke-width="0.6"/>
<line x1="72.50" y1="445.00" x2="74.30" y2="445.00" stroke="#205680" stroke-width="0.6"/>
<circle cx="73.40" cy="442.84" r="0.95" fill="#163c5e"/>
<line x1="82.60" y1="438.68" x2="82.60" y2="442.14" stroke="#205680" stroke-width="0.7"/>
<line x1="81.70" y1="438.68" x2="83.50" y2="438.68" stroke="#205680" stroke-width="0.6"/>
<line x1="81.70" y1="442.14" x2="83.50" y2="442.14" stroke="#205680" stroke-width="0.6"/>
<circle cx="82.60" cy="440.41" r="0.95" fill="#163c5e"/>
<line x1="91.80" y1="448.47" x2="91.80" y2="450.20" stroke="#205680" stroke-width="0.7"/>
<line x1="90.90" y1="448.47" x2="92.70" y2="448.47" stroke="#205680" stroke-width="0.6"/>
<line x1="90.90" y1="450.20" x2="92.70" y2="450.20" stroke="#205680" stroke-width="0.6"/>
<circle cx="91.80" cy="449.34" r="0.95" fill="#163c5e"/>
<line x1="101.00" y1="466.23" x2="101.00" y2="467.97" stroke="#205680" stroke-width="0.7"/>
<line x1="100.10" y1="466.23" x2="101.90" y2="466.23" stroke="#205680" stroke-width="0.6"/>
<line x1="100.10" y1="467.97" x2="101.90" y2="467.97" stroke="#205680" stroke-width="0.6"/>
<circle cx="101.00" cy="467.10" r="0.95" fill="#163c5e"/>
<line x1="110.20" y1="482.70" x2="110.20" y2="483.57" stroke="#205680" stroke-width="0.7"/>
<line x1="109.30" y1="482.70" x2="111.10" y2="482.70" stroke="#205680" stroke-width="0.6"/>
<line x1="109.30" y1="483.57" x2="111.10" y2="483.57" stroke="#205680" stroke-width="0.6"/>
<circle cx="110.20" cy="483.13" r="0.95" fill="#163c5e"/>
<circle cx="119.40" cy="483.35" r="0.95" fill="#163c5e"/>
<text x="39.60" y="494.60" font-size="6.0" text-anchor="start" fill="#222222" stroke="#222222" stroke-width="0.2">Aza</text>
<text x="39.60" y="504.20" font-size="6.0" text-anchor="start" fill="#222222" stroke="#222222" stroke-width="0.2">TAK</text>
<text x="55.00" y="494.60" font-size="6.0" text-anchor="middle" fill="#222222" stroke="#222222" stroke-width="0.2">0</text>
<text x="63.90" y="494.60" font-size="6.0" text-anchor="middle" fill="#222222" stroke="#222222" stroke-width="0.2">0.13</text>
<text x="83.00" y="494.60" font-size="6.0" text-anchor="middle" fill="#222222" stroke="#222222" stroke-width="0.2">0.5</text>
<text x="101.00" y="494.60" font-size="6.0" text-anchor="middle" fill="#222222" stroke="#222222" stroke-width="0.2">2</text>
<text x="118.60" y="494.60" font-size="6.0" text-anchor="middle" fill="#222222" stroke="#222222" stroke-width="0.2">8</text>
<text x="55.00" y="504.20" font-size="6.0" text-anchor="middle" fill="#222222" stroke="#222222" stroke-width="0.2">0</text>
<text x="63.70" y="504.20" font-size="6.0" text-anchor="middle" fill="#222222" stroke="#222222" stroke-width="0.2">3.13</text>
<text x="82.40" y="504.20" font-size="6.0" text-anchor="middle" fill="#222222" stroke="#222222" stroke-width="0.2">12.5</text>
<text x="101.00" y="504.20" font-size="6.0" text-anchor="middle" fill="#222222" stroke="#222222" stroke-width="0.2">50</text>
<text x="118.20" y="504.20" font-size="6.0" text-anchor="middle" fill="#222222" stroke="#222222" stroke-width="0.2">200</text>
<text x="126.20" y="494.60" font-size="6.0" text-anchor="start" fill="#222222" stroke="#222222" stroke-width="0.2">(µM)</text>
<text x="126.20" y="504.20" font-size="6.0" text-anchor="start" fill="#222222" stroke="#222222" stroke-width="0.2">(nM)</text>
<line x1="93.80" y1="418.60" x2="100.00" y2="418.60" stroke="#b5244a" stroke-width="1.3"/>
<circle cx="96.90" cy="418.60" r="1.25" fill="#921436"/>
<text x="103.10" y="420.60" font-size="5.8" text-anchor="start" fill="#222222" stroke="#222222" stroke-width="0.2">Azacitidine</text>
<line x1="93.80" y1="428.20" x2="100.00" y2="428.20" stroke="#245a6a" stroke-width="1.3"/>
<circle cx="96.90" cy="428.20" r="1.25" fill="#163e4c"/>
<text x="103.10" y="430.20" font-size="5.8" text-anchor="start" fill="#222222" stroke="#222222" stroke-width="0.2">TAK-981</text>
<line x1="93.80" y1="437.80" x2="100.00" y2="437.80" stroke="#745490" stroke-width="1.3"/>
<circle cx="96.90" cy="437.80" r="1.25" fill="#3a2848"/>
<text x="103.10" y="439.80" font-size="5.8" text-anchor="start" fill="#222222" stroke="#222222" stroke-width="0.2">Combination</text>
<line x1="181.80" y1="417.20" x2="181.80" y2="484.60" stroke="#3e3e3e" stroke-width="1.6"/>
<line x1="178.80" y1="419.00" x2="181.80" y2="419.00" stroke="#3e3e3e" stroke-width="1.2"/>
<text x="175.40" y="421.61" font-size="6.0" text-anchor="end" fill="#333" stroke="#333" stroke-width="0.2">150</text>
<line x1="178.80" y1="440.67" x2="181.80" y2="440.67" stroke="#3e3e3e" stroke-width="1.2"/>
<text x="175.40" y="443.27" font-size="6.0" text-anchor="end" fill="#333" stroke="#333" stroke-width="0.2">100</text>
<line x1="178.80" y1="462.33" x2="181.80" y2="462.33" stroke="#3e3e3e" stroke-width="1.2"/>
<text x="175.40" y="464.94" font-size="6.0" text-anchor="end" fill="#333" stroke="#333" stroke-width="0.2">50</text>
<line x1="178.80" y1="484.00" x2="181.80" y2="484.00" stroke="#3e3e3e" stroke-width="1.2"/>
<text x="175.40" y="486.60" font-size="6.0" text-anchor="end" fill="#333" stroke="#333" stroke-width="0.2">0</text>
<line x1="180.60" y1="484.00" x2="256.30" y2="484.00" stroke="#3e3e3e" stroke-width="1.7"/>
<line x1="189.60" y1="484.00" x2="189.60" y2="486.00" stroke="#3e3e3e" stroke-width="0.9"/>
<line x1="200.00" y1="484.00" x2="200.00" y2="486.00" stroke="#3e3e3e" stroke-width="0.9"/>
<line x1="210.40" y1="484.00" x2="210.40" y2="486.00" stroke="#3e3e3e" stroke-width="0.9"/>
<line x1="220.80" y1="484.00" x2="220.80" y2="486.00" stroke="#3e3e3e" stroke-width="0.9"/>
<line x1="231.20" y1="484.00" x2="231.20" y2="486.00" stroke="#3e3e3e" stroke-width="0.9"/>
<line x1="241.60" y1="484.00" x2="241.60" y2="486.00" stroke="#3e3e3e" stroke-width="0.9"/>
<line x1="252.00" y1="484.00" x2="252.00" y2="486.00" stroke="#3e3e3e" stroke-width="0.9"/>
<text x="157.80" y="450.30" font-size="7.2" text-anchor="middle" font-weight="bold" fill="#222222" stroke="#222222" stroke-width="0.2" transform="rotate(-90 157.80 450.30)" textLength="39.00" lengthAdjust="spacingAndGlyphs">Viable cells (%)</text>
<path d="M189.60,440.67 L200.00,451.29 L210.40,458.22 L220.80,471.30 L231.20,477.28 L241.60,478.11 L252.00,479.80" fill="none" stroke="#745490" stroke-width="0.9" stroke-linejoin="round" stroke-linecap="round"/>
<circle cx="189.60" cy="440.67" r="0.95" fill="#3a2848"/>
<line x1="200.00" y1="448.69" x2="200.00" y2="453.89" stroke="#745490" stroke-width="0.7"/>
<line x1="199.10" y1="448.69" x2="200.90" y2="448.69" stroke="#745490" stroke-width="0.6"/>
<line x1="199.10" y1="453.89" x2="200.90" y2="453.89" stroke="#745490" stroke-width="0.6"/>
<circle cx="200.00" cy="451.29" r="0.95" fill="#3a2848"/>
<line x1="210.40" y1="454.75" x2="210.40" y2="461.69" stroke="#745490" stroke-width="0.7"/>
<line x1="209.50" y1="454.75" x2="211.30" y2="454.75" stroke="#745490" stroke-width="0.6"/>
<line x1="209.50" y1="461.69" x2="211.30" y2="461.69" stroke="#745490" stroke-width="0.6"/>
<circle cx="210.40" cy="458.22" r="0.95" fill="#3a2848"/>
<line x1="220.80" y1="469.57" x2="220.80" y2="473.04" stroke="#745490" stroke-width="0.7"/>
<line x1="219.90" y1="469.57" x2="221.70" y2="469.57" stroke="#745490" stroke-width="0.6"/>
<line x1="219.90" y1="473.04" x2="221.70" y2="473.04" stroke="#745490" stroke-width="0.6"/>
<circle cx="220.80" cy="471.30" r="0.95" fill="#3a2848"/>
<line x1="231.20" y1="476.42" x2="231.20" y2="478.15" stroke="#745490" stroke-width="0.7"/>
<line x1="230.30" y1="476.42" x2="232.10" y2="476.42" stroke="#745490" stroke-width="0.6"/>
<line x1="230.30" y1="478.15" x2="232.10" y2="478.15" stroke="#745490" stroke-width="0.6"/>
<circle cx="231.20" cy="477.28" r="0.95" fill="#3a2848"/>
<line x1="241.60" y1="477.67" x2="241.60" y2="478.54" stroke="#745490" stroke-width="0.7"/>
<line x1="240.70" y1="477.67" x2="242.50" y2="477.67" stroke="#745490" stroke-width="0.6"/>
<line x1="240.70" y1="478.54" x2="242.50" y2="478.54" stroke="#745490" stroke-width="0.6"/>
<circle cx="241.60" cy="478.11" r="0.95" fill="#3a2848"/>
<line x1="252.00" y1="479.36" x2="252.00" y2="480.23" stroke="#745490" stroke-width="0.7"/>
<line x1="251.10" y1="479.36" x2="252.90" y2="479.36" stroke="#745490" stroke-width="0.6"/>
<line x1="251.10" y1="480.23" x2="252.90" y2="480.23" stroke="#745490" stroke-width="0.6"/>
<circle cx="252.00" cy="479.80" r="0.95" fill="#3a2848"/>
<path d="M189.60,440.67 L200.00,452.37 L210.40,453.41 L220.80,455.49 L231.20,460.30 L241.60,464.59 L252.00,469.18" fill="none" stroke="#b5244a" stroke-width="1.0" stroke-linejoin="round" stroke-linecap="round"/>
<circle cx="189.60" cy="440.67" r="0.95" fill="#921436"/>
<line x1="200.00" y1="450.20" x2="200.00" y2="454.54" stroke="#b5244a" stroke-width="0.7"/>
<line x1="199.10" y1="450.20" x2="200.90" y2="450.20" stroke="#b5244a" stroke-width="0.6"/>
<line x1="199.10" y1="454.54" x2="200.90" y2="454.54" stroke="#b5244a" stroke-width="0.6"/>
<circle cx="200.00" cy="452.37" r="0.95" fill="#921436"/>
<line x1="210.40" y1="450.81" x2="210.40" y2="456.01" stroke="#b5244a" stroke-width="0.7"/>
<line x1="209.50" y1="450.81" x2="211.30" y2="450.81" stroke="#b5244a" stroke-width="0.6"/>
<line x1="209.50" y1="456.01" x2="211.30" y2="456.01" stroke="#b5244a" stroke-width="0.6"/>
<circle cx="210.40" cy="453.41" r="0.95" fill="#921436"/>
<line x1="220.80" y1="452.89" x2="220.80" y2="458.09" stroke="#b5244a" stroke-width="0.7"/>
<line x1="219.90" y1="452.89" x2="221.70" y2="452.89" stroke="#b5244a" stroke-width="0.6"/>
<line x1="219.90" y1="458.09" x2="221.70" y2="458.09" stroke="#b5244a" stroke-width="0.6"/>
<circle cx="220.80" cy="455.49" r="0.95" fill="#921436"/>
<line x1="231.20" y1="459.43" x2="231.20" y2="461.17" stroke="#b5244a" stroke-width="0.7"/>
<line x1="230.30" y1="459.43" x2="232.10" y2="459.43" stroke="#b5244a" stroke-width="0.6"/>
<line x1="230.30" y1="461.17" x2="232.10" y2="461.17" stroke="#b5244a" stroke-width="0.6"/>
<circle cx="231.20" cy="460.30" r="0.95" fill="#921436"/>
<line x1="241.60" y1="463.72" x2="241.60" y2="465.45" stroke="#b5244a" stroke-width="0.7"/>
<line x1="240.70" y1="463.72" x2="242.50" y2="463.72" stroke="#b5244a" stroke-width="0.6"/>
<line x1="240.70" y1="465.45" x2="242.50" y2="465.45" stroke="#b5244a" stroke-width="0.6"/>
<circle cx="241.60" cy="464.59" r="0.95" fill="#921436"/>
<line x1="252.00" y1="468.31" x2="252.00" y2="470.05" stroke="#b5244a" stroke-width="0.7"/>
<line x1="251.10" y1="468.31" x2="252.90" y2="468.31" stroke="#b5244a" stroke-width="0.6"/>
<line x1="251.10" y1="470.05" x2="252.90" y2="470.05" stroke="#b5244a" stroke-width="0.6"/>
<circle cx="252.00" cy="469.18" r="0.95" fill="#921436"/>
<path d="M189.60,440.67 L200.00,445.44 L210.40,447.17 L220.80,466.67 L231.20,473.51 L241.60,477.28 L252.00,479.02" fill="none" stroke="#205680" stroke-width="1.0" stroke-linejoin="round" stroke-linecap="round"/>
<circle cx="189.60" cy="440.67" r="0.95" fill="#163c5e"/>
<line x1="200.00" y1="439.37" x2="200.00" y2="451.50" stroke="#205680" stroke-width="0.7"/>
<line x1="199.10" y1="439.37" x2="200.90" y2="439.37" stroke="#205680" stroke-width="0.6"/>
<line x1="199.10" y1="451.50" x2="200.90" y2="451.50" stroke="#205680" stroke-width="0.6"/>
<circle cx="200.00" cy="445.44" r="0.95" fill="#163c5e"/>
<line x1="210.40" y1="443.70" x2="210.40" y2="450.64" stroke="#205680" stroke-width="0.7"/>
<line x1="209.50" y1="443.70" x2="211.30" y2="443.70" stroke="#205680" stroke-width="0.6"/>
<line x1="209.50" y1="450.64" x2="211.30" y2="450.64" stroke="#205680" stroke-width="0.6"/>
<circle cx="210.40" cy="447.17" r="0.95" fill="#163c5e"/>
<line x1="220.80" y1="464.93" x2="220.80" y2="468.40" stroke="#205680" stroke-width="0.7"/>
<line x1="219.90" y1="464.93" x2="221.70" y2="464.93" stroke="#205680" stroke-width="0.6"/>
<line x1="219.90" y1="468.40" x2="221.70" y2="468.40" stroke="#205680" stroke-width="0.6"/>
<circle cx="220.80" cy="466.67" r="0.95" fill="#163c5e"/>
<line x1="231.20" y1="472.65" x2="231.20" y2="474.38" stroke="#205680" stroke-width="0.7"/>
<line x1="230.30" y1="472.65" x2="232.10" y2="472.65" stroke="#205680" stroke-width="0.6"/>
<line x1="230.30" y1="474.38" x2="232.10" y2="474.38" stroke="#205680" stroke-width="0.6"/>
<circle cx="231.20" cy="473.51" r="0.95" fill="#163c5e"/>
<line x1="241.60" y1="476.42" x2="241.60" y2="478.15" stroke="#205680" stroke-width="0.7"/>
<line x1="240.70" y1="476.42" x2="242.50" y2="476.42" stroke="#205680" stroke-width="0.6"/>
<line x1="240.70" y1="478.15" x2="242.50" y2="478.15" stroke="#205680" stroke-width="0.6"/>
<circle cx="241.60" cy="477.28" r="0.95" fill="#163c5e"/>
<line x1="252.00" y1="478.15" x2="252.00" y2="479.88" stroke="#205680" stroke-width="0.7"/>
<line x1="251.10" y1="478.15" x2="252.90" y2="478.15" stroke="#205680" stroke-width="0.6"/>
<line x1="251.10" y1="479.88" x2="252.90" y2="479.88" stroke="#205680" stroke-width="0.6"/>
<circle cx="252.00" cy="479.02" r="0.95" fill="#163c5e"/>
<text x="167.60" y="495.00" font-size="6.0" text-anchor="start" fill="#222222" stroke="#222222" stroke-width="0.2">Qui</text>
<text x="167.60" y="504.30" font-size="6.0" text-anchor="start" fill="#222222" stroke="#222222" stroke-width="0.2">TAK</text>
<text x="189.60" y="495.00" font-size="6.0" text-anchor="middle" fill="#222222" stroke="#222222" stroke-width="0.2">0</text>
<text x="210.10" y="495.00" font-size="6.0" text-anchor="middle" fill="#222222" stroke="#222222" stroke-width="0.2">0.20</text>
<text x="231.10" y="495.00" font-size="6.0" text-anchor="middle" fill="#222222" stroke="#222222" stroke-width="0.2">0.44</text>
<text x="252.00" y="495.00" font-size="6.0" text-anchor="middle" fill="#222222" stroke="#222222" stroke-width="0.2">1</text>
<text x="189.60" y="504.30" font-size="6.0" text-anchor="middle" fill="#222222" stroke="#222222" stroke-width="0.2">0</text>
<text x="210.10" y="504.30" font-size="6.0" text-anchor="middle" fill="#222222" stroke="#222222" stroke-width="0.2">7.9</text>
<text x="231.10" y="504.30" font-size="6.0" text-anchor="middle" fill="#222222" stroke="#222222" stroke-width="0.2">17.8</text>
<text x="252.00" y="504.30" font-size="6.0" text-anchor="middle" fill="#222222" stroke="#222222" stroke-width="0.2">40</text>
<text x="257.70" y="495.00" font-size="6.0" text-anchor="start" fill="#222222" stroke="#222222" stroke-width="0.2">(nM)</text>
<text x="257.70" y="504.30" font-size="6.0" text-anchor="start" fill="#222222" stroke="#222222" stroke-width="0.2">(nM)</text>
<line x1="232.00" y1="418.60" x2="237.60" y2="418.60" stroke="#b5244a" stroke-width="1.3"/>
<circle cx="234.80" cy="418.60" r="1.25" fill="#921436"/>
<text x="238.80" y="420.60" font-size="5.8" text-anchor="start" fill="#222222" stroke="#222222" stroke-width="0.2">Quizartinib</text>
<line x1="232.00" y1="428.20" x2="237.60" y2="428.20" stroke="#245a6a" stroke-width="1.3"/>
<circle cx="234.80" cy="428.20" r="1.25" fill="#163e4c"/>
<text x="238.80" y="430.20" font-size="5.8" text-anchor="start" fill="#222222" stroke="#222222" stroke-width="0.2">TAK-981</text>
<line x1="232.00" y1="437.80" x2="237.60" y2="437.80" stroke="#745490" stroke-width="1.3"/>
<circle cx="234.80" cy="437.80" r="1.25" fill="#3a2848"/>
<text x="238.80" y="439.80" font-size="5.8" text-anchor="start" fill="#222222" stroke="#222222" stroke-width="0.2">Combination</text>
<line x1="313.00" y1="417.10" x2="313.00" y2="484.50" stroke="#3e3e3e" stroke-width="1.6"/>
<line x1="310.00" y1="418.90" x2="313.00" y2="418.90" stroke="#3e3e3e" stroke-width="1.2"/>
<text x="306.60" y="421.50" font-size="6.0" text-anchor="end" fill="#333" stroke="#333" stroke-width="0.2">150</text>
<line x1="310.00" y1="440.57" x2="313.00" y2="440.57" stroke="#3e3e3e" stroke-width="1.2"/>
<text x="306.60" y="443.17" font-size="6.0" text-anchor="end" fill="#333" stroke="#333" stroke-width="0.2">100</text>
<line x1="310.00" y1="462.23" x2="313.00" y2="462.23" stroke="#3e3e3e" stroke-width="1.2"/>
<text x="306.60" y="464.83" font-size="6.0" text-anchor="end" fill="#333" stroke="#333" stroke-width="0.2">50</text>
<line x1="310.00" y1="483.90" x2="313.00" y2="483.90" stroke="#3e3e3e" stroke-width="1.2"/>
<text x="306.60" y="486.50" font-size="6.0" text-anchor="end" fill="#333" stroke="#333" stroke-width="0.2">0</text>
<line x1="311.80" y1="483.90" x2="389.60" y2="483.90" stroke="#3e3e3e" stroke-width="1.7"/>
<line x1="319.70" y1="483.90" x2="319.70" y2="485.90" stroke="#3e3e3e" stroke-width="0.9"/>
<line x1="328.87" y1="483.90" x2="328.87" y2="485.90" stroke="#3e3e3e" stroke-width="0.9"/>
<line x1="338.04" y1="483.90" x2="338.04" y2="485.90" stroke="#3e3e3e" stroke-width="0.9"/>
<line x1="347.21" y1="483.90" x2="347.21" y2="485.90" stroke="#3e3e3e" stroke-width="0.9"/>
<line x1="356.38" y1="483.90" x2="356.38" y2="485.90" stroke="#3e3e3e" stroke-width="0.9"/>
<line x1="365.55" y1="483.90" x2="365.55" y2="485.90" stroke="#3e3e3e" stroke-width="0.9"/>
<line x1="374.72" y1="483.90" x2="374.72" y2="485.90" stroke="#3e3e3e" stroke-width="0.9"/>
<line x1="383.89" y1="483.90" x2="383.89" y2="485.90" stroke="#3e3e3e" stroke-width="0.9"/>
<text x="291.60" y="450.50" font-size="7.2" text-anchor="middle" font-weight="bold" fill="#222222" stroke="#222222" stroke-width="0.2" transform="rotate(-90 291.60 450.50)" textLength="39.00" lengthAdjust="spacingAndGlyphs">Viable cells (%)</text>
<path d="M319.70,440.57 L328.87,449.67 L338.04,455.00 L347.21,464.18 L356.38,477.40 L365.55,481.99 L374.72,483.38 L383.89,483.38" fill="none" stroke="#745490" stroke-width="0.9" stroke-linejoin="round" stroke-linecap="round"/>
<circle cx="319.70" cy="440.57" r="0.95" fill="#3a2848"/>
<line x1="328.87" y1="448.37" x2="328.87" y2="450.97" stroke="#745490" stroke-width="0.7"/>
<line x1="327.97" y1="448.37" x2="329.77" y2="448.37" stroke="#745490" stroke-width="0.6"/>
<line x1="327.97" y1="450.97" x2="329.77" y2="450.97" stroke="#745490" stroke-width="0.6"/>
<circle cx="328.87" cy="449.67" r="0.95" fill="#3a2848"/>
<line x1="338.04" y1="453.70" x2="338.04" y2="456.30" stroke="#745490" stroke-width="0.7"/>
<line x1="337.14" y1="453.70" x2="338.94" y2="453.70" stroke="#745490" stroke-width="0.6"/>
<line x1="337.14" y1="456.30" x2="338.94" y2="456.30" stroke="#745490" stroke-width="0.6"/>
<circle cx="338.04" cy="455.00" r="0.95" fill="#3a2848"/>
<line x1="347.21" y1="462.88" x2="347.21" y2="465.48" stroke="#745490" stroke-width="0.7"/>
<line x1="346.31" y1="462.88" x2="348.11" y2="462.88" stroke="#745490" stroke-width="0.6"/>
<line x1="346.31" y1="465.48" x2="348.11" y2="465.48" stroke="#745490" stroke-width="0.6"/>
<circle cx="347.21" cy="464.18" r="0.95" fill="#3a2848"/>
<line x1="356.38" y1="476.53" x2="356.38" y2="478.27" stroke="#745490" stroke-width="0.7"/>
<line x1="355.48" y1="476.53" x2="357.28" y2="476.53" stroke="#745490" stroke-width="0.6"/>
<line x1="355.48" y1="478.27" x2="357.28" y2="478.27" stroke="#745490" stroke-width="0.6"/>
<circle cx="356.38" cy="477.40" r="0.95" fill="#3a2848"/>
<line x1="365.55" y1="481.56" x2="365.55" y2="482.43" stroke="#745490" stroke-width="0.7"/>
<line x1="364.65" y1="481.56" x2="366.45" y2="481.56" stroke="#745490" stroke-width="0.6"/>
<line x1="364.65" y1="482.43" x2="366.45" y2="482.43" stroke="#745490" stroke-width="0.6"/>
<circle cx="365.55" cy="481.99" r="0.95" fill="#3a2848"/>
<circle cx="374.72" cy="483.38" r="0.95" fill="#3a2848"/>
<circle cx="383.89" cy="483.38" r="0.95" fill="#3a2848"/>
<path d="M319.70,440.57 L328.87,451.10 L338.04,456.17 L347.21,465.92 L356.38,471.20 L365.55,475.80 L374.72,478.79 L383.89,479.91" fill="none" stroke="#b5244a" stroke-width="1.0" stroke-linejoin="round" stroke-linecap="round"/>
<circle cx="319.70" cy="440.57" r="0.95" fill="#921436"/>
<line x1="328.87" y1="448.93" x2="328.87" y2="453.27" stroke="#b5244a" stroke-width="0.7"/>
<line x1="327.97" y1="448.93" x2="329.77" y2="448.93" stroke="#b5244a" stroke-width="0.6"/>
<line x1="327.97" y1="453.27" x2="329.77" y2="453.27" stroke="#b5244a" stroke-width="0.6"/>
<circle cx="328.87" cy="451.10" r="0.95" fill="#921436"/>
<line x1="338.04" y1="454.44" x2="338.04" y2="457.90" stroke="#b5244a" stroke-width="0.7"/>
<line x1="337.14" y1="454.44" x2="338.94" y2="454.44" stroke="#b5244a" stroke-width="0.6"/>
<line x1="337.14" y1="457.90" x2="338.94" y2="457.90" stroke="#b5244a" stroke-width="0.6"/>
<circle cx="338.04" cy="456.17" r="0.95" fill="#921436"/>
<line x1="347.21" y1="464.18" x2="347.21" y2="467.65" stroke="#b5244a" stroke-width="0.7"/>
<line x1="346.31" y1="464.18" x2="348.11" y2="464.18" stroke="#b5244a" stroke-width="0.6"/>
<line x1="346.31" y1="467.65" x2="348.11" y2="467.65" stroke="#b5244a" stroke-width="0.6"/>
<circle cx="347.21" cy="465.92" r="0.95" fill="#921436"/>
<line x1="356.38" y1="469.90" x2="356.38" y2="472.50" stroke="#b5244a" stroke-width="0.7"/>
<line x1="355.48" y1="469.90" x2="357.28" y2="469.90" stroke="#b5244a" stroke-width="0.6"/>
<line x1="355.48" y1="472.50" x2="357.28" y2="472.50" stroke="#b5244a" stroke-width="0.6"/>
<circle cx="356.38" cy="471.20" r="0.95" fill="#921436"/>
<line x1="365.55" y1="474.93" x2="365.55" y2="476.66" stroke="#b5244a" stroke-width="0.7"/>
<line x1="364.65" y1="474.93" x2="366.45" y2="474.93" stroke="#b5244a" stroke-width="0.6"/>
<line x1="364.65" y1="476.66" x2="366.45" y2="476.66" stroke="#b5244a" stroke-width="0.6"/>
<circle cx="365.55" cy="475.80" r="0.95" fill="#921436"/>
<line x1="374.72" y1="477.92" x2="374.72" y2="479.65" stroke="#b5244a" stroke-width="0.7"/>
<line x1="373.82" y1="477.92" x2="375.62" y2="477.92" stroke="#b5244a" stroke-width="0.6"/>
<line x1="373.82" y1="479.65" x2="375.62" y2="479.65" stroke="#b5244a" stroke-width="0.6"/>
<circle cx="374.72" cy="478.79" r="0.95" fill="#921436"/>
<line x1="383.89" y1="479.05" x2="383.89" y2="480.78" stroke="#b5244a" stroke-width="0.7"/>
<line x1="382.99" y1="479.05" x2="384.79" y2="479.05" stroke="#b5244a" stroke-width="0.6"/>
<line x1="382.99" y1="480.78" x2="384.79" y2="480.78" stroke="#b5244a" stroke-width="0.6"/>
<circle cx="383.89" cy="479.91" r="0.95" fill="#921436"/>
<path d="M319.70,440.57 L328.87,444.60 L338.04,447.07 L347.21,451.49 L356.38,462.67 L365.55,478.79 L374.72,482.69 L383.89,481.99" fill="none" stroke="#205680" stroke-width="1.0" stroke-linejoin="round" stroke-linecap="round"/>
<circle cx="319.70" cy="440.57" r="0.95" fill="#163c5e"/>
<line x1="328.87" y1="442.87" x2="328.87" y2="446.33" stroke="#205680" stroke-width="0.7"/>
<line x1="327.97" y1="442.87" x2="329.77" y2="442.87" stroke="#205680" stroke-width="0.6"/>
<line x1="327.97" y1="446.33" x2="329.77" y2="446.33" stroke="#205680" stroke-width="0.6"/>
<circle cx="328.87" cy="444.60" r="0.95" fill="#163c5e"/>
<line x1="338.04" y1="445.34" x2="338.04" y2="448.80" stroke="#205680" stroke-width="0.7"/>
<line x1="337.14" y1="445.34" x2="338.94" y2="445.34" stroke="#205680" stroke-width="0.6"/>
<line x1="337.14" y1="448.80" x2="338.94" y2="448.80" stroke="#205680" stroke-width="0.6"/>
<circle cx="338.04" cy="447.07" r="0.95" fill="#163c5e"/>
<line x1="347.21" y1="449.32" x2="347.21" y2="453.66" stroke="#205680" stroke-width="0.7"/>
<line x1="346.31" y1="449.32" x2="348.11" y2="449.32" stroke="#205680" stroke-width="0.6"/>
<line x1="346.31" y1="453.66" x2="348.11" y2="453.66" stroke="#205680" stroke-width="0.6"/>
<circle cx="347.21" cy="451.49" r="0.95" fill="#163c5e"/>
<line x1="356.38" y1="459.20" x2="356.38" y2="466.13" stroke="#205680" stroke-width="0.7"/>
<line x1="355.48" y1="459.20" x2="357.28" y2="459.20" stroke="#205680" stroke-width="0.6"/>
<line x1="355.48" y1="466.13" x2="357.28" y2="466.13" stroke="#205680" stroke-width="0.6"/>
<circle cx="356.38" cy="462.67" r="0.95" fill="#163c5e"/>
<line x1="365.55" y1="477.92" x2="365.55" y2="479.65" stroke="#205680" stroke-width="0.7"/>
<line x1="364.65" y1="477.92" x2="366.45" y2="477.92" stroke="#205680" stroke-width="0.6"/>
<line x1="364.65" y1="479.65" x2="366.45" y2="479.65" stroke="#205680" stroke-width="0.6"/>
<circle cx="365.55" cy="478.79" r="0.95" fill="#163c5e"/>
<line x1="374.72" y1="482.25" x2="374.72" y2="483.12" stroke="#205680" stroke-width="0.7"/>
<line x1="373.82" y1="482.25" x2="375.62" y2="482.25" stroke="#205680" stroke-width="0.6"/>
<line x1="373.82" y1="483.12" x2="375.62" y2="483.12" stroke="#205680" stroke-width="0.6"/>
<circle cx="374.72" cy="482.69" r="0.95" fill="#163c5e"/>
<line x1="383.89" y1="481.56" x2="383.89" y2="482.43" stroke="#205680" stroke-width="0.7"/>
<line x1="382.99" y1="481.56" x2="384.79" y2="481.56" stroke="#205680" stroke-width="0.6"/>
<line x1="382.99" y1="482.43" x2="384.79" y2="482.43" stroke="#205680" stroke-width="0.6"/>
<circle cx="383.89" cy="481.99" r="0.95" fill="#163c5e"/>
<text x="300.40" y="494.40" font-size="6.0" text-anchor="start" fill="#222222" stroke="#222222" stroke-width="0.2">Ven</text>
<text x="300.40" y="503.90" font-size="6.0" text-anchor="start" fill="#222222" stroke="#222222" stroke-width="0.2">TAK</text>
<text x="319.40" y="494.40" font-size="6.0" text-anchor="middle" fill="#222222" stroke="#222222" stroke-width="0.2">0</text>
<text x="327.80" y="494.40" font-size="6.0" text-anchor="middle" fill="#222222" stroke="#222222" stroke-width="0.2">3.91</text>
<text x="347.60" y="494.40" font-size="6.0" text-anchor="middle" fill="#222222" stroke="#222222" stroke-width="0.2">15.6</text>
<text x="365.40" y="494.40" font-size="6.0" text-anchor="middle" fill="#222222" stroke="#222222" stroke-width="0.2">62.5</text>
<text x="385.20" y="494.40" font-size="6.0" text-anchor="middle" fill="#222222" stroke="#222222" stroke-width="0.2">250</text>
<text x="319.40" y="503.90" font-size="6.0" text-anchor="middle" fill="#222222" stroke="#222222" stroke-width="0.2">0</text>
<text x="327.80" y="503.90" font-size="6.0" text-anchor="middle" fill="#222222" stroke="#222222" stroke-width="0.2">1.56</text>
<text x="347.60" y="503.90" font-size="6.0" text-anchor="middle" fill="#222222" stroke="#222222" stroke-width="0.2">6.25</text>
<text x="365.40" y="503.90" font-size="6.0" text-anchor="middle" fill="#222222" stroke="#222222" stroke-width="0.2">25</text>
<text x="385.20" y="503.90" font-size="6.0" text-anchor="middle" fill="#222222" stroke="#222222" stroke-width="0.2">100</text>
<text x="393.10" y="494.40" font-size="6.0" text-anchor="start" fill="#222222" stroke="#222222" stroke-width="0.2">(nM)</text>
<text x="393.10" y="503.90" font-size="6.0" text-anchor="start" fill="#222222" stroke="#222222" stroke-width="0.2">(nM)</text>
<line x1="366.60" y1="419.00" x2="372.80" y2="419.00" stroke="#b5244a" stroke-width="1.3"/>
<circle cx="369.70" cy="419.00" r="1.25" fill="#921436"/>
<text x="374.60" y="421.00" font-size="5.8" text-anchor="start" fill="#222222" stroke="#222222" stroke-width="0.2">Venetoclax</text>
<line x1="366.60" y1="428.40" x2="372.80" y2="428.40" stroke="#245a6a" stroke-width="1.3"/>
<circle cx="369.70" cy="428.40" r="1.25" fill="#163e4c"/>
<text x="374.60" y="430.40" font-size="5.8" text-anchor="start" fill="#222222" stroke="#222222" stroke-width="0.2">TAK-981</text>
<line x1="366.60" y1="437.90" x2="372.80" y2="437.90" stroke="#745490" stroke-width="1.3"/>
<circle cx="369.70" cy="437.90" r="1.25" fill="#3a2848"/>
<text x="374.60" y="439.90" font-size="5.8" text-anchor="start" fill="#222222" stroke="#222222" stroke-width="0.2">Combination</text>
<text x="195.40" y="540.00" font-size="7.9" text-anchor="middle" font-weight="bold" fill="#000" stroke="#000" stroke-width="0.12">MOLM-14</text>
<text x="79.60" y="551.10" font-size="6.8" text-anchor="middle" font-weight="bold" fill="#000" stroke="#000" stroke-width="0.12">Azacitidine + TAK-981</text>
<text x="195.00" y="550.60" font-size="6.8" text-anchor="middle" font-weight="bold" fill="#000" stroke="#000" stroke-width="0.12">Quizartinib + TAK-981</text>
<text x="310.30" y="548.40" font-size="6.8" text-anchor="middle" font-weight="bold" fill="#000" stroke="#000" stroke-width="0.12">Venetoclax + TAK-981</text>
<line x1="44.00" y1="582.70" x2="114.00" y2="582.70" stroke="#d6d6d6" stroke-width="1.3"/>
<line x1="43.00" y1="556.90" x2="43.00" y2="607.50" stroke="#3e3e3e" stroke-width="1.6"/>
<line x1="40.40" y1="558.50" x2="43.00" y2="558.50" stroke="#3e3e3e" stroke-width="1.2"/>
<text x="37.10" y="561.10" font-size="6.1" text-anchor="end" fill="#333" stroke="#333" stroke-width="0.2">2.0</text>
<line x1="40.40" y1="570.60" x2="43.00" y2="570.60" stroke="#3e3e3e" stroke-width="1.2"/>
<text x="37.10" y="573.20" font-size="6.1" text-anchor="end" fill="#333" stroke="#333" stroke-width="0.2">1.5</text>
<line x1="40.40" y1="582.70" x2="43.00" y2="582.70" stroke="#3e3e3e" stroke-width="1.2"/>
<text x="37.10" y="585.30" font-size="6.1" text-anchor="end" fill="#333" stroke="#333" stroke-width="0.2">1.0</text>
<line x1="40.40" y1="594.80" x2="43.00" y2="594.80" stroke="#3e3e3e" stroke-width="1.2"/>
<text x="37.10" y="597.40" font-size="6.1" text-anchor="end" fill="#333" stroke="#333" stroke-width="0.2">0.5</text>
<line x1="40.40" y1="606.90" x2="43.00" y2="606.90" stroke="#3e3e3e" stroke-width="1.2"/>
<text x="37.10" y="609.50" font-size="6.1" text-anchor="end" fill="#333" stroke="#333" stroke-width="0.2">0.0</text>
<line x1="41.80" y1="606.90" x2="115.70" y2="606.90" stroke="#3e3e3e" stroke-width="1.7"/>
<line x1="43.00" y1="606.90" x2="43.00" y2="608.90" stroke="#3e3e3e" stroke-width="0.8"/>
<line x1="46.55" y1="606.90" x2="46.55" y2="608.20" stroke="#3e3e3e" stroke-width="0.6"/>
<line x1="50.10" y1="606.90" x2="50.10" y2="608.20" stroke="#3e3e3e" stroke-width="0.6"/>
<line x1="53.65" y1="606.90" x2="53.65" y2="608.20" stroke="#3e3e3e" stroke-width="0.6"/>
<line x1="57.20" y1="606.90" x2="57.20" y2="608.20" stroke="#3e3e3e" stroke-width="0.6"/>
<line x1="60.75" y1="606.90" x2="60.75" y2="608.20" stroke="#3e3e3e" stroke-width="0.6"/>
<line x1="64.30" y1="606.90" x2="64.30" y2="608.20" stroke="#3e3e3e" stroke-width="0.6"/>
<line x1="67.85" y1="606.90" x2="67.85" y2="608.20" stroke="#3e3e3e" stroke-width="0.6"/>
<line x1="71.40" y1="606.90" x2="71.40" y2="608.20" stroke="#3e3e3e" stroke-width="0.6"/>
<line x1="74.95" y1="606.90" x2="74.95" y2="608.20" stroke="#3e3e3e" stroke-width="0.6"/>
<line x1="78.50" y1="606.90" x2="78.50" y2="608.90" stroke="#3e3e3e" stroke-width="0.8"/>
<line x1="82.05" y1="606.90" x2="82.05" y2="608.20" stroke="#3e3e3e" stroke-width="0.6"/>
<line x1="85.60" y1="606.90" x2="85.60" y2="608.20" stroke="#3e3e3e" stroke-width="0.6"/>
<line x1="89.15" y1="606.90" x2="89.15" y2="608.20" stroke="#3e3e3e" stroke-width="0.6"/>
<line x1="92.70" y1="606.90" x2="92.70" y2="608.20" stroke="#3e3e3e" stroke-width="0.6"/>
<line x1="96.25" y1="606.90" x2="96.25" y2="608.20" stroke="#3e3e3e" stroke-width="0.6"/>
<line x1="99.80" y1="606.90" x2="99.80" y2="608.20" stroke="#3e3e3e" stroke-width="0.6"/>
<line x1="103.35" y1="606.90" x2="103.35" y2="608.20" stroke="#3e3e3e" stroke-width="0.6"/>
<line x1="106.90" y1="606.90" x2="106.90" y2="608.20" stroke="#3e3e3e" stroke-width="0.6"/>
<line x1="110.45" y1="606.90" x2="110.45" y2="608.20" stroke="#3e3e3e" stroke-width="0.6"/>
<line x1="114.00" y1="606.90" x2="114.00" y2="608.90" stroke="#3e3e3e" stroke-width="0.8"/>
<text x="43.00" y="618.20" font-size="6.1" text-anchor="middle" fill="#333" stroke="#333" stroke-width="0.2">0.0</text>
<text x="78.50" y="618.20" font-size="6.1" text-anchor="middle" fill="#333" stroke="#333" stroke-width="0.2">0.5</text>
<text x="114.00" y="618.20" font-size="6.1" text-anchor="middle" fill="#333" stroke="#333" stroke-width="0.2">1.0</text>
<text x="79.85" y="627.80" font-size="7.9" text-anchor="middle" font-weight="bold" fill="#222222" stroke="#222222" stroke-width="0.2" textLength="6.40" lengthAdjust="spacingAndGlyphs">Fa</text>
<text x="23.40" y="581.10" font-size="7.6" text-anchor="middle" font-weight="bold" fill="#222222" stroke="#222222" stroke-width="0.2" transform="rotate(-90 23.40 581.10)" textLength="46.00" lengthAdjust="spacingAndGlyphs">Combination index</text>
<path d="M46.55,594.68 L47.38,594.69 L48.20,594.70 L49.03,594.71 L49.86,594.73 L50.68,594.74 L51.51,594.75 L52.34,594.76 L53.16,594.77 L53.99,594.78 L54.82,594.78 L55.65,594.79 L56.47,594.80 L57.30,594.80 L58.13,594.81 L58.95,594.81 L59.78,594.81 L60.61,594.81 L61.43,594.81 L62.26,594.81 L63.09,594.81 L63.91,594.80 L64.74,594.80 L65.57,594.79 L66.39,594.78 L67.22,594.77 L68.05,594.75 L68.87,594.74 L69.70,594.73 L70.53,594.71 L71.36,594.70 L72.18,594.68 L73.01,594.66 L73.84,594.65 L74.66,594.63 L75.49,594.61 L76.32,594.60 L77.14,594.58 L77.97,594.57 L78.80,594.55 L79.62,594.54 L80.45,594.53 L81.28,594.51 L82.10,594.50 L82.93,594.49 L83.76,594.48 L84.58,594.47 L85.41,594.45 L86.24,594.44 L87.06,594.43 L87.89,594.41 L88.72,594.40 L89.55,594.38 L90.37,594.37 L91.20,594.35 L92.03,594.33 L92.85,594.31 L93.68,594.29 L94.51,594.27 L95.33,594.24 L96.16,594.20 L96.99,594.17 L97.81,594.12 L98.64,594.07 L99.47,594.01 L100.29,593.94 L101.12,593.86 L101.95,593.77 L102.77,593.67 L103.60,593.55 L104.43,593.43 L105.26,593.29 L106.08,593.13 L106.91,592.97 L107.74,592.81 L108.56,592.63 L109.39,592.45 L110.22,592.27 L111.04,592.08 L111.87,591.90" fill="none" stroke="#74b484" stroke-width="1.9" stroke-linejoin="round" stroke-linecap="round"/>
<line x1="159.00" y1="582.70" x2="229.30" y2="582.70" stroke="#d6d6d6" stroke-width="1.3"/>
<line x1="158.00" y1="556.90" x2="158.00" y2="607.50" stroke="#3e3e3e" stroke-width="1.6"/>
<line x1="155.40" y1="558.50" x2="158.00" y2="558.50" stroke="#3e3e3e" stroke-width="1.2"/>
<text x="152.10" y="561.10" font-size="6.1" text-anchor="end" fill="#333" stroke="#333" stroke-width="0.2">2.0</text>
<line x1="155.40" y1="570.60" x2="158.00" y2="570.60" stroke="#3e3e3e" stroke-width="1.2"/>
<text x="152.10" y="573.20" font-size="6.1" text-anchor="end" fill="#333" stroke="#333" stroke-width="0.2">1.5</text>
<line x1="155.40" y1="582.70" x2="158.00" y2="582.70" stroke="#3e3e3e" stroke-width="1.2"/>
<text x="152.10" y="585.30" font-size="6.1" text-anchor="end" fill="#333" stroke="#333" stroke-width="0.2">1.0</text>
<line x1="155.40" y1="594.80" x2="158.00" y2="594.80" stroke="#3e3e3e" stroke-width="1.2"/>
<text x="152.10" y="597.40" font-size="6.1" text-anchor="end" fill="#333" stroke="#333" stroke-width="0.2">0.5</text>
<line x1="155.40" y1="606.90" x2="158.00" y2="606.90" stroke="#3e3e3e" stroke-width="1.2"/>
<text x="152.10" y="609.50" font-size="6.1" text-anchor="end" fill="#333" stroke="#333" stroke-width="0.2">0.0</text>
<line x1="156.80" y1="606.90" x2="230.50" y2="606.90" stroke="#3e3e3e" stroke-width="1.7"/>
<line x1="158.00" y1="606.90" x2="158.00" y2="608.90" stroke="#3e3e3e" stroke-width="0.8"/>
<line x1="161.56" y1="606.90" x2="161.56" y2="608.20" stroke="#3e3e3e" stroke-width="0.6"/>
<line x1="165.13" y1="606.90" x2="165.13" y2="608.20" stroke="#3e3e3e" stroke-width="0.6"/>
<line x1="168.69" y1="606.90" x2="168.69" y2="608.20" stroke="#3e3e3e" stroke-width="0.6"/>
<line x1="172.26" y1="606.90" x2="172.26" y2="608.20" stroke="#3e3e3e" stroke-width="0.6"/>
<line x1="175.82" y1="606.90" x2="175.82" y2="608.20" stroke="#3e3e3e" stroke-width="0.6"/>
<line x1="179.39" y1="606.90" x2="179.39" y2="608.20" stroke="#3e3e3e" stroke-width="0.6"/>
<line x1="182.96" y1="606.90" x2="182.96" y2="608.20" stroke="#3e3e3e" stroke-width="0.6"/>
<line x1="186.52" y1="606.90" x2="186.52" y2="608.20" stroke="#3e3e3e" stroke-width="0.6"/>
<line x1="190.09" y1="606.90" x2="190.09" y2="608.20" stroke="#3e3e3e" stroke-width="0.6"/>
<line x1="193.65" y1="606.90" x2="193.65" y2="608.90" stroke="#3e3e3e" stroke-width="0.8"/>
<line x1="197.22" y1="606.90" x2="197.22" y2="608.20" stroke="#3e3e3e" stroke-width="0.6"/>
<line x1="200.78" y1="606.90" x2="200.78" y2="608.20" stroke="#3e3e3e" stroke-width="0.6"/>
<line x1="204.34" y1="606.90" x2="204.34" y2="608.20" stroke="#3e3e3e" stroke-width="0.6"/>
<line x1="207.91" y1="606.90" x2="207.91" y2="608.20" stroke="#3e3e3e" stroke-width="0.6"/>
<line x1="211.47" y1="606.90" x2="211.47" y2="608.20" stroke="#3e3e3e" stroke-width="0.6"/>
<line x1="215.04" y1="606.90" x2="215.04" y2="608.20" stroke="#3e3e3e" stroke-width="0.6"/>
<line x1="218.61" y1="606.90" x2="218.61" y2="608.20" stroke="#3e3e3e" stroke-width="0.6"/>
<line x1="222.17" y1="606.90" x2="222.17" y2="608.20" stroke="#3e3e3e" stroke-width="0.6"/>
<line x1="225.74" y1="606.90" x2="225.74" y2="608.20" stroke="#3e3e3e" stroke-width="0.6"/>
<line x1="229.30" y1="606.90" x2="229.30" y2="608.90" stroke="#3e3e3e" stroke-width="0.8"/>
<text x="158.00" y="618.20" font-size="6.1" text-anchor="middle" fill="#333" stroke="#333" stroke-width="0.2">0.0</text>
<text x="193.65" y="618.20" font-size="6.1" text-anchor="middle" fill="#333" stroke="#333" stroke-width="0.2">0.5</text>
<text x="229.30" y="618.20" font-size="6.1" text-anchor="middle" fill="#333" stroke="#333" stroke-width="0.2">1.0</text>
<text x="192.40" y="627.80" font-size="7.9" text-anchor="middle" font-weight="bold" fill="#222222" stroke="#222222" stroke-width="0.2" textLength="6.40" lengthAdjust="spacingAndGlyphs">Fa</text>
<text x="138.80" y="581.10" font-size="7.6" text-anchor="middle" font-weight="bold" fill="#222222" stroke="#222222" stroke-width="0.2" transform="rotate(-90 138.80 581.10)" textLength="46.00" lengthAdjust="spacingAndGlyphs">Combination index</text>
<path d="M168.91,564.79 L169.65,565.69 L170.39,566.57 L171.13,567.44 L171.88,568.28 L172.62,569.09 L173.36,569.86 L174.10,570.57 L174.84,571.23 L175.59,571.83 L176.33,572.37 L177.07,572.87 L177.81,573.32 L178.55,573.74 L179.30,574.13 L180.04,574.49 L180.78,574.84 L181.52,575.16 L182.26,575.48 L183.00,575.79 L183.75,576.10 L184.49,576.39 L185.23,576.68 L185.97,576.96 L186.71,577.23 L187.46,577.49 L188.20,577.74 L188.94,577.99 L189.68,578.22 L190.42,578.45 L191.17,578.67 L191.91,578.88 L192.65,579.08 L193.39,579.27 L194.13,579.45 L194.87,579.63 L195.62,579.80 L196.36,579.96 L197.10,580.12 L197.84,580.27 L198.58,580.42 L199.33,580.56 L200.07,580.69 L200.81,580.83 L201.55,580.96 L202.29,581.08 L203.04,581.21 L203.78,581.33 L204.52,581.45 L205.26,581.57 L206.00,581.68 L206.74,581.79 L207.49,581.90 L208.23,581.99 L208.97,582.08 L209.71,582.17 L210.45,582.24 L211.20,582.31 L211.94,582.36 L212.68,582.40 L213.42,582.43 L214.16,582.45 L214.91,582.46 L215.65,582.45 L216.39,582.42 L217.13,582.39 L217.87,582.33 L218.61,582.26 L219.36,582.18 L220.10,582.07 L220.84,581.96 L221.58,581.82 L222.32,581.67 L223.07,581.50 L223.81,581.32 L224.55,581.13 L225.29,580.92 L226.03,580.71 L226.78,580.50 L227.52,580.28" fill="none" stroke="#47934f" stroke-width="1.0" stroke-linejoin="round" stroke-linecap="round"/>
<line x1="274.40" y1="582.90" x2="344.20" y2="582.90" stroke="#d6d6d6" stroke-width="1.3"/>
<line x1="273.40" y1="557.10" x2="273.40" y2="607.70" stroke="#3e3e3e" stroke-width="1.6"/>
<line x1="270.80" y1="558.70" x2="273.40" y2="558.70" stroke="#3e3e3e" stroke-width="1.2"/>
<text x="267.50" y="561.30" font-size="6.1" text-anchor="end" fill="#333" stroke="#333" stroke-width="0.2">2.0</text>
<line x1="270.80" y1="570.80" x2="273.40" y2="570.80" stroke="#3e3e3e" stroke-width="1.2"/>
<text x="267.50" y="573.40" font-size="6.1" text-anchor="end" fill="#333" stroke="#333" stroke-width="0.2">1.5</text>
<line x1="270.80" y1="582.90" x2="273.40" y2="582.90" stroke="#3e3e3e" stroke-width="1.2"/>
<text x="267.50" y="585.50" font-size="6.1" text-anchor="end" fill="#333" stroke="#333" stroke-width="0.2">1.0</text>
<line x1="270.80" y1="595.00" x2="273.40" y2="595.00" stroke="#3e3e3e" stroke-width="1.2"/>
<text x="267.50" y="597.60" font-size="6.1" text-anchor="end" fill="#333" stroke="#333" stroke-width="0.2">0.5</text>
<line x1="270.80" y1="607.10" x2="273.40" y2="607.10" stroke="#3e3e3e" stroke-width="1.2"/>
<text x="267.50" y="609.70" font-size="6.1" text-anchor="end" fill="#333" stroke="#333" stroke-width="0.2">0.0</text>
<line x1="272.20" y1="607.10" x2="346.50" y2="607.10" stroke="#3e3e3e" stroke-width="1.7"/>
<line x1="273.40" y1="607.10" x2="273.40" y2="609.10" stroke="#3e3e3e" stroke-width="0.8"/>
<line x1="276.94" y1="607.10" x2="276.94" y2="608.40" stroke="#3e3e3e" stroke-width="0.6"/>
<line x1="280.48" y1="607.10" x2="280.48" y2="608.40" stroke="#3e3e3e" stroke-width="0.6"/>
<line x1="284.02" y1="607.10" x2="284.02" y2="608.40" stroke="#3e3e3e" stroke-width="0.6"/>
<line x1="287.56" y1="607.10" x2="287.56" y2="608.40" stroke="#3e3e3e" stroke-width="0.6"/>
<line x1="291.10" y1="607.10" x2="291.10" y2="608.40" stroke="#3e3e3e" stroke-width="0.6"/>
<line x1="294.64" y1="607.10" x2="294.64" y2="608.40" stroke="#3e3e3e" stroke-width="0.6"/>
<line x1="298.18" y1="607.10" x2="298.18" y2="608.40" stroke="#3e3e3e" stroke-width="0.6"/>
<line x1="301.72" y1="607.10" x2="301.72" y2="608.40" stroke="#3e3e3e" stroke-width="0.6"/>
<line x1="305.26" y1="607.10" x2="305.26" y2="608.40" stroke="#3e3e3e" stroke-width="0.6"/>
<line x1="308.80" y1="607.10" x2="308.80" y2="609.10" stroke="#3e3e3e" stroke-width="0.8"/>
<line x1="312.34" y1="607.10" x2="312.34" y2="608.40" stroke="#3e3e3e" stroke-width="0.6"/>
<line x1="315.88" y1="607.10" x2="315.88" y2="608.40" stroke="#3e3e3e" stroke-width="0.6"/>
<line x1="319.42" y1="607.10" x2="319.42" y2="608.40" stroke="#3e3e3e" stroke-width="0.6"/>
<line x1="322.96" y1="607.10" x2="322.96" y2="608.40" stroke="#3e3e3e" stroke-width="0.6"/>
<line x1="326.50" y1="607.10" x2="326.50" y2="608.40" stroke="#3e3e3e" stroke-width="0.6"/>
<line x1="330.04" y1="607.10" x2="330.04" y2="608.40" stroke="#3e3e3e" stroke-width="0.6"/>
<line x1="333.58" y1="607.10" x2="333.58" y2="608.40" stroke="#3e3e3e" stroke-width="0.6"/>
<line x1="337.12" y1="607.10" x2="337.12" y2="608.40" stroke="#3e3e3e" stroke-width="0.6"/>
<line x1="340.66" y1="607.10" x2="340.66" y2="608.40" stroke="#3e3e3e" stroke-width="0.6"/>
<line x1="344.20" y1="607.10" x2="344.20" y2="609.10" stroke="#3e3e3e" stroke-width="0.8"/>
<text x="273.40" y="618.20" font-size="6.1" text-anchor="middle" fill="#333" stroke="#333" stroke-width="0.2">0.0</text>
<text x="308.80" y="618.20" font-size="6.1" text-anchor="middle" fill="#333" stroke="#333" stroke-width="0.2">0.5</text>
<text x="344.20" y="618.20" font-size="6.1" text-anchor="middle" fill="#333" stroke="#333" stroke-width="0.2">1.0</text>
<text x="309.20" y="627.00" font-size="7.9" text-anchor="middle" font-weight="bold" fill="#222222" stroke="#222222" stroke-width="0.2" textLength="6.40" lengthAdjust="spacingAndGlyphs">Fa</text>
<text x="253.80" y="581.30" font-size="7.6" text-anchor="middle" font-weight="bold" fill="#222222" stroke="#222222" stroke-width="0.2" transform="rotate(-90 253.80 581.30)" textLength="46.00" lengthAdjust="spacingAndGlyphs">Combination index</text>
<path d="M287.28,553.86 L287.98,554.99 L288.68,556.13 L289.38,557.25 L290.08,558.37 L290.79,559.47 L291.49,560.56 L292.19,561.62 L292.89,562.67 L293.59,563.69 L294.29,564.68 L295.00,565.64 L295.70,566.56 L296.40,567.45 L297.10,568.31 L297.80,569.12 L298.50,569.91 L299.21,570.66 L299.91,571.38 L300.61,572.07 L301.31,572.72 L302.01,573.35 L302.71,573.96 L303.42,574.53 L304.12,575.08 L304.82,575.61 L305.52,576.11 L306.22,576.60 L306.93,577.07 L307.63,577.53 L308.33,577.98 L309.03,578.43 L309.73,578.86 L310.43,579.30 L311.14,579.73 L311.84,580.16 L312.54,580.60 L313.24,581.03 L313.94,581.46 L314.64,581.89 L315.35,582.31 L316.05,582.73 L316.75,583.14 L317.45,583.55 L318.15,583.95 L318.85,584.35 L319.56,584.73 L320.26,585.12 L320.96,585.49 L321.66,585.86 L322.36,586.22 L323.06,586.59 L323.77,586.94 L324.47,587.29 L325.17,587.64 L325.87,587.99 L326.57,588.33 L327.28,588.68 L327.98,589.02 L328.68,589.36 L329.38,589.71 L330.08,590.06 L330.78,590.41 L331.49,590.77 L332.19,591.14 L332.89,591.51 L333.59,591.89 L334.29,592.27 L334.99,592.67 L335.70,593.07 L336.40,593.47 L337.10,593.88 L337.80,594.30 L338.50,594.72 L339.20,595.15 L339.91,595.57 L340.61,596.00 L341.31,596.43 L342.01,596.87 L342.71,597.30" fill="none" stroke="#47934f" stroke-width="1.0" stroke-linejoin="round" stroke-linecap="round"/>
</g>
</svg><div id="bd"></div></div></body></html>
